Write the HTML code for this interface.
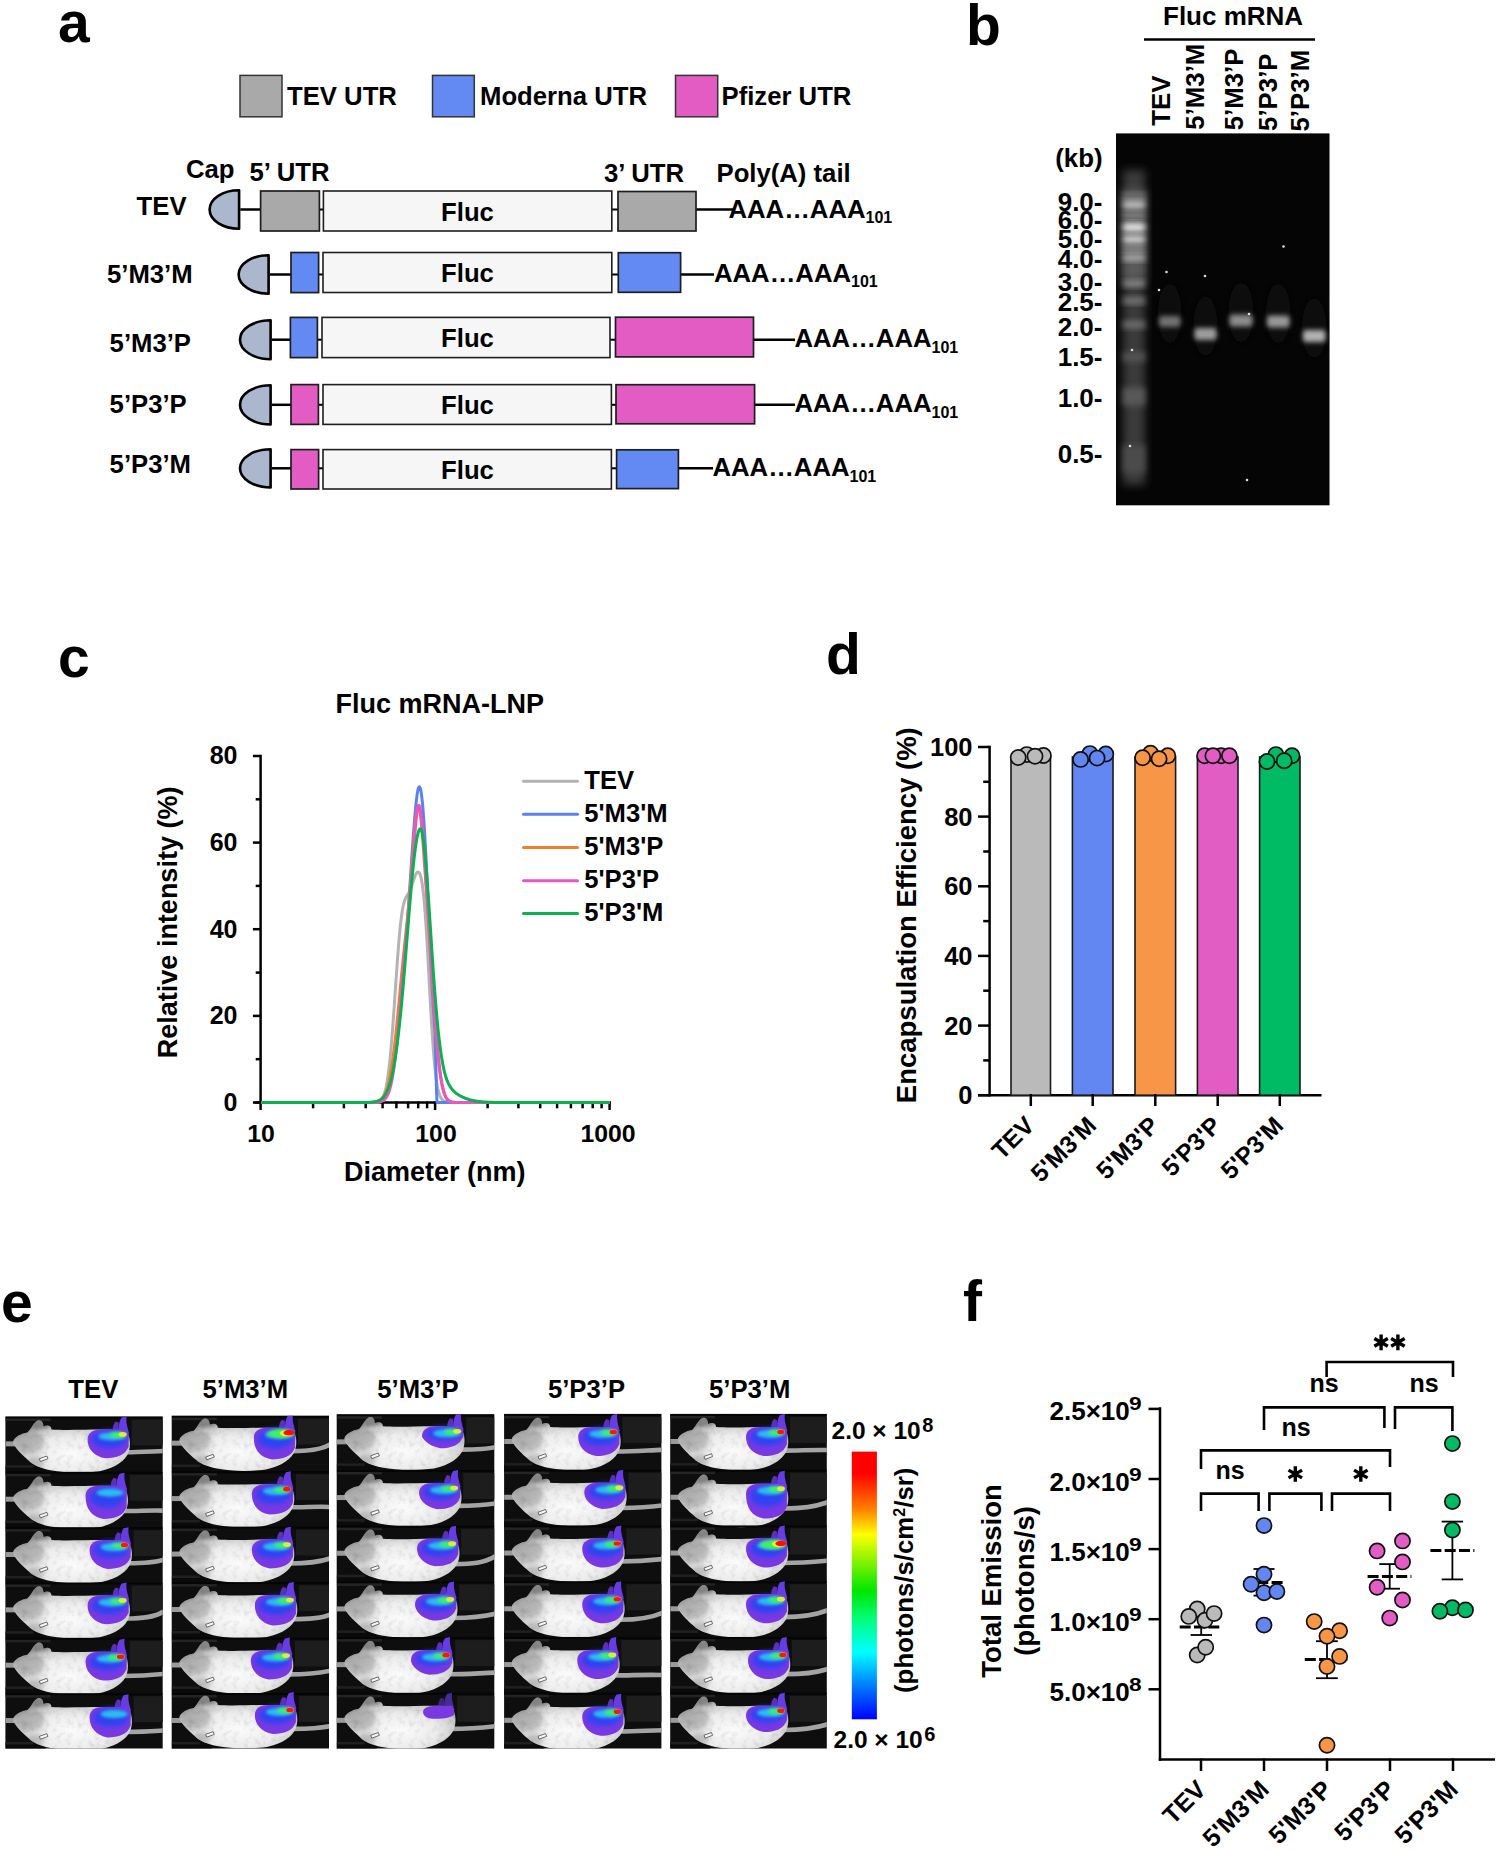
<!DOCTYPE html>
<html><head><meta charset="utf-8"><title>Figure</title>
<style>html,body{margin:0;padding:0;background:#fff;}svg{display:block;}</style></head>
<body>
<svg width="1500" height="1850" viewBox="0 0 1500 1850" font-family="Liberation Sans" font-weight="bold">
<rect width="1500" height="1850" fill="#fff"/>
<text x="58.0" y="42.0" font-size="57" fill="#000" >a</text>
<rect x="240.0" y="75.4" width="42.0" height="41.4" fill="#a9a9a9" stroke="#333" stroke-width="1.5" />
<text x="287.0" y="105.3" font-size="25.7" fill="#000" >TEV UTR</text>
<rect x="432.5" y="75.4" width="41.8" height="41.4" fill="#6389f2" stroke="#333" stroke-width="1.5" />
<text x="480.0" y="105.3" font-size="25.7" fill="#000" >Moderna UTR</text>
<rect x="675.5" y="75.4" width="42.2" height="41.4" fill="#e35cc4" stroke="#333" stroke-width="1.5" />
<text x="721.5" y="105.3" font-size="25.7" fill="#000" >Pfizer UTR</text>
<text x="186.0" y="177.5" font-size="25.7" fill="#000" >Cap</text>
<text x="249.5" y="180.5" font-size="25.7" fill="#000" >5’ UTR</text>
<text x="604.0" y="181.5" font-size="25.7" fill="#000" >3’ UTR</text>
<text x="716.5" y="181.5" font-size="25.7" fill="#000" >Poly(A) tail</text>
<text x="136.6" y="215.0" font-size="25.7" fill="#000" >TEV</text>
<line x1="240.3" y1="209.5" x2="260.6" y2="209.5" stroke="#000" stroke-width="2.5" />
<line x1="319.4" y1="209.5" x2="323.4" y2="209.5" stroke="#000" stroke-width="2" />
<line x1="611.8" y1="209.5" x2="618.0" y2="209.5" stroke="#000" stroke-width="2" />
<line x1="696.0" y1="209.5" x2="735.0" y2="209.5" stroke="#000" stroke-width="2.5" />
<path d="M239.1,190.2 A29.5,19.3 0 0 0 239.1,228.8 Z" fill="#aab7cc" stroke="#000" stroke-width="2.6" stroke-linejoin="round"/>
<rect x="260.6" y="191.0" width="58.8" height="40.0" fill="#a9a9a9" stroke="#1e1e1e" stroke-width="1.7" />
<rect x="323.4" y="191.0" width="288.4" height="40.0" fill="#f6f6f6" stroke="#1e1e1e" stroke-width="1.6" />
<text x="467.5" y="220.5" font-size="25.7" text-anchor="middle" fill="#000" >Fluc</text>
<rect x="618.0" y="191.5" width="78.0" height="39.5" fill="#a9a9a9" stroke="#1e1e1e" stroke-width="1.7" />
<text x="728.5" y="217.7" font-size="25.7" fill="#000" >AAA…AAA<tspan font-size="16" dy="5.5">101</tspan></text>
<text x="107.0" y="283.0" font-size="25.7" fill="#000" >5’M3’M</text>
<line x1="269.8" y1="274.5" x2="291.0" y2="274.5" stroke="#000" stroke-width="2.5" />
<line x1="318.6" y1="274.5" x2="323.0" y2="274.5" stroke="#000" stroke-width="2" />
<line x1="611.8" y1="274.5" x2="618.3" y2="274.5" stroke="#000" stroke-width="2" />
<line x1="680.6" y1="274.5" x2="714.0" y2="274.5" stroke="#000" stroke-width="2.5" />
<path d="M268.6,255.2 A30.0,19.3 0 0 0 268.6,293.8 Z" fill="#aab7cc" stroke="#000" stroke-width="2.6" stroke-linejoin="round"/>
<rect x="291.0" y="252.5" width="27.6" height="40.1" fill="#6389f2" stroke="#1e1e1e" stroke-width="1.7" />
<rect x="323.0" y="252.5" width="288.8" height="40.0" fill="#f6f6f6" stroke="#1e1e1e" stroke-width="1.6" />
<text x="467.5" y="282.0" font-size="25.7" text-anchor="middle" fill="#000" >Fluc</text>
<rect x="618.3" y="252.7" width="62.3" height="39.6" fill="#6389f2" stroke="#1e1e1e" stroke-width="1.7" />
<text x="714.0" y="281.8" font-size="25.7" fill="#000" >AAA…AAA<tspan font-size="16" dy="5.5">101</tspan></text>
<text x="109.6" y="351.6" font-size="25.7" fill="#000" >5’M3’P</text>
<line x1="271.8" y1="339.7" x2="290.4" y2="339.7" stroke="#000" stroke-width="2.5" />
<line x1="317.4" y1="339.7" x2="322.0" y2="339.7" stroke="#000" stroke-width="2" />
<line x1="610.0" y1="339.7" x2="615.5" y2="339.7" stroke="#000" stroke-width="2" />
<line x1="753.5" y1="339.7" x2="795.0" y2="339.7" stroke="#000" stroke-width="2.5" />
<path d="M270.6,320.2 A30.6,19.5 0 0 0 270.6,359.2 Z" fill="#aab7cc" stroke="#000" stroke-width="2.6" stroke-linejoin="round"/>
<rect x="290.4" y="317.4" width="27.0" height="40.2" fill="#6389f2" stroke="#1e1e1e" stroke-width="1.7" />
<rect x="322.0" y="317.4" width="288.0" height="40.2" fill="#f6f6f6" stroke="#1e1e1e" stroke-width="1.6" />
<text x="467.5" y="347.0" font-size="25.7" text-anchor="middle" fill="#000" >Fluc</text>
<rect x="615.5" y="317.2" width="138.0" height="39.7" fill="#e35cc4" stroke="#1e1e1e" stroke-width="1.7" />
<text x="794.5" y="347.0" font-size="25.7" fill="#000" >AAA…AAA<tspan font-size="16" dy="5.5">101</tspan></text>
<text x="109.6" y="412.6" font-size="25.7" fill="#000" >5’P3’P</text>
<line x1="271.8" y1="404.8" x2="291.0" y2="404.8" stroke="#000" stroke-width="2.5" />
<line x1="318.4" y1="404.8" x2="323.0" y2="404.8" stroke="#000" stroke-width="2" />
<line x1="611.4" y1="404.8" x2="616.0" y2="404.8" stroke="#000" stroke-width="2" />
<line x1="754.6" y1="404.8" x2="795.0" y2="404.8" stroke="#000" stroke-width="2.5" />
<path d="M270.6,385.2 A30.6,19.6 0 0 0 270.6,424.4 Z" fill="#aab7cc" stroke="#000" stroke-width="2.6" stroke-linejoin="round"/>
<rect x="291.0" y="384.6" width="27.4" height="39.8" fill="#e35cc4" stroke="#1e1e1e" stroke-width="1.7" />
<rect x="323.0" y="384.6" width="288.4" height="39.8" fill="#f6f6f6" stroke="#1e1e1e" stroke-width="1.6" />
<text x="467.5" y="414.0" font-size="25.7" text-anchor="middle" fill="#000" >Fluc</text>
<rect x="616.0" y="384.7" width="138.6" height="39.1" fill="#e35cc4" stroke="#1e1e1e" stroke-width="1.7" />
<text x="794.5" y="412.0" font-size="25.7" fill="#000" >AAA…AAA<tspan font-size="16" dy="5.5">101</tspan></text>
<text x="109.6" y="473.0" font-size="25.7" fill="#000" >5’P3’M</text>
<line x1="271.8" y1="468.3" x2="291.0" y2="468.3" stroke="#000" stroke-width="2.5" />
<line x1="318.6" y1="468.3" x2="323.0" y2="468.3" stroke="#000" stroke-width="2" />
<line x1="611.4" y1="468.3" x2="616.6" y2="468.3" stroke="#000" stroke-width="2" />
<line x1="678.4" y1="468.3" x2="713.0" y2="468.3" stroke="#000" stroke-width="2.5" />
<path d="M270.6,449.2 A30.6,19.1 0 0 0 270.6,487.4 Z" fill="#aab7cc" stroke="#000" stroke-width="2.6" stroke-linejoin="round"/>
<rect x="291.0" y="449.6" width="27.6" height="39.4" fill="#e35cc4" stroke="#1e1e1e" stroke-width="1.7" />
<rect x="323.0" y="449.6" width="288.4" height="39.4" fill="#f6f6f6" stroke="#1e1e1e" stroke-width="1.6" />
<text x="467.5" y="478.8" font-size="25.7" text-anchor="middle" fill="#000" >Fluc</text>
<rect x="616.6" y="449.8" width="61.8" height="38.8" fill="#6389f2" stroke="#1e1e1e" stroke-width="1.7" />
<text x="712.5" y="476.3" font-size="25.7" fill="#000" >AAA…AAA<tspan font-size="16" dy="5.5">101</tspan></text>
<text x="966.0" y="45.0" font-size="57" fill="#000" >b</text>
<text x="1163.0" y="24.5" font-size="26" fill="#000" >Fluc mRNA</text>
<line x1="1144.0" y1="39.5" x2="1315.0" y2="39.5" stroke="#000" stroke-width="2.5" />
<text x="0" y="0" font-size="25.8" transform="translate(1169.5,125.7) rotate(-90)" >TEV</text>
<text x="0" y="0" font-size="25.8" transform="translate(1204.2,129.7) rotate(-90)" >5’M3’M</text>
<text x="0" y="0" font-size="25.8" transform="translate(1243.2,130.3) rotate(-90)" >5’M3’P</text>
<text x="0" y="0" font-size="25.8" transform="translate(1277.4,130.9) rotate(-90)" >5’P3’P</text>
<text x="0" y="0" font-size="25.8" transform="translate(1308.6,131.5) rotate(-90)" >5’P3’M</text>
<text x="1102.5" y="167.0" font-size="25.8" text-anchor="end" fill="#000" >(kb)</text>
<text x="1102.5" y="211.3" font-size="26" text-anchor="end" fill="#000" >9.0-</text>
<text x="1102.5" y="228.8" font-size="26" text-anchor="end" fill="#000" >6.0-</text>
<text x="1102.5" y="248.0" font-size="26" text-anchor="end" fill="#000" >5.0-</text>
<text x="1102.5" y="267.5" font-size="26" text-anchor="end" fill="#000" >4.0-</text>
<text x="1102.5" y="291.3" font-size="26" text-anchor="end" fill="#000" >3.0-</text>
<text x="1102.5" y="310.8" font-size="26" text-anchor="end" fill="#000" >2.5-</text>
<text x="1102.5" y="335.6" font-size="26" text-anchor="end" fill="#000" >2.0-</text>
<text x="1102.5" y="365.9" font-size="26" text-anchor="end" fill="#000" >1.5-</text>
<text x="1102.5" y="407.0" font-size="26" text-anchor="end" fill="#000" >1.0-</text>
<text x="1102.5" y="463.2" font-size="26" text-anchor="end" fill="#000" >0.5-</text>
<rect x="1116" y="133.4" width="213.5" height="371.9" fill="#050505"/>
<defs><filter id="gb" x="-50%" y="-50%" width="200%" height="200%"><feGaussianBlur stdDeviation="2.4"/></filter><filter id="gb2" x="-50%" y="-50%" width="200%" height="200%"><feGaussianBlur stdDeviation="4"/></filter><filter id="gb3" x="-50%" y="-50%" width="200%" height="200%"><feGaussianBlur stdDeviation="3"/></filter><clipPath id="gelclip"><rect x="1116" y="133.4" width="213.5" height="371.9"/></clipPath></defs>
<g clip-path="url(#gelclip)">
<rect x="1123" y="170" width="22" height="315" fill="#3a3a3a" filter="url(#gb2)"/>
<rect x="1123" y="190" width="22" height="90" fill="#5a5a5a" filter="url(#gb2)"/>
<rect x="1123" y="193.0" width="22" height="6" fill="rgb(114,114,114)" filter="url(#gb3)"/>
<rect x="1123" y="201.1" width="22" height="7" fill="rgb(204,204,204)" filter="url(#gb3)"/>
<rect x="1123" y="212.5" width="22" height="5" fill="rgb(140,140,140)" filter="url(#gb3)"/>
<rect x="1123" y="223.3" width="22" height="8" fill="rgb(242,242,242)" filter="url(#gb3)"/>
<rect x="1123" y="235.7" width="22" height="7" fill="rgb(224,224,224)" filter="url(#gb3)"/>
<rect x="1123" y="246.5" width="22" height="5" fill="rgb(153,153,153)" filter="url(#gb3)"/>
<rect x="1123" y="254.6" width="22" height="6" fill="rgb(183,183,183)" filter="url(#gb3)"/>
<rect x="1123" y="280.5" width="22" height="6" fill="rgb(147,147,147)" filter="url(#gb3)"/>
<rect x="1123" y="297.8" width="22" height="6" fill="rgb(127,127,127)" filter="url(#gb3)"/>
<rect x="1123" y="321.1" width="22" height="7" fill="rgb(114,114,114)" filter="url(#gb3)"/>
<rect x="1123" y="352.3" width="22" height="9" fill="rgb(84,84,84)" filter="url(#gb3)"/>
<rect x="1123" y="387.5" width="22" height="18" fill="rgb(89,89,89)" filter="url(#gb3)"/>
<rect x="1123" y="445.0" width="22" height="28" fill="rgb(76,76,76)" filter="url(#gb3)"/>
<ellipse cx="1169.8" cy="313.5" rx="11.8" ry="30" fill="#0c0c0c" filter="url(#gb2)"/>
<rect x="1159" y="316.0" width="21.5" height="11" rx="3" fill="rgb(114,114,114)" filter="url(#gb)"/>
<ellipse cx="1205.5" cy="326.0" rx="12.0" ry="30" fill="#0c0c0c" filter="url(#gb2)"/>
<rect x="1194.5" y="328.0" width="22.0" height="12" rx="3" fill="rgb(158,158,158)" filter="url(#gb)"/>
<ellipse cx="1241.0" cy="312.5" rx="12.5" ry="30" fill="#0c0c0c" filter="url(#gb2)"/>
<rect x="1229.5" y="314.5" width="23.0" height="12" rx="3" fill="rgb(140,140,140)" filter="url(#gb)"/>
<ellipse cx="1278.2" cy="313.5" rx="12.2" ry="30" fill="#0c0c0c" filter="url(#gb2)"/>
<rect x="1267" y="315.5" width="22.5" height="12" rx="3" fill="rgb(153,153,153)" filter="url(#gb)"/>
<ellipse cx="1314.2" cy="328.0" rx="12.2" ry="30" fill="#0c0c0c" filter="url(#gb2)"/>
<rect x="1303" y="330.0" width="22.5" height="12" rx="3" fill="rgb(178,178,178)" filter="url(#gb)"/>
<circle cx="1159" cy="290" r="1.3" fill="#ddd"/>
<circle cx="1166.5" cy="272" r="1.3" fill="#ddd"/>
<circle cx="1205" cy="276" r="1.3" fill="#ddd"/>
<circle cx="1249" cy="314" r="1.3" fill="#ddd"/>
<circle cx="1283.5" cy="246.5" r="1.3" fill="#ddd"/>
<circle cx="1132" cy="350" r="1.3" fill="#ddd"/>
<circle cx="1130" cy="446" r="1.3" fill="#ddd"/>
<circle cx="1247" cy="480" r="1.3" fill="#ddd"/>
</g>
<text x="58.0" y="677.0" font-size="57" fill="#000" >c</text>
<text x="439.7" y="712.7" font-size="27" text-anchor="middle" fill="#000" >Fluc mRNA-LNP</text>
<line x1="260.6" y1="754.8" x2="260.6" y2="1103.7" stroke="#000" stroke-width="2.5" />
<line x1="254.5" y1="1102.5" x2="610.8" y2="1102.5" stroke="#000" stroke-width="2.5" />
<line x1="252.9" y1="1102.5" x2="260.6" y2="1102.5" stroke="#000" stroke-width="2.5" />
<text x="237.5" y="1110.7" font-size="25" text-anchor="end" fill="#000" >0</text>
<line x1="255.7" y1="1059.2" x2="260.6" y2="1059.2" stroke="#000" stroke-width="2.5" />
<line x1="252.9" y1="1015.9" x2="260.6" y2="1015.9" stroke="#000" stroke-width="2.5" />
<text x="237.5" y="1024.1" font-size="25" text-anchor="end" fill="#000" >20</text>
<line x1="255.7" y1="972.6" x2="260.6" y2="972.6" stroke="#000" stroke-width="2.5" />
<line x1="252.9" y1="929.2" x2="260.6" y2="929.2" stroke="#000" stroke-width="2.5" />
<text x="237.5" y="937.5" font-size="25" text-anchor="end" fill="#000" >40</text>
<line x1="255.7" y1="885.9" x2="260.6" y2="885.9" stroke="#000" stroke-width="2.5" />
<line x1="252.9" y1="842.6" x2="260.6" y2="842.6" stroke="#000" stroke-width="2.5" />
<text x="237.5" y="850.8" font-size="25" text-anchor="end" fill="#000" >60</text>
<line x1="255.7" y1="799.3" x2="260.6" y2="799.3" stroke="#000" stroke-width="2.5" />
<line x1="252.9" y1="756.0" x2="260.6" y2="756.0" stroke="#000" stroke-width="2.5" />
<text x="237.5" y="764.2" font-size="25" text-anchor="end" fill="#000" >80</text>
<line x1="260.6" y1="1101.5" x2="260.6" y2="1110.0" stroke="#000" stroke-width="2.5" />
<line x1="313.1" y1="1101.5" x2="313.1" y2="1108.3" stroke="#000" stroke-width="2.5" />
<line x1="343.9" y1="1101.5" x2="343.9" y2="1108.3" stroke="#000" stroke-width="2.5" />
<line x1="365.7" y1="1101.5" x2="365.7" y2="1108.3" stroke="#000" stroke-width="2.5" />
<line x1="382.6" y1="1101.5" x2="382.6" y2="1108.3" stroke="#000" stroke-width="2.5" />
<line x1="396.4" y1="1101.5" x2="396.4" y2="1108.3" stroke="#000" stroke-width="2.5" />
<line x1="408.1" y1="1101.5" x2="408.1" y2="1108.3" stroke="#000" stroke-width="2.5" />
<line x1="418.2" y1="1101.5" x2="418.2" y2="1108.3" stroke="#000" stroke-width="2.5" />
<line x1="427.1" y1="1101.5" x2="427.1" y2="1108.3" stroke="#000" stroke-width="2.5" />
<line x1="435.1" y1="1101.5" x2="435.1" y2="1110.0" stroke="#000" stroke-width="2.5" />
<line x1="487.6" y1="1101.5" x2="487.6" y2="1108.3" stroke="#000" stroke-width="2.5" />
<line x1="518.4" y1="1101.5" x2="518.4" y2="1108.3" stroke="#000" stroke-width="2.5" />
<line x1="540.2" y1="1101.5" x2="540.2" y2="1108.3" stroke="#000" stroke-width="2.5" />
<line x1="557.1" y1="1101.5" x2="557.1" y2="1108.3" stroke="#000" stroke-width="2.5" />
<line x1="570.9" y1="1101.5" x2="570.9" y2="1108.3" stroke="#000" stroke-width="2.5" />
<line x1="582.6" y1="1101.5" x2="582.6" y2="1108.3" stroke="#000" stroke-width="2.5" />
<line x1="592.7" y1="1101.5" x2="592.7" y2="1108.3" stroke="#000" stroke-width="2.5" />
<line x1="601.6" y1="1101.5" x2="601.6" y2="1108.3" stroke="#000" stroke-width="2.5" />
<line x1="609.6" y1="1101.5" x2="609.6" y2="1110.0" stroke="#000" stroke-width="2.5" />
<text x="261.0" y="1141.5" font-size="24.8" text-anchor="middle" fill="#000" >10</text>
<text x="436.0" y="1141.5" font-size="24.8" text-anchor="middle" fill="#000" >100</text>
<text x="608.0" y="1141.5" font-size="24.8" text-anchor="middle" fill="#000" >1000</text>
<text x="434.8" y="1180.8" font-size="27" text-anchor="middle" fill="#000" >Diameter (nm)</text>
<text x="0" y="0" font-size="27" text-anchor="middle" transform="translate(177.2,922.4) rotate(-90)" >Relative intensity (%)</text>
<polyline points="261.5,1102.5 262.0,1102.5 262.5,1102.5 263.0,1102.5 263.5,1102.5 264.0,1102.5 264.5,1102.5 265.0,1102.5 265.5,1102.5 266.0,1102.5 266.5,1102.5 267.0,1102.5 267.5,1102.5 268.0,1102.5 268.5,1102.5 269.0,1102.5 269.5,1102.5 270.0,1102.5 270.5,1102.5 271.0,1102.5 271.5,1102.5 272.0,1102.5 272.5,1102.5 273.0,1102.5 273.5,1102.5 274.0,1102.5 274.5,1102.5 275.0,1102.5 275.5,1102.5 276.0,1102.5 276.5,1102.5 277.0,1102.5 277.5,1102.5 278.0,1102.5 278.5,1102.5 279.0,1102.5 279.5,1102.5 280.0,1102.5 280.5,1102.5 281.0,1102.5 281.5,1102.5 282.0,1102.5 282.5,1102.5 283.0,1102.5 283.5,1102.5 284.0,1102.5 284.5,1102.5 285.0,1102.5 285.5,1102.5 286.0,1102.5 286.5,1102.5 287.0,1102.5 287.5,1102.5 288.0,1102.5 288.5,1102.5 289.0,1102.5 289.5,1102.5 290.0,1102.5 290.5,1102.5 291.0,1102.5 291.5,1102.5 292.0,1102.5 292.5,1102.5 293.0,1102.5 293.5,1102.5 294.0,1102.5 294.5,1102.5 295.0,1102.5 295.5,1102.5 296.0,1102.5 296.5,1102.5 297.0,1102.5 297.5,1102.5 298.0,1102.5 298.5,1102.5 299.0,1102.5 299.5,1102.5 300.0,1102.5 300.5,1102.5 301.0,1102.5 301.5,1102.5 302.0,1102.5 302.5,1102.5 303.0,1102.5 303.5,1102.5 304.0,1102.5 304.5,1102.5 305.0,1102.5 305.5,1102.5 306.0,1102.5 306.5,1102.5 307.0,1102.5 307.5,1102.5 308.0,1102.5 308.5,1102.5 309.0,1102.5 309.5,1102.5 310.0,1102.5 310.5,1102.5 311.0,1102.5 311.5,1102.5 312.0,1102.5 312.5,1102.5 313.0,1102.5 313.5,1102.5 314.0,1102.5 314.5,1102.5 315.0,1102.5 315.5,1102.5 316.0,1102.5 316.5,1102.5 317.0,1102.5 317.5,1102.5 318.0,1102.5 318.5,1102.5 319.0,1102.5 319.5,1102.5 320.0,1102.5 320.5,1102.5 321.0,1102.5 321.5,1102.5 322.0,1102.5 322.5,1102.5 323.0,1102.5 323.5,1102.5 324.0,1102.5 324.5,1102.5 325.0,1102.5 325.5,1102.5 326.0,1102.5 326.5,1102.5 327.0,1102.5 327.5,1102.5 328.0,1102.5 328.5,1102.5 329.0,1102.5 329.5,1102.5 330.0,1102.5 330.5,1102.5 331.0,1102.5 331.5,1102.5 332.0,1102.5 332.5,1102.5 333.0,1102.5 333.5,1102.5 334.0,1102.5 334.5,1102.5 335.0,1102.5 335.5,1102.5 336.0,1102.5 336.5,1102.5 337.0,1102.5 337.5,1102.5 338.0,1102.5 338.5,1102.5 339.0,1102.5 339.5,1102.5 340.0,1102.5 340.5,1102.5 341.0,1102.5 341.5,1102.5 342.0,1102.5 342.5,1102.5 343.0,1102.5 343.5,1102.5 344.0,1102.5 344.5,1102.5 345.0,1102.5 345.5,1102.5 346.0,1102.5 346.5,1102.5 347.0,1102.5 347.5,1102.5 348.0,1102.5 348.5,1102.5 349.0,1102.5 349.5,1102.5 350.0,1102.5 350.5,1102.5 351.0,1102.5 351.5,1102.5 352.0,1102.5 352.5,1102.5 353.0,1102.5 353.5,1102.5 354.0,1102.5 354.5,1102.5 355.0,1102.5 355.5,1102.5 356.0,1102.5 356.5,1102.5 357.0,1102.5 357.5,1102.5 358.0,1102.5 358.5,1102.5 359.0,1102.5 359.5,1102.5 360.0,1102.5 360.5,1102.5 361.0,1102.5 361.5,1102.5 362.0,1102.5 362.5,1102.5 363.0,1102.5 363.5,1102.5 364.0,1102.5 364.5,1102.5 365.0,1102.5 365.5,1102.5 366.0,1102.5 366.5,1102.5 367.0,1102.5 367.5,1102.5 368.0,1102.5 368.5,1102.5 369.0,1102.5 369.5,1102.5 370.0,1102.5 370.5,1102.5 371.0,1102.5 371.5,1102.5 372.0,1102.5 372.5,1102.5 373.0,1102.4 373.5,1102.4 374.0,1102.4 374.5,1102.4 375.0,1102.3 375.5,1102.3 376.0,1102.2 376.5,1102.1 377.0,1102.0 377.5,1101.9 378.0,1101.8 378.5,1101.6 379.0,1101.4 379.5,1101.1 380.0,1100.8 380.5,1100.4 381.0,1099.9 381.5,1099.3 382.0,1098.7 382.5,1097.9 383.0,1096.9 383.5,1095.9 384.0,1094.6 384.5,1093.2 385.0,1091.5 385.5,1089.6 386.0,1087.5 386.5,1085.0 387.0,1082.3 387.5,1079.3 388.0,1075.9 388.5,1072.3 389.0,1068.2 389.5,1063.8 390.0,1059.1 390.5,1054.0 391.0,1048.5 391.5,1042.7 392.0,1036.6 392.5,1030.2 393.0,1023.5 393.5,1016.6 394.0,1009.6 394.5,1002.4 395.0,995.1 395.5,987.7 396.0,980.4 396.5,973.2 397.0,966.1 397.5,959.2 398.0,952.6 398.5,946.2 399.0,940.2 399.5,934.6 400.0,929.3 400.5,924.5 401.0,920.1 401.5,916.2 402.0,912.7 402.5,909.6 403.0,907.0 403.5,904.7 404.0,902.7 404.5,901.1 405.0,899.7 405.5,898.5 406.0,897.5 406.5,896.6 407.0,895.7 407.5,894.9 408.0,894.1 408.5,893.2 409.0,892.2 409.5,891.2 410.0,890.1 410.5,888.9 411.0,887.6 411.5,886.2 412.0,884.8 412.5,883.3 413.0,881.8 413.5,880.3 414.0,878.9 414.5,877.5 415.0,876.2 415.5,875.0 416.0,874.0 416.5,873.2 417.0,872.5 417.5,872.1 418.0,872.0 418.5,872.1 419.0,872.5 419.5,873.2 420.0,874.3 420.5,875.8 421.0,877.7 421.5,880.0 422.0,882.8 422.5,886.1 423.0,890.0 423.5,894.4 424.0,899.4 424.5,905.0 425.0,911.2 425.5,918.0 426.0,925.3 426.5,933.1 427.0,941.3 427.5,950.0 428.0,958.9 428.5,968.0 429.0,977.3 429.5,986.6 430.0,995.8 430.5,1004.8 431.0,1013.6 431.5,1022.1 432.0,1030.2 432.5,1037.9 433.0,1045.1 433.5,1051.7 434.0,1057.9 434.5,1063.5 435.0,1068.5 435.5,1073.1 436.0,1077.2 436.5,1080.8 437.0,1083.9 437.5,1086.7 438.0,1089.1 438.5,1091.2 439.0,1093.0 439.5,1094.5 440.0,1095.8 440.5,1096.9 441.0,1097.8 441.5,1098.6 442.0,1099.3 442.5,1099.8 443.0,1100.3 443.5,1100.7 444.0,1101.0 444.5,1101.3 445.0,1101.5 445.5,1101.7 446.0,1101.8 446.5,1102.0 447.0,1102.1 447.5,1102.2 448.0,1102.2 448.5,1102.3 449.0,1102.3 449.5,1102.4 450.0,1102.4 450.5,1102.4 451.0,1102.4 451.5,1102.4 452.0,1102.5 452.5,1102.5 453.0,1102.5 453.5,1102.5 454.0,1102.5 454.5,1102.5 455.0,1102.5 455.5,1102.5 456.0,1102.5 456.5,1102.5 457.0,1102.5 457.5,1102.5 458.0,1102.5 458.5,1102.5 459.0,1102.5 459.5,1102.5 460.0,1102.5 460.5,1102.5 461.0,1102.5 461.5,1102.5 462.0,1102.5 462.5,1102.5 463.0,1102.5 463.5,1102.5 464.0,1102.5 464.5,1102.5 465.0,1102.5 465.5,1102.5 466.0,1102.5 466.5,1102.5 467.0,1102.5 467.5,1102.5 468.0,1102.5 468.5,1102.5 469.0,1102.5 469.5,1102.5 470.0,1102.5 470.5,1102.5 471.0,1102.5 471.5,1102.5 472.0,1102.5 472.5,1102.5 473.0,1102.5 473.5,1102.5 474.0,1102.5 474.5,1102.5 475.0,1102.5 475.5,1102.5 476.0,1102.5 476.5,1102.5 477.0,1102.5 477.5,1102.5 478.0,1102.5 478.5,1102.5 479.0,1102.5 479.5,1102.5 480.0,1102.5 480.5,1102.5 481.0,1102.5 481.5,1102.5 482.0,1102.5 482.5,1102.5 483.0,1102.5 483.5,1102.5 484.0,1102.5 484.5,1102.5 485.0,1102.5 485.5,1102.5 486.0,1102.5 486.5,1102.5 487.0,1102.5 487.5,1102.5 488.0,1102.5 488.5,1102.5 489.0,1102.5 489.5,1102.5 490.0,1102.5 490.5,1102.5 491.0,1102.5 491.5,1102.5 492.0,1102.5 492.5,1102.5 493.0,1102.5 493.5,1102.5 494.0,1102.5 494.5,1102.5 495.0,1102.5 495.5,1102.5 496.0,1102.5 496.5,1102.5 497.0,1102.5 497.5,1102.5 498.0,1102.5 498.5,1102.5 499.0,1102.5 499.5,1102.5 500.0,1102.5 500.5,1102.5 501.0,1102.5 501.5,1102.5 502.0,1102.5 502.5,1102.5 503.0,1102.5 503.5,1102.5 504.0,1102.5 504.5,1102.5 505.0,1102.5 505.5,1102.5 506.0,1102.5 506.5,1102.5 507.0,1102.5 507.5,1102.5 508.0,1102.5 508.5,1102.5 509.0,1102.5 509.5,1102.5 510.0,1102.5 510.5,1102.5 511.0,1102.5 511.5,1102.5 512.0,1102.5 512.5,1102.5 513.0,1102.5 513.5,1102.5 514.0,1102.5 514.5,1102.5 515.0,1102.5 515.5,1102.5 516.0,1102.5 516.5,1102.5 517.0,1102.5 517.5,1102.5 518.0,1102.5 518.5,1102.5 519.0,1102.5 519.5,1102.5 520.0,1102.5 520.5,1102.5 521.0,1102.5 521.5,1102.5 522.0,1102.5 522.5,1102.5 523.0,1102.5 523.5,1102.5 524.0,1102.5 524.5,1102.5 525.0,1102.5 525.5,1102.5 526.0,1102.5 526.5,1102.5 527.0,1102.5 527.5,1102.5 528.0,1102.5 528.5,1102.5 529.0,1102.5 529.5,1102.5 530.0,1102.5 530.5,1102.5 531.0,1102.5 531.5,1102.5 532.0,1102.5 532.5,1102.5 533.0,1102.5 533.5,1102.5 534.0,1102.5 534.5,1102.5 535.0,1102.5 535.5,1102.5 536.0,1102.5 536.5,1102.5 537.0,1102.5 537.5,1102.5 538.0,1102.5 538.5,1102.5 539.0,1102.5 539.5,1102.5 540.0,1102.5 540.5,1102.5 541.0,1102.5 541.5,1102.5 542.0,1102.5 542.5,1102.5 543.0,1102.5 543.5,1102.5 544.0,1102.5 544.5,1102.5 545.0,1102.5 545.5,1102.5 546.0,1102.5 546.5,1102.5 547.0,1102.5 547.5,1102.5 548.0,1102.5 548.5,1102.5 549.0,1102.5 549.5,1102.5 550.0,1102.5 550.5,1102.5 551.0,1102.5 551.5,1102.5 552.0,1102.5 552.5,1102.5 553.0,1102.5 553.5,1102.5 554.0,1102.5 554.5,1102.5 555.0,1102.5 555.5,1102.5 556.0,1102.5 556.5,1102.5 557.0,1102.5 557.5,1102.5 558.0,1102.5 558.5,1102.5 559.0,1102.5 559.5,1102.5 560.0,1102.5 560.5,1102.5 561.0,1102.5 561.5,1102.5 562.0,1102.5 562.5,1102.5 563.0,1102.5 563.5,1102.5 564.0,1102.5 564.5,1102.5 565.0,1102.5 565.5,1102.5 566.0,1102.5 566.5,1102.5 567.0,1102.5 567.5,1102.5 568.0,1102.5 568.5,1102.5 569.0,1102.5 569.5,1102.5 570.0,1102.5 570.5,1102.5 571.0,1102.5 571.5,1102.5 572.0,1102.5 572.5,1102.5 573.0,1102.5 573.5,1102.5 574.0,1102.5 574.5,1102.5 575.0,1102.5 575.5,1102.5 576.0,1102.5 576.5,1102.5 577.0,1102.5 577.5,1102.5 578.0,1102.5 578.5,1102.5 579.0,1102.5 579.5,1102.5 580.0,1102.5 580.5,1102.5 581.0,1102.5 581.5,1102.5 582.0,1102.5 582.5,1102.5 583.0,1102.5 583.5,1102.5 584.0,1102.5 584.5,1102.5 585.0,1102.5 585.5,1102.5 586.0,1102.5 586.5,1102.5 587.0,1102.5 587.5,1102.5 588.0,1102.5 588.5,1102.5 589.0,1102.5 589.5,1102.5 590.0,1102.5 590.5,1102.5 591.0,1102.5 591.5,1102.5 592.0,1102.5 592.5,1102.5 593.0,1102.5 593.5,1102.5 594.0,1102.5 594.5,1102.5 595.0,1102.5 595.5,1102.5 596.0,1102.5 596.5,1102.5 597.0,1102.5 597.5,1102.5 598.0,1102.5 598.5,1102.5 599.0,1102.5 599.5,1102.5 600.0,1102.5 600.5,1102.5 601.0,1102.5 601.5,1102.5 602.0,1102.5 602.5,1102.5 603.0,1102.5 603.5,1102.5 604.0,1102.5 604.5,1102.5 605.0,1102.5 605.5,1102.5 606.0,1102.5 606.5,1102.5 607.0,1102.5 607.5,1102.5 608.0,1102.5 608.5,1102.5 609.0,1102.5 609.5,1102.5" fill="none" stroke="#b3b3b3" stroke-width="3" stroke-linejoin="round"/>
<polyline points="261.5,1102.5 262.0,1102.5 262.5,1102.5 263.0,1102.5 263.5,1102.5 264.0,1102.5 264.5,1102.5 265.0,1102.5 265.5,1102.5 266.0,1102.5 266.5,1102.5 267.0,1102.5 267.5,1102.5 268.0,1102.5 268.5,1102.5 269.0,1102.5 269.5,1102.5 270.0,1102.5 270.5,1102.5 271.0,1102.5 271.5,1102.5 272.0,1102.5 272.5,1102.5 273.0,1102.5 273.5,1102.5 274.0,1102.5 274.5,1102.5 275.0,1102.5 275.5,1102.5 276.0,1102.5 276.5,1102.5 277.0,1102.5 277.5,1102.5 278.0,1102.5 278.5,1102.5 279.0,1102.5 279.5,1102.5 280.0,1102.5 280.5,1102.5 281.0,1102.5 281.5,1102.5 282.0,1102.5 282.5,1102.5 283.0,1102.5 283.5,1102.5 284.0,1102.5 284.5,1102.5 285.0,1102.5 285.5,1102.5 286.0,1102.5 286.5,1102.5 287.0,1102.5 287.5,1102.5 288.0,1102.5 288.5,1102.5 289.0,1102.5 289.5,1102.5 290.0,1102.5 290.5,1102.5 291.0,1102.5 291.5,1102.5 292.0,1102.5 292.5,1102.5 293.0,1102.5 293.5,1102.5 294.0,1102.5 294.5,1102.5 295.0,1102.5 295.5,1102.5 296.0,1102.5 296.5,1102.5 297.0,1102.5 297.5,1102.5 298.0,1102.5 298.5,1102.5 299.0,1102.5 299.5,1102.5 300.0,1102.5 300.5,1102.5 301.0,1102.5 301.5,1102.5 302.0,1102.5 302.5,1102.5 303.0,1102.5 303.5,1102.5 304.0,1102.5 304.5,1102.5 305.0,1102.5 305.5,1102.5 306.0,1102.5 306.5,1102.5 307.0,1102.5 307.5,1102.5 308.0,1102.5 308.5,1102.5 309.0,1102.5 309.5,1102.5 310.0,1102.5 310.5,1102.5 311.0,1102.5 311.5,1102.5 312.0,1102.5 312.5,1102.5 313.0,1102.5 313.5,1102.5 314.0,1102.5 314.5,1102.5 315.0,1102.5 315.5,1102.5 316.0,1102.5 316.5,1102.5 317.0,1102.5 317.5,1102.5 318.0,1102.5 318.5,1102.5 319.0,1102.5 319.5,1102.5 320.0,1102.5 320.5,1102.5 321.0,1102.5 321.5,1102.5 322.0,1102.5 322.5,1102.5 323.0,1102.5 323.5,1102.5 324.0,1102.5 324.5,1102.5 325.0,1102.5 325.5,1102.5 326.0,1102.5 326.5,1102.5 327.0,1102.5 327.5,1102.5 328.0,1102.5 328.5,1102.5 329.0,1102.5 329.5,1102.5 330.0,1102.5 330.5,1102.5 331.0,1102.5 331.5,1102.5 332.0,1102.5 332.5,1102.5 333.0,1102.5 333.5,1102.5 334.0,1102.5 334.5,1102.5 335.0,1102.5 335.5,1102.5 336.0,1102.5 336.5,1102.5 337.0,1102.5 337.5,1102.5 338.0,1102.5 338.5,1102.5 339.0,1102.5 339.5,1102.5 340.0,1102.5 340.5,1102.5 341.0,1102.5 341.5,1102.5 342.0,1102.5 342.5,1102.5 343.0,1102.5 343.5,1102.5 344.0,1102.5 344.5,1102.5 345.0,1102.5 345.5,1102.5 346.0,1102.5 346.5,1102.5 347.0,1102.5 347.5,1102.5 348.0,1102.5 348.5,1102.5 349.0,1102.5 349.5,1102.5 350.0,1102.5 350.5,1102.5 351.0,1102.5 351.5,1102.5 352.0,1102.5 352.5,1102.5 353.0,1102.5 353.5,1102.5 354.0,1102.5 354.5,1102.5 355.0,1102.5 355.5,1102.5 356.0,1102.5 356.5,1102.5 357.0,1102.5 357.5,1102.5 358.0,1102.5 358.5,1102.5 359.0,1102.5 359.5,1102.5 360.0,1102.5 360.5,1102.5 361.0,1102.5 361.5,1102.5 362.0,1102.5 362.5,1102.5 363.0,1102.5 363.5,1102.5 364.0,1102.5 364.5,1102.5 365.0,1102.5 365.5,1102.5 366.0,1102.5 366.5,1102.5 367.0,1102.5 367.5,1102.5 368.0,1102.5 368.5,1102.5 369.0,1102.5 369.5,1102.5 370.0,1102.5 370.5,1102.5 371.0,1102.5 371.5,1102.4 372.0,1102.4 372.5,1102.4 373.0,1102.4 373.5,1102.4 374.0,1102.3 374.5,1102.3 375.0,1102.3 375.5,1102.2 376.0,1102.2 376.5,1102.1 377.0,1102.0 377.5,1101.9 378.0,1101.8 378.5,1101.7 379.0,1101.5 379.5,1101.4 380.0,1101.2 380.5,1100.9 381.0,1100.7 381.5,1100.4 382.0,1100.0 382.5,1099.6 383.0,1099.2 383.5,1098.7 384.0,1098.1 384.5,1097.5 385.0,1096.7 385.5,1095.9 386.0,1095.0 386.5,1094.0 387.0,1092.9 387.5,1091.7 388.0,1090.4 388.5,1089.0 389.0,1087.4 389.5,1085.6 390.0,1083.8 390.5,1081.8 391.0,1079.6 391.5,1077.3 392.0,1074.8 392.5,1072.1 393.0,1069.3 393.5,1066.3 394.0,1063.1 394.5,1059.8 395.0,1056.3 395.5,1052.6 396.0,1048.8 396.5,1044.8 397.0,1040.6 397.5,1036.3 398.0,1031.8 398.5,1027.2 399.0,1022.4 399.5,1017.6 400.0,1012.5 400.5,1007.3 401.0,1002.0 401.5,996.6 402.0,991.0 402.5,985.4 403.0,979.5 403.5,973.6 404.0,967.5 404.5,961.3 405.0,954.9 405.5,948.5 406.0,941.8 406.5,935.1 407.0,928.2 407.5,921.2 408.0,914.1 408.5,906.8 409.0,899.5 409.5,892.1 410.0,884.6 410.5,877.1 411.0,869.6 411.5,862.1 412.0,854.7 412.5,847.4 413.0,840.3 413.5,833.4 414.0,826.7 414.5,820.4 415.0,814.4 415.5,808.9 416.0,803.8 416.5,799.3 417.0,795.4 417.5,792.2 418.0,789.7 418.5,787.9 419.0,787.0 419.5,786.8 420.0,787.5 420.5,789.0 421.0,791.4 421.5,794.7 422.0,798.8 422.5,803.8 423.0,809.5 423.5,816.1 424.0,823.3 424.5,831.2 425.0,839.8 425.5,848.8 426.0,858.4 426.5,868.3 427.0,878.6 427.5,889.2 428.0,899.9 428.5,910.7 429.0,921.6 429.5,932.4 430.0,943.1 430.5,953.7 431.0,964.0 431.5,974.0 432.0,983.8 432.5,993.2 433.0,1002.1 433.5,1010.7 434.0,1018.8 434.5,1026.5 435.0,1033.7 435.5,1048.2 436.0,1071.1 436.5,1090.0 437.0,1102.5 437.5,1102.5 438.0,1102.5 438.5,1102.5 439.0,1102.5 439.5,1102.5 440.0,1102.5 440.5,1102.5 441.0,1102.5 441.5,1102.5 442.0,1102.5 442.5,1102.5 443.0,1102.5 443.5,1102.5 444.0,1102.5 444.5,1102.5 445.0,1102.5 445.5,1102.5 446.0,1102.5 446.5,1102.5 447.0,1102.5 447.5,1102.5 448.0,1102.5 448.5,1102.5 449.0,1102.5 449.5,1102.5 450.0,1102.5 450.5,1102.5 451.0,1102.5 451.5,1102.5 452.0,1102.5 452.5,1102.5 453.0,1102.5 453.5,1102.5 454.0,1102.5 454.5,1102.5 455.0,1102.5 455.5,1102.5 456.0,1102.5 456.5,1102.5 457.0,1102.5 457.5,1102.5 458.0,1102.5 458.5,1102.5 459.0,1102.5 459.5,1102.5 460.0,1102.5 460.5,1102.5 461.0,1102.5 461.5,1102.5 462.0,1102.5 462.5,1102.5 463.0,1102.5 463.5,1102.5 464.0,1102.5 464.5,1102.5 465.0,1102.5 465.5,1102.5 466.0,1102.5 466.5,1102.5 467.0,1102.5 467.5,1102.5 468.0,1102.5 468.5,1102.5 469.0,1102.5 469.5,1102.5 470.0,1102.5 470.5,1102.5 471.0,1102.5 471.5,1102.5 472.0,1102.5 472.5,1102.5 473.0,1102.5 473.5,1102.5 474.0,1102.5 474.5,1102.5 475.0,1102.5 475.5,1102.5 476.0,1102.5 476.5,1102.5 477.0,1102.5 477.5,1102.5 478.0,1102.5 478.5,1102.5 479.0,1102.5 479.5,1102.5 480.0,1102.5 480.5,1102.5 481.0,1102.5 481.5,1102.5 482.0,1102.5 482.5,1102.5 483.0,1102.5 483.5,1102.5 484.0,1102.5 484.5,1102.5 485.0,1102.5 485.5,1102.5 486.0,1102.5 486.5,1102.5 487.0,1102.5 487.5,1102.5 488.0,1102.5 488.5,1102.5 489.0,1102.5 489.5,1102.5 490.0,1102.5 490.5,1102.5 491.0,1102.5 491.5,1102.5 492.0,1102.5 492.5,1102.5 493.0,1102.5 493.5,1102.5 494.0,1102.5 494.5,1102.5 495.0,1102.5 495.5,1102.5 496.0,1102.5 496.5,1102.5 497.0,1102.5 497.5,1102.5 498.0,1102.5 498.5,1102.5 499.0,1102.5 499.5,1102.5 500.0,1102.5 500.5,1102.5 501.0,1102.5 501.5,1102.5 502.0,1102.5 502.5,1102.5 503.0,1102.5 503.5,1102.5 504.0,1102.5 504.5,1102.5 505.0,1102.5 505.5,1102.5 506.0,1102.5 506.5,1102.5 507.0,1102.5 507.5,1102.5 508.0,1102.5 508.5,1102.5 509.0,1102.5 509.5,1102.5 510.0,1102.5 510.5,1102.5 511.0,1102.5 511.5,1102.5 512.0,1102.5 512.5,1102.5 513.0,1102.5 513.5,1102.5 514.0,1102.5 514.5,1102.5 515.0,1102.5 515.5,1102.5 516.0,1102.5 516.5,1102.5 517.0,1102.5 517.5,1102.5 518.0,1102.5 518.5,1102.5 519.0,1102.5 519.5,1102.5 520.0,1102.5 520.5,1102.5 521.0,1102.5 521.5,1102.5 522.0,1102.5 522.5,1102.5 523.0,1102.5 523.5,1102.5 524.0,1102.5 524.5,1102.5 525.0,1102.5 525.5,1102.5 526.0,1102.5 526.5,1102.5 527.0,1102.5 527.5,1102.5 528.0,1102.5 528.5,1102.5 529.0,1102.5 529.5,1102.5 530.0,1102.5 530.5,1102.5 531.0,1102.5 531.5,1102.5 532.0,1102.5 532.5,1102.5 533.0,1102.5 533.5,1102.5 534.0,1102.5 534.5,1102.5 535.0,1102.5 535.5,1102.5 536.0,1102.5 536.5,1102.5 537.0,1102.5 537.5,1102.5 538.0,1102.5 538.5,1102.5 539.0,1102.5 539.5,1102.5 540.0,1102.5 540.5,1102.5 541.0,1102.5 541.5,1102.5 542.0,1102.5 542.5,1102.5 543.0,1102.5 543.5,1102.5 544.0,1102.5 544.5,1102.5 545.0,1102.5 545.5,1102.5 546.0,1102.5 546.5,1102.5 547.0,1102.5 547.5,1102.5 548.0,1102.5 548.5,1102.5 549.0,1102.5 549.5,1102.5 550.0,1102.5 550.5,1102.5 551.0,1102.5 551.5,1102.5 552.0,1102.5 552.5,1102.5 553.0,1102.5 553.5,1102.5 554.0,1102.5 554.5,1102.5 555.0,1102.5 555.5,1102.5 556.0,1102.5 556.5,1102.5 557.0,1102.5 557.5,1102.5 558.0,1102.5 558.5,1102.5 559.0,1102.5 559.5,1102.5 560.0,1102.5 560.5,1102.5 561.0,1102.5 561.5,1102.5 562.0,1102.5 562.5,1102.5 563.0,1102.5 563.5,1102.5 564.0,1102.5 564.5,1102.5 565.0,1102.5 565.5,1102.5 566.0,1102.5 566.5,1102.5 567.0,1102.5 567.5,1102.5 568.0,1102.5 568.5,1102.5 569.0,1102.5 569.5,1102.5 570.0,1102.5 570.5,1102.5 571.0,1102.5 571.5,1102.5 572.0,1102.5 572.5,1102.5 573.0,1102.5 573.5,1102.5 574.0,1102.5 574.5,1102.5 575.0,1102.5 575.5,1102.5 576.0,1102.5 576.5,1102.5 577.0,1102.5 577.5,1102.5 578.0,1102.5 578.5,1102.5 579.0,1102.5 579.5,1102.5 580.0,1102.5 580.5,1102.5 581.0,1102.5 581.5,1102.5 582.0,1102.5 582.5,1102.5 583.0,1102.5 583.5,1102.5 584.0,1102.5 584.5,1102.5 585.0,1102.5 585.5,1102.5 586.0,1102.5 586.5,1102.5 587.0,1102.5 587.5,1102.5 588.0,1102.5 588.5,1102.5 589.0,1102.5 589.5,1102.5 590.0,1102.5 590.5,1102.5 591.0,1102.5 591.5,1102.5 592.0,1102.5 592.5,1102.5 593.0,1102.5 593.5,1102.5 594.0,1102.5 594.5,1102.5 595.0,1102.5 595.5,1102.5 596.0,1102.5 596.5,1102.5 597.0,1102.5 597.5,1102.5 598.0,1102.5 598.5,1102.5 599.0,1102.5 599.5,1102.5 600.0,1102.5 600.5,1102.5 601.0,1102.5 601.5,1102.5 602.0,1102.5 602.5,1102.5 603.0,1102.5 603.5,1102.5 604.0,1102.5 604.5,1102.5 605.0,1102.5 605.5,1102.5 606.0,1102.5 606.5,1102.5 607.0,1102.5 607.5,1102.5 608.0,1102.5 608.5,1102.5 609.0,1102.5 609.5,1102.5" fill="none" stroke="#5b80ef" stroke-width="3" stroke-linejoin="round"/>
<polyline points="261.5,1102.5 262.0,1102.5 262.5,1102.5 263.0,1102.5 263.5,1102.5 264.0,1102.5 264.5,1102.5 265.0,1102.5 265.5,1102.5 266.0,1102.5 266.5,1102.5 267.0,1102.5 267.5,1102.5 268.0,1102.5 268.5,1102.5 269.0,1102.5 269.5,1102.5 270.0,1102.5 270.5,1102.5 271.0,1102.5 271.5,1102.5 272.0,1102.5 272.5,1102.5 273.0,1102.5 273.5,1102.5 274.0,1102.5 274.5,1102.5 275.0,1102.5 275.5,1102.5 276.0,1102.5 276.5,1102.5 277.0,1102.5 277.5,1102.5 278.0,1102.5 278.5,1102.5 279.0,1102.5 279.5,1102.5 280.0,1102.5 280.5,1102.5 281.0,1102.5 281.5,1102.5 282.0,1102.5 282.5,1102.5 283.0,1102.5 283.5,1102.5 284.0,1102.5 284.5,1102.5 285.0,1102.5 285.5,1102.5 286.0,1102.5 286.5,1102.5 287.0,1102.5 287.5,1102.5 288.0,1102.5 288.5,1102.5 289.0,1102.5 289.5,1102.5 290.0,1102.5 290.5,1102.5 291.0,1102.5 291.5,1102.5 292.0,1102.5 292.5,1102.5 293.0,1102.5 293.5,1102.5 294.0,1102.5 294.5,1102.5 295.0,1102.5 295.5,1102.5 296.0,1102.5 296.5,1102.5 297.0,1102.5 297.5,1102.5 298.0,1102.5 298.5,1102.5 299.0,1102.5 299.5,1102.5 300.0,1102.5 300.5,1102.5 301.0,1102.5 301.5,1102.5 302.0,1102.5 302.5,1102.5 303.0,1102.5 303.5,1102.5 304.0,1102.5 304.5,1102.5 305.0,1102.5 305.5,1102.5 306.0,1102.5 306.5,1102.5 307.0,1102.5 307.5,1102.5 308.0,1102.5 308.5,1102.5 309.0,1102.5 309.5,1102.5 310.0,1102.5 310.5,1102.5 311.0,1102.5 311.5,1102.5 312.0,1102.5 312.5,1102.5 313.0,1102.5 313.5,1102.5 314.0,1102.5 314.5,1102.5 315.0,1102.5 315.5,1102.5 316.0,1102.5 316.5,1102.5 317.0,1102.5 317.5,1102.5 318.0,1102.5 318.5,1102.5 319.0,1102.5 319.5,1102.5 320.0,1102.5 320.5,1102.5 321.0,1102.5 321.5,1102.5 322.0,1102.5 322.5,1102.5 323.0,1102.5 323.5,1102.5 324.0,1102.5 324.5,1102.5 325.0,1102.5 325.5,1102.5 326.0,1102.5 326.5,1102.5 327.0,1102.5 327.5,1102.5 328.0,1102.5 328.5,1102.5 329.0,1102.5 329.5,1102.5 330.0,1102.5 330.5,1102.5 331.0,1102.5 331.5,1102.5 332.0,1102.5 332.5,1102.5 333.0,1102.5 333.5,1102.5 334.0,1102.5 334.5,1102.5 335.0,1102.5 335.5,1102.5 336.0,1102.5 336.5,1102.5 337.0,1102.5 337.5,1102.5 338.0,1102.5 338.5,1102.5 339.0,1102.5 339.5,1102.5 340.0,1102.5 340.5,1102.5 341.0,1102.5 341.5,1102.5 342.0,1102.5 342.5,1102.5 343.0,1102.5 343.5,1102.5 344.0,1102.5 344.5,1102.5 345.0,1102.5 345.5,1102.5 346.0,1102.5 346.5,1102.5 347.0,1102.5 347.5,1102.5 348.0,1102.5 348.5,1102.5 349.0,1102.5 349.5,1102.5 350.0,1102.5 350.5,1102.5 351.0,1102.5 351.5,1102.5 352.0,1102.5 352.5,1102.5 353.0,1102.5 353.5,1102.5 354.0,1102.5 354.5,1102.5 355.0,1102.5 355.5,1102.5 356.0,1102.5 356.5,1102.5 357.0,1102.5 357.5,1102.5 358.0,1102.5 358.5,1102.5 359.0,1102.5 359.5,1102.5 360.0,1102.5 360.5,1102.5 361.0,1102.5 361.5,1102.5 362.0,1102.5 362.5,1102.5 363.0,1102.5 363.5,1102.5 364.0,1102.5 364.5,1102.5 365.0,1102.5 365.5,1102.5 366.0,1102.5 366.5,1102.5 367.0,1102.5 367.5,1102.5 368.0,1102.5 368.5,1102.5 369.0,1102.5 369.5,1102.4 370.0,1102.4 370.5,1102.4 371.0,1102.4 371.5,1102.4 372.0,1102.4 372.5,1102.3 373.0,1102.3 373.5,1102.2 374.0,1102.2 374.5,1102.1 375.0,1102.1 375.5,1102.0 376.0,1101.9 376.5,1101.8 377.0,1101.7 377.5,1101.5 378.0,1101.3 378.5,1101.1 379.0,1100.9 379.5,1100.6 380.0,1100.3 380.5,1100.0 381.0,1099.6 381.5,1099.1 382.0,1098.6 382.5,1098.0 383.0,1097.4 383.5,1096.7 384.0,1095.8 384.5,1094.9 385.0,1093.9 385.5,1092.8 386.0,1091.6 386.5,1090.2 387.0,1088.7 387.5,1087.1 388.0,1085.3 388.5,1083.3 389.0,1081.2 389.5,1078.9 390.0,1076.5 390.5,1073.8 391.0,1071.0 391.5,1068.0 392.0,1064.8 392.5,1061.4 393.0,1057.8 393.5,1054.0 394.0,1050.0 394.5,1045.9 395.0,1041.6 395.5,1037.1 396.0,1032.5 396.5,1027.7 397.0,1022.8 397.5,1017.8 398.0,1012.7 398.5,1007.6 399.0,1002.3 399.5,997.1 400.0,991.8 400.5,986.6 401.0,981.4 401.5,976.2 402.0,971.0 402.5,966.0 403.0,961.0 403.5,956.0 404.0,951.2 404.5,946.4 405.0,941.6 405.5,936.9 406.0,932.2 406.5,927.4 407.0,922.6 407.5,917.6 408.0,912.5 408.5,907.3 409.0,901.9 409.5,896.2 410.0,890.3 410.5,884.2 411.0,877.8 411.5,871.3 412.0,864.6 412.5,857.9 413.0,851.1 413.5,844.5 414.0,838.0 414.5,831.9 415.0,826.2 415.5,821.1 416.0,816.6 416.5,812.8 417.0,810.0 417.5,808.0 418.0,806.9 418.5,806.8 419.0,807.7 419.5,809.6 420.0,812.3 420.5,815.8 421.0,820.1 421.5,825.0 422.0,830.5 422.5,836.5 423.0,842.9 423.5,849.6 424.0,856.5 424.5,863.6 425.0,870.9 425.5,878.2 426.0,885.6 426.5,893.1 427.0,900.6 427.5,908.2 428.0,915.8 428.5,923.4 429.0,931.1 429.5,938.8 430.0,946.5 430.5,954.2 431.0,962.0 431.5,969.7 432.0,977.4 432.5,985.0 433.0,992.5 433.5,999.9 434.0,1007.1 434.5,1014.2 435.0,1021.0 435.5,1027.6 436.0,1033.9 436.5,1039.9 437.0,1045.6 437.5,1051.1 438.0,1056.1 438.5,1060.9 439.0,1065.3 439.5,1069.4 440.0,1073.1 440.5,1076.6 441.0,1079.7 441.5,1082.5 442.0,1085.1 442.5,1087.4 443.0,1089.4 443.5,1091.2 444.0,1092.8 444.5,1094.2 445.0,1095.5 445.5,1096.6 446.0,1097.5 446.5,1098.3 447.0,1099.0 447.5,1099.6 448.0,1100.1 448.5,1100.5 449.0,1100.8 449.5,1101.1 450.0,1101.4 450.5,1101.6 451.0,1101.8 451.5,1101.9 452.0,1102.0 452.5,1102.1 453.0,1102.2 453.5,1102.3 454.0,1102.3 454.5,1102.4 455.0,1102.4 455.5,1102.4 456.0,1102.4 456.5,1102.4 457.0,1102.5 457.5,1102.5 458.0,1102.5 458.5,1102.5 459.0,1102.5 459.5,1102.5 460.0,1102.5 460.5,1102.5 461.0,1102.5 461.5,1102.5 462.0,1102.5 462.5,1102.5 463.0,1102.5 463.5,1102.5 464.0,1102.5 464.5,1102.5 465.0,1102.5 465.5,1102.5 466.0,1102.5 466.5,1102.5 467.0,1102.5 467.5,1102.5 468.0,1102.5 468.5,1102.5 469.0,1102.5 469.5,1102.5 470.0,1102.5 470.5,1102.5 471.0,1102.5 471.5,1102.5 472.0,1102.5 472.5,1102.5 473.0,1102.5 473.5,1102.5 474.0,1102.5 474.5,1102.5 475.0,1102.5 475.5,1102.5 476.0,1102.5 476.5,1102.5 477.0,1102.5 477.5,1102.5 478.0,1102.5 478.5,1102.5 479.0,1102.5 479.5,1102.5 480.0,1102.5 480.5,1102.5 481.0,1102.5 481.5,1102.5 482.0,1102.5 482.5,1102.5 483.0,1102.5 483.5,1102.5 484.0,1102.5 484.5,1102.5 485.0,1102.5 485.5,1102.5 486.0,1102.5 486.5,1102.5 487.0,1102.5 487.5,1102.5 488.0,1102.5 488.5,1102.5 489.0,1102.5 489.5,1102.5 490.0,1102.5 490.5,1102.5 491.0,1102.5 491.5,1102.5 492.0,1102.5 492.5,1102.5 493.0,1102.5 493.5,1102.5 494.0,1102.5 494.5,1102.5 495.0,1102.5 495.5,1102.5 496.0,1102.5 496.5,1102.5 497.0,1102.5 497.5,1102.5 498.0,1102.5 498.5,1102.5 499.0,1102.5 499.5,1102.5 500.0,1102.5 500.5,1102.5 501.0,1102.5 501.5,1102.5 502.0,1102.5 502.5,1102.5 503.0,1102.5 503.5,1102.5 504.0,1102.5 504.5,1102.5 505.0,1102.5 505.5,1102.5 506.0,1102.5 506.5,1102.5 507.0,1102.5 507.5,1102.5 508.0,1102.5 508.5,1102.5 509.0,1102.5 509.5,1102.5 510.0,1102.5 510.5,1102.5 511.0,1102.5 511.5,1102.5 512.0,1102.5 512.5,1102.5 513.0,1102.5 513.5,1102.5 514.0,1102.5 514.5,1102.5 515.0,1102.5 515.5,1102.5 516.0,1102.5 516.5,1102.5 517.0,1102.5 517.5,1102.5 518.0,1102.5 518.5,1102.5 519.0,1102.5 519.5,1102.5 520.0,1102.5 520.5,1102.5 521.0,1102.5 521.5,1102.5 522.0,1102.5 522.5,1102.5 523.0,1102.5 523.5,1102.5 524.0,1102.5 524.5,1102.5 525.0,1102.5 525.5,1102.5 526.0,1102.5 526.5,1102.5 527.0,1102.5 527.5,1102.5 528.0,1102.5 528.5,1102.5 529.0,1102.5 529.5,1102.5 530.0,1102.5 530.5,1102.5 531.0,1102.5 531.5,1102.5 532.0,1102.5 532.5,1102.5 533.0,1102.5 533.5,1102.5 534.0,1102.5 534.5,1102.5 535.0,1102.5 535.5,1102.5 536.0,1102.5 536.5,1102.5 537.0,1102.5 537.5,1102.5 538.0,1102.5 538.5,1102.5 539.0,1102.5 539.5,1102.5 540.0,1102.5 540.5,1102.5 541.0,1102.5 541.5,1102.5 542.0,1102.5 542.5,1102.5 543.0,1102.5 543.5,1102.5 544.0,1102.5 544.5,1102.5 545.0,1102.5 545.5,1102.5 546.0,1102.5 546.5,1102.5 547.0,1102.5 547.5,1102.5 548.0,1102.5 548.5,1102.5 549.0,1102.5 549.5,1102.5 550.0,1102.5 550.5,1102.5 551.0,1102.5 551.5,1102.5 552.0,1102.5 552.5,1102.5 553.0,1102.5 553.5,1102.5 554.0,1102.5 554.5,1102.5 555.0,1102.5 555.5,1102.5 556.0,1102.5 556.5,1102.5 557.0,1102.5 557.5,1102.5 558.0,1102.5 558.5,1102.5 559.0,1102.5 559.5,1102.5 560.0,1102.5 560.5,1102.5 561.0,1102.5 561.5,1102.5 562.0,1102.5 562.5,1102.5 563.0,1102.5 563.5,1102.5 564.0,1102.5 564.5,1102.5 565.0,1102.5 565.5,1102.5 566.0,1102.5 566.5,1102.5 567.0,1102.5 567.5,1102.5 568.0,1102.5 568.5,1102.5 569.0,1102.5 569.5,1102.5 570.0,1102.5 570.5,1102.5 571.0,1102.5 571.5,1102.5 572.0,1102.5 572.5,1102.5 573.0,1102.5 573.5,1102.5 574.0,1102.5 574.5,1102.5 575.0,1102.5 575.5,1102.5 576.0,1102.5 576.5,1102.5 577.0,1102.5 577.5,1102.5 578.0,1102.5 578.5,1102.5 579.0,1102.5 579.5,1102.5 580.0,1102.5 580.5,1102.5 581.0,1102.5 581.5,1102.5 582.0,1102.5 582.5,1102.5 583.0,1102.5 583.5,1102.5 584.0,1102.5 584.5,1102.5 585.0,1102.5 585.5,1102.5 586.0,1102.5 586.5,1102.5 587.0,1102.5 587.5,1102.5 588.0,1102.5 588.5,1102.5 589.0,1102.5 589.5,1102.5 590.0,1102.5 590.5,1102.5 591.0,1102.5 591.5,1102.5 592.0,1102.5 592.5,1102.5 593.0,1102.5 593.5,1102.5 594.0,1102.5 594.5,1102.5 595.0,1102.5 595.5,1102.5 596.0,1102.5 596.5,1102.5 597.0,1102.5 597.5,1102.5 598.0,1102.5 598.5,1102.5 599.0,1102.5 599.5,1102.5 600.0,1102.5 600.5,1102.5 601.0,1102.5 601.5,1102.5 602.0,1102.5 602.5,1102.5 603.0,1102.5 603.5,1102.5 604.0,1102.5 604.5,1102.5 605.0,1102.5 605.5,1102.5 606.0,1102.5 606.5,1102.5 607.0,1102.5 607.5,1102.5 608.0,1102.5 608.5,1102.5 609.0,1102.5 609.5,1102.5" fill="none" stroke="#f27d2f" stroke-width="3" stroke-linejoin="round"/>
<polyline points="261.5,1102.5 262.0,1102.5 262.5,1102.5 263.0,1102.5 263.5,1102.5 264.0,1102.5 264.5,1102.5 265.0,1102.5 265.5,1102.5 266.0,1102.5 266.5,1102.5 267.0,1102.5 267.5,1102.5 268.0,1102.5 268.5,1102.5 269.0,1102.5 269.5,1102.5 270.0,1102.5 270.5,1102.5 271.0,1102.5 271.5,1102.5 272.0,1102.5 272.5,1102.5 273.0,1102.5 273.5,1102.5 274.0,1102.5 274.5,1102.5 275.0,1102.5 275.5,1102.5 276.0,1102.5 276.5,1102.5 277.0,1102.5 277.5,1102.5 278.0,1102.5 278.5,1102.5 279.0,1102.5 279.5,1102.5 280.0,1102.5 280.5,1102.5 281.0,1102.5 281.5,1102.5 282.0,1102.5 282.5,1102.5 283.0,1102.5 283.5,1102.5 284.0,1102.5 284.5,1102.5 285.0,1102.5 285.5,1102.5 286.0,1102.5 286.5,1102.5 287.0,1102.5 287.5,1102.5 288.0,1102.5 288.5,1102.5 289.0,1102.5 289.5,1102.5 290.0,1102.5 290.5,1102.5 291.0,1102.5 291.5,1102.5 292.0,1102.5 292.5,1102.5 293.0,1102.5 293.5,1102.5 294.0,1102.5 294.5,1102.5 295.0,1102.5 295.5,1102.5 296.0,1102.5 296.5,1102.5 297.0,1102.5 297.5,1102.5 298.0,1102.5 298.5,1102.5 299.0,1102.5 299.5,1102.5 300.0,1102.5 300.5,1102.5 301.0,1102.5 301.5,1102.5 302.0,1102.5 302.5,1102.5 303.0,1102.5 303.5,1102.5 304.0,1102.5 304.5,1102.5 305.0,1102.5 305.5,1102.5 306.0,1102.5 306.5,1102.5 307.0,1102.5 307.5,1102.5 308.0,1102.5 308.5,1102.5 309.0,1102.5 309.5,1102.5 310.0,1102.5 310.5,1102.5 311.0,1102.5 311.5,1102.5 312.0,1102.5 312.5,1102.5 313.0,1102.5 313.5,1102.5 314.0,1102.5 314.5,1102.5 315.0,1102.5 315.5,1102.5 316.0,1102.5 316.5,1102.5 317.0,1102.5 317.5,1102.5 318.0,1102.5 318.5,1102.5 319.0,1102.5 319.5,1102.5 320.0,1102.5 320.5,1102.5 321.0,1102.5 321.5,1102.5 322.0,1102.5 322.5,1102.5 323.0,1102.5 323.5,1102.5 324.0,1102.5 324.5,1102.5 325.0,1102.5 325.5,1102.5 326.0,1102.5 326.5,1102.5 327.0,1102.5 327.5,1102.5 328.0,1102.5 328.5,1102.5 329.0,1102.5 329.5,1102.5 330.0,1102.5 330.5,1102.5 331.0,1102.5 331.5,1102.5 332.0,1102.5 332.5,1102.5 333.0,1102.5 333.5,1102.5 334.0,1102.5 334.5,1102.5 335.0,1102.5 335.5,1102.5 336.0,1102.5 336.5,1102.5 337.0,1102.5 337.5,1102.5 338.0,1102.5 338.5,1102.5 339.0,1102.5 339.5,1102.5 340.0,1102.5 340.5,1102.5 341.0,1102.5 341.5,1102.5 342.0,1102.5 342.5,1102.5 343.0,1102.5 343.5,1102.5 344.0,1102.5 344.5,1102.5 345.0,1102.5 345.5,1102.5 346.0,1102.5 346.5,1102.5 347.0,1102.5 347.5,1102.5 348.0,1102.5 348.5,1102.5 349.0,1102.5 349.5,1102.5 350.0,1102.5 350.5,1102.5 351.0,1102.5 351.5,1102.5 352.0,1102.5 352.5,1102.5 353.0,1102.5 353.5,1102.5 354.0,1102.5 354.5,1102.5 355.0,1102.5 355.5,1102.5 356.0,1102.5 356.5,1102.5 357.0,1102.5 357.5,1102.5 358.0,1102.5 358.5,1102.5 359.0,1102.5 359.5,1102.5 360.0,1102.5 360.5,1102.5 361.0,1102.5 361.5,1102.5 362.0,1102.5 362.5,1102.5 363.0,1102.5 363.5,1102.5 364.0,1102.5 364.5,1102.5 365.0,1102.5 365.5,1102.5 366.0,1102.5 366.5,1102.5 367.0,1102.5 367.5,1102.5 368.0,1102.5 368.5,1102.5 369.0,1102.5 369.5,1102.5 370.0,1102.5 370.5,1102.5 371.0,1102.5 371.5,1102.5 372.0,1102.5 372.5,1102.5 373.0,1102.5 373.5,1102.5 374.0,1102.4 374.5,1102.4 375.0,1102.4 375.5,1102.4 376.0,1102.4 376.5,1102.3 377.0,1102.3 377.5,1102.3 378.0,1102.2 378.5,1102.2 379.0,1102.1 379.5,1102.0 380.0,1101.9 380.5,1101.8 381.0,1101.6 381.5,1101.4 382.0,1101.2 382.5,1101.0 383.0,1100.7 383.5,1100.4 384.0,1100.0 384.5,1099.5 385.0,1099.0 385.5,1098.5 386.0,1097.8 386.5,1097.0 387.0,1096.2 387.5,1095.2 388.0,1094.1 388.5,1092.9 389.0,1091.5 389.5,1090.0 390.0,1088.3 390.5,1086.5 391.0,1084.4 391.5,1082.1 392.0,1079.7 392.5,1077.0 393.0,1074.1 393.5,1070.9 394.0,1067.5 394.5,1063.9 395.0,1060.1 395.5,1055.9 396.0,1051.6 396.5,1047.0 397.0,1042.2 397.5,1037.2 398.0,1032.0 398.5,1026.5 399.0,1021.0 399.5,1015.3 400.0,1009.4 400.5,1003.5 401.0,997.5 401.5,991.4 402.0,985.4 402.5,979.3 403.0,973.3 403.5,967.3 404.0,961.4 404.5,955.6 405.0,949.9 405.5,944.2 406.0,938.7 406.5,933.2 407.0,927.8 407.5,922.4 408.0,917.0 408.5,911.6 409.0,906.1 409.5,900.5 410.0,894.8 410.5,889.0 411.0,883.0 411.5,876.8 412.0,870.4 412.5,864.0 413.0,857.4 413.5,850.8 414.0,844.3 414.5,837.9 415.0,831.8 415.5,826.0 416.0,820.8 416.5,816.1 417.0,812.2 417.5,809.1 418.0,806.8 418.5,805.6 419.0,805.3 419.5,806.1 420.0,807.8 420.5,810.5 421.0,814.1 421.5,818.6 422.0,823.8 422.5,829.6 423.0,836.0 423.5,842.8 424.0,850.0 424.5,857.4 425.0,865.0 425.5,872.7 426.0,880.5 426.5,888.3 427.0,896.1 427.5,903.9 428.0,911.6 428.5,919.4 429.0,927.1 429.5,934.8 430.0,942.4 430.5,950.1 431.0,957.8 431.5,965.4 432.0,973.0 432.5,980.5 433.0,988.0 433.5,995.4 434.0,1002.6 434.5,1009.7 435.0,1016.6 435.5,1023.4 436.0,1029.8 436.5,1036.1 437.0,1042.0 437.5,1047.6 438.0,1053.0 438.5,1057.9 439.0,1062.6 439.5,1066.9 440.0,1070.9 440.5,1074.6 441.0,1078.0 441.5,1081.0 442.0,1083.8 442.5,1086.2 443.0,1088.5 443.5,1090.4 444.0,1092.1 444.5,1093.7 445.0,1095.0 445.5,1096.2 446.0,1097.2 446.5,1098.0 447.0,1098.8 447.5,1099.4 448.0,1100.0 448.5,1100.4 449.0,1100.8 449.5,1101.1 450.0,1101.4 450.5,1101.6 451.0,1101.8 451.5,1101.9 452.0,1102.0 452.5,1102.1 453.0,1102.2 453.5,1102.3 454.0,1102.3 454.5,1102.4 455.0,1102.4 455.5,1102.4 456.0,1102.4 456.5,1102.5 457.0,1102.5 457.5,1102.5 458.0,1102.5 458.5,1102.5 459.0,1102.5 459.5,1102.5 460.0,1102.5 460.5,1102.5 461.0,1102.5 461.5,1102.5 462.0,1102.5 462.5,1102.5 463.0,1102.5 463.5,1102.5 464.0,1102.5 464.5,1102.5 465.0,1102.5 465.5,1102.5 466.0,1102.5 466.5,1102.5 467.0,1102.5 467.5,1102.5 468.0,1102.5 468.5,1102.5 469.0,1102.5 469.5,1102.5 470.0,1102.5 470.5,1102.5 471.0,1102.5 471.5,1102.5 472.0,1102.5 472.5,1102.5 473.0,1102.5 473.5,1102.5 474.0,1102.5 474.5,1102.5 475.0,1102.5 475.5,1102.5 476.0,1102.5 476.5,1102.5 477.0,1102.5 477.5,1102.5 478.0,1102.5 478.5,1102.5 479.0,1102.5 479.5,1102.5 480.0,1102.5 480.5,1102.5 481.0,1102.5 481.5,1102.5 482.0,1102.5 482.5,1102.5 483.0,1102.5 483.5,1102.5 484.0,1102.5 484.5,1102.5 485.0,1102.5 485.5,1102.5 486.0,1102.5 486.5,1102.5 487.0,1102.5 487.5,1102.5 488.0,1102.5 488.5,1102.5 489.0,1102.5 489.5,1102.5 490.0,1102.5 490.5,1102.5 491.0,1102.5 491.5,1102.5 492.0,1102.5 492.5,1102.5 493.0,1102.5 493.5,1102.5 494.0,1102.5 494.5,1102.5 495.0,1102.5 495.5,1102.5 496.0,1102.5 496.5,1102.5 497.0,1102.5 497.5,1102.5 498.0,1102.5 498.5,1102.5 499.0,1102.5 499.5,1102.5 500.0,1102.5 500.5,1102.5 501.0,1102.5 501.5,1102.5 502.0,1102.5 502.5,1102.5 503.0,1102.5 503.5,1102.5 504.0,1102.5 504.5,1102.5 505.0,1102.5 505.5,1102.5 506.0,1102.5 506.5,1102.5 507.0,1102.5 507.5,1102.5 508.0,1102.5 508.5,1102.5 509.0,1102.5 509.5,1102.5 510.0,1102.5 510.5,1102.5 511.0,1102.5 511.5,1102.5 512.0,1102.5 512.5,1102.5 513.0,1102.5 513.5,1102.5 514.0,1102.5 514.5,1102.5 515.0,1102.5 515.5,1102.5 516.0,1102.5 516.5,1102.5 517.0,1102.5 517.5,1102.5 518.0,1102.5 518.5,1102.5 519.0,1102.5 519.5,1102.5 520.0,1102.5 520.5,1102.5 521.0,1102.5 521.5,1102.5 522.0,1102.5 522.5,1102.5 523.0,1102.5 523.5,1102.5 524.0,1102.5 524.5,1102.5 525.0,1102.5 525.5,1102.5 526.0,1102.5 526.5,1102.5 527.0,1102.5 527.5,1102.5 528.0,1102.5 528.5,1102.5 529.0,1102.5 529.5,1102.5 530.0,1102.5 530.5,1102.5 531.0,1102.5 531.5,1102.5 532.0,1102.5 532.5,1102.5 533.0,1102.5 533.5,1102.5 534.0,1102.5 534.5,1102.5 535.0,1102.5 535.5,1102.5 536.0,1102.5 536.5,1102.5 537.0,1102.5 537.5,1102.5 538.0,1102.5 538.5,1102.5 539.0,1102.5 539.5,1102.5 540.0,1102.5 540.5,1102.5 541.0,1102.5 541.5,1102.5 542.0,1102.5 542.5,1102.5 543.0,1102.5 543.5,1102.5 544.0,1102.5 544.5,1102.5 545.0,1102.5 545.5,1102.5 546.0,1102.5 546.5,1102.5 547.0,1102.5 547.5,1102.5 548.0,1102.5 548.5,1102.5 549.0,1102.5 549.5,1102.5 550.0,1102.5 550.5,1102.5 551.0,1102.5 551.5,1102.5 552.0,1102.5 552.5,1102.5 553.0,1102.5 553.5,1102.5 554.0,1102.5 554.5,1102.5 555.0,1102.5 555.5,1102.5 556.0,1102.5 556.5,1102.5 557.0,1102.5 557.5,1102.5 558.0,1102.5 558.5,1102.5 559.0,1102.5 559.5,1102.5 560.0,1102.5 560.5,1102.5 561.0,1102.5 561.5,1102.5 562.0,1102.5 562.5,1102.5 563.0,1102.5 563.5,1102.5 564.0,1102.5 564.5,1102.5 565.0,1102.5 565.5,1102.5 566.0,1102.5 566.5,1102.5 567.0,1102.5 567.5,1102.5 568.0,1102.5 568.5,1102.5 569.0,1102.5 569.5,1102.5 570.0,1102.5 570.5,1102.5 571.0,1102.5 571.5,1102.5 572.0,1102.5 572.5,1102.5 573.0,1102.5 573.5,1102.5 574.0,1102.5 574.5,1102.5 575.0,1102.5 575.5,1102.5 576.0,1102.5 576.5,1102.5 577.0,1102.5 577.5,1102.5 578.0,1102.5 578.5,1102.5 579.0,1102.5 579.5,1102.5 580.0,1102.5 580.5,1102.5 581.0,1102.5 581.5,1102.5 582.0,1102.5 582.5,1102.5 583.0,1102.5 583.5,1102.5 584.0,1102.5 584.5,1102.5 585.0,1102.5 585.5,1102.5 586.0,1102.5 586.5,1102.5 587.0,1102.5 587.5,1102.5 588.0,1102.5 588.5,1102.5 589.0,1102.5 589.5,1102.5 590.0,1102.5 590.5,1102.5 591.0,1102.5 591.5,1102.5 592.0,1102.5 592.5,1102.5 593.0,1102.5 593.5,1102.5 594.0,1102.5 594.5,1102.5 595.0,1102.5 595.5,1102.5 596.0,1102.5 596.5,1102.5 597.0,1102.5 597.5,1102.5 598.0,1102.5 598.5,1102.5 599.0,1102.5 599.5,1102.5 600.0,1102.5 600.5,1102.5 601.0,1102.5 601.5,1102.5 602.0,1102.5 602.5,1102.5 603.0,1102.5 603.5,1102.5 604.0,1102.5 604.5,1102.5 605.0,1102.5 605.5,1102.5 606.0,1102.5 606.5,1102.5 607.0,1102.5 607.5,1102.5 608.0,1102.5 608.5,1102.5 609.0,1102.5 609.5,1102.5" fill="none" stroke="#e656c6" stroke-width="3" stroke-linejoin="round"/>
<polyline points="261.5,1102.5 262.0,1102.5 262.5,1102.5 263.0,1102.5 263.5,1102.5 264.0,1102.5 264.5,1102.5 265.0,1102.5 265.5,1102.5 266.0,1102.5 266.5,1102.5 267.0,1102.5 267.5,1102.5 268.0,1102.5 268.5,1102.5 269.0,1102.5 269.5,1102.5 270.0,1102.5 270.5,1102.5 271.0,1102.5 271.5,1102.5 272.0,1102.5 272.5,1102.5 273.0,1102.5 273.5,1102.5 274.0,1102.5 274.5,1102.5 275.0,1102.5 275.5,1102.5 276.0,1102.5 276.5,1102.5 277.0,1102.5 277.5,1102.5 278.0,1102.5 278.5,1102.5 279.0,1102.5 279.5,1102.5 280.0,1102.5 280.5,1102.5 281.0,1102.5 281.5,1102.5 282.0,1102.5 282.5,1102.5 283.0,1102.5 283.5,1102.5 284.0,1102.5 284.5,1102.5 285.0,1102.5 285.5,1102.5 286.0,1102.5 286.5,1102.5 287.0,1102.5 287.5,1102.5 288.0,1102.5 288.5,1102.5 289.0,1102.5 289.5,1102.5 290.0,1102.5 290.5,1102.5 291.0,1102.5 291.5,1102.5 292.0,1102.5 292.5,1102.5 293.0,1102.5 293.5,1102.5 294.0,1102.5 294.5,1102.5 295.0,1102.5 295.5,1102.5 296.0,1102.5 296.5,1102.5 297.0,1102.5 297.5,1102.5 298.0,1102.5 298.5,1102.5 299.0,1102.5 299.5,1102.5 300.0,1102.5 300.5,1102.5 301.0,1102.5 301.5,1102.5 302.0,1102.5 302.5,1102.5 303.0,1102.5 303.5,1102.5 304.0,1102.5 304.5,1102.5 305.0,1102.5 305.5,1102.5 306.0,1102.5 306.5,1102.5 307.0,1102.5 307.5,1102.5 308.0,1102.5 308.5,1102.5 309.0,1102.5 309.5,1102.5 310.0,1102.5 310.5,1102.5 311.0,1102.5 311.5,1102.5 312.0,1102.5 312.5,1102.5 313.0,1102.5 313.5,1102.5 314.0,1102.5 314.5,1102.5 315.0,1102.5 315.5,1102.5 316.0,1102.5 316.5,1102.5 317.0,1102.5 317.5,1102.5 318.0,1102.5 318.5,1102.5 319.0,1102.5 319.5,1102.5 320.0,1102.5 320.5,1102.5 321.0,1102.5 321.5,1102.5 322.0,1102.5 322.5,1102.5 323.0,1102.5 323.5,1102.5 324.0,1102.5 324.5,1102.5 325.0,1102.5 325.5,1102.5 326.0,1102.5 326.5,1102.5 327.0,1102.5 327.5,1102.5 328.0,1102.5 328.5,1102.5 329.0,1102.5 329.5,1102.5 330.0,1102.5 330.5,1102.5 331.0,1102.5 331.5,1102.5 332.0,1102.5 332.5,1102.5 333.0,1102.5 333.5,1102.5 334.0,1102.5 334.5,1102.5 335.0,1102.5 335.5,1102.5 336.0,1102.5 336.5,1102.5 337.0,1102.5 337.5,1102.5 338.0,1102.5 338.5,1102.5 339.0,1102.5 339.5,1102.5 340.0,1102.5 340.5,1102.5 341.0,1102.5 341.5,1102.5 342.0,1102.5 342.5,1102.5 343.0,1102.5 343.5,1102.5 344.0,1102.5 344.5,1102.5 345.0,1102.5 345.5,1102.5 346.0,1102.5 346.5,1102.5 347.0,1102.5 347.5,1102.5 348.0,1102.5 348.5,1102.5 349.0,1102.5 349.5,1102.5 350.0,1102.5 350.5,1102.5 351.0,1102.5 351.5,1102.5 352.0,1102.5 352.5,1102.5 353.0,1102.5 353.5,1102.5 354.0,1102.5 354.5,1102.5 355.0,1102.5 355.5,1102.5 356.0,1102.5 356.5,1102.5 357.0,1102.5 357.5,1102.5 358.0,1102.5 358.5,1102.5 359.0,1102.5 359.5,1102.5 360.0,1102.5 360.5,1102.5 361.0,1102.5 361.5,1102.5 362.0,1102.5 362.5,1102.5 363.0,1102.5 363.5,1102.5 364.0,1102.5 364.5,1102.5 365.0,1102.5 365.5,1102.5 366.0,1102.4 366.5,1102.4 367.0,1102.4 367.5,1102.4 368.0,1102.4 368.5,1102.4 369.0,1102.4 369.5,1102.3 370.0,1102.3 370.5,1102.3 371.0,1102.3 371.5,1102.2 372.0,1102.2 372.5,1102.1 373.0,1102.1 373.5,1102.0 374.0,1101.9 374.5,1101.9 375.0,1101.8 375.5,1101.7 376.0,1101.5 376.5,1101.4 377.0,1101.3 377.5,1101.1 378.0,1100.9 378.5,1100.7 379.0,1100.5 379.5,1100.2 380.0,1100.0 380.5,1099.7 381.0,1099.3 381.5,1098.9 382.0,1098.5 382.5,1098.1 383.0,1097.6 383.5,1097.0 384.0,1096.4 384.5,1095.7 385.0,1095.0 385.5,1094.2 386.0,1093.3 386.5,1092.4 387.0,1091.4 387.5,1090.2 388.0,1089.0 388.5,1087.7 389.0,1086.3 389.5,1084.8 390.0,1083.2 390.5,1081.5 391.0,1079.6 391.5,1077.6 392.0,1075.5 392.5,1073.2 393.0,1070.8 393.5,1068.2 394.0,1065.5 394.5,1062.6 395.0,1059.5 395.5,1056.3 396.0,1052.9 396.5,1049.4 397.0,1045.6 397.5,1041.7 398.0,1037.6 398.5,1033.4 399.0,1028.9 399.5,1024.3 400.0,1019.6 400.5,1014.6 401.0,1009.5 401.5,1004.3 402.0,998.9 402.5,993.4 403.0,987.7 403.5,981.9 404.0,976.0 404.5,970.0 405.0,963.9 405.5,957.7 406.0,951.5 406.5,945.3 407.0,939.0 407.5,932.7 408.0,926.4 408.5,920.2 409.0,914.0 409.5,907.8 410.0,901.8 410.5,895.9 411.0,890.1 411.5,884.4 412.0,878.9 412.5,873.6 413.0,868.6 413.5,863.7 414.0,859.1 414.5,854.8 415.0,850.7 415.5,847.0 416.0,843.6 416.5,840.5 417.0,837.7 417.5,835.3 418.0,833.3 418.5,831.6 419.0,830.3 419.5,829.4 420.0,828.9 420.5,828.8 421.0,829.2 421.5,830.3 422.0,832.0 422.5,834.3 423.0,837.1 423.5,840.6 424.0,844.6 424.5,849.1 425.0,854.1 425.5,859.5 426.0,865.3 426.5,871.5 427.0,878.1 427.5,884.9 428.0,892.0 428.5,899.3 429.0,906.7 429.5,914.3 430.0,921.9 430.5,929.6 431.0,937.2 431.5,944.9 432.0,952.4 432.5,959.9 433.0,967.2 433.5,974.4 434.0,981.4 434.5,988.1 435.0,994.7 435.5,1001.0 436.0,1007.1 436.5,1012.9 437.0,1018.5 437.5,1023.8 438.0,1028.8 438.5,1033.6 439.0,1038.1 439.5,1042.3 440.0,1046.3 440.5,1050.0 441.0,1053.5 441.5,1056.8 442.0,1059.8 442.5,1062.6 443.0,1065.2 443.5,1067.6 444.0,1069.8 444.5,1071.9 445.0,1073.8 445.5,1075.6 446.0,1077.2 446.5,1078.7 447.0,1080.1 447.5,1081.3 448.0,1082.5 448.5,1083.6 449.0,1084.6 449.5,1085.5 450.0,1086.3 450.5,1087.1 451.0,1087.9 451.5,1088.5 452.0,1089.2 452.5,1089.8 453.0,1090.3 453.5,1090.9 454.0,1091.4 454.5,1091.8 455.0,1092.3 455.5,1092.7 456.0,1093.1 456.5,1093.5 457.0,1093.8 457.5,1094.2 458.0,1094.5 458.5,1094.8 459.0,1095.2 459.5,1095.5 460.0,1095.7 460.5,1096.0 461.0,1096.3 461.5,1096.5 462.0,1096.8 462.5,1097.0 463.0,1097.3 463.5,1097.5 464.0,1097.7 464.5,1097.9 465.0,1098.1 465.5,1098.3 466.0,1098.5 466.5,1098.7 467.0,1098.8 467.5,1099.0 468.0,1099.2 468.5,1099.3 469.0,1099.5 469.5,1099.6 470.0,1099.8 470.5,1099.9 471.0,1100.0 471.5,1100.1 472.0,1100.3 472.5,1100.4 473.0,1100.5 473.5,1100.6 474.0,1100.7 474.5,1100.8 475.0,1100.9 475.5,1101.0 476.0,1101.0 476.5,1101.1 477.0,1101.2 477.5,1101.3 478.0,1101.3 478.5,1101.4 479.0,1101.5 479.5,1101.5 480.0,1101.6 480.5,1101.6 481.0,1101.7 481.5,1101.7 482.0,1101.8 482.5,1101.8 483.0,1101.9 483.5,1101.9 484.0,1101.9 484.5,1102.0 485.0,1102.0 485.5,1102.0 486.0,1102.1 486.5,1102.1 487.0,1102.1 487.5,1102.1 488.0,1102.2 488.5,1102.2 489.0,1102.2 489.5,1102.2 490.0,1102.2 490.5,1102.3 491.0,1102.3 491.5,1102.3 492.0,1102.3 492.5,1102.3 493.0,1102.3 493.5,1102.3 494.0,1102.4 494.5,1102.4 495.0,1102.4 495.5,1102.4 496.0,1102.4 496.5,1102.4 497.0,1102.4 497.5,1102.4 498.0,1102.4 498.5,1102.4 499.0,1102.4 499.5,1102.4 500.0,1102.4 500.5,1102.4 501.0,1102.5 501.5,1102.5 502.0,1102.5 502.5,1102.5 503.0,1102.5 503.5,1102.5 504.0,1102.5 504.5,1102.5 505.0,1102.5 505.5,1102.5 506.0,1102.5 506.5,1102.5 507.0,1102.5 507.5,1102.5 508.0,1102.5 508.5,1102.5 509.0,1102.5 509.5,1102.5 510.0,1102.5 510.5,1102.5 511.0,1102.5 511.5,1102.5 512.0,1102.5 512.5,1102.5 513.0,1102.5 513.5,1102.5 514.0,1102.5 514.5,1102.5 515.0,1102.5 515.5,1102.5 516.0,1102.5 516.5,1102.5 517.0,1102.5 517.5,1102.5 518.0,1102.5 518.5,1102.5 519.0,1102.5 519.5,1102.5 520.0,1102.5 520.5,1102.5 521.0,1102.5 521.5,1102.5 522.0,1102.5 522.5,1102.5 523.0,1102.5 523.5,1102.5 524.0,1102.5 524.5,1102.5 525.0,1102.5 525.5,1102.5 526.0,1102.5 526.5,1102.5 527.0,1102.5 527.5,1102.5 528.0,1102.5 528.5,1102.5 529.0,1102.5 529.5,1102.5 530.0,1102.5 530.5,1102.5 531.0,1102.5 531.5,1102.5 532.0,1102.5 532.5,1102.5 533.0,1102.5 533.5,1102.5 534.0,1102.5 534.5,1102.5 535.0,1102.5 535.5,1102.5 536.0,1102.5 536.5,1102.5 537.0,1102.5 537.5,1102.5 538.0,1102.5 538.5,1102.5 539.0,1102.5 539.5,1102.5 540.0,1102.5 540.5,1102.5 541.0,1102.5 541.5,1102.5 542.0,1102.5 542.5,1102.5 543.0,1102.5 543.5,1102.5 544.0,1102.5 544.5,1102.5 545.0,1102.5 545.5,1102.5 546.0,1102.5 546.5,1102.5 547.0,1102.5 547.5,1102.5 548.0,1102.5 548.5,1102.5 549.0,1102.5 549.5,1102.5 550.0,1102.5 550.5,1102.5 551.0,1102.5 551.5,1102.5 552.0,1102.5 552.5,1102.5 553.0,1102.5 553.5,1102.5 554.0,1102.5 554.5,1102.5 555.0,1102.5 555.5,1102.5 556.0,1102.5 556.5,1102.5 557.0,1102.5 557.5,1102.5 558.0,1102.5 558.5,1102.5 559.0,1102.5 559.5,1102.5 560.0,1102.5 560.5,1102.5 561.0,1102.5 561.5,1102.5 562.0,1102.5 562.5,1102.5 563.0,1102.5 563.5,1102.5 564.0,1102.5 564.5,1102.5 565.0,1102.5 565.5,1102.5 566.0,1102.5 566.5,1102.5 567.0,1102.5 567.5,1102.5 568.0,1102.5 568.5,1102.5 569.0,1102.5 569.5,1102.5 570.0,1102.5 570.5,1102.5 571.0,1102.5 571.5,1102.5 572.0,1102.5 572.5,1102.5 573.0,1102.5 573.5,1102.5 574.0,1102.5 574.5,1102.5 575.0,1102.5 575.5,1102.5 576.0,1102.5 576.5,1102.5 577.0,1102.5 577.5,1102.5 578.0,1102.5 578.5,1102.5 579.0,1102.5 579.5,1102.5 580.0,1102.5 580.5,1102.5 581.0,1102.5 581.5,1102.5 582.0,1102.5 582.5,1102.5 583.0,1102.5 583.5,1102.5 584.0,1102.5 584.5,1102.5 585.0,1102.5 585.5,1102.5 586.0,1102.5 586.5,1102.5 587.0,1102.5 587.5,1102.5 588.0,1102.5 588.5,1102.5 589.0,1102.5 589.5,1102.5 590.0,1102.5 590.5,1102.5 591.0,1102.5 591.5,1102.5 592.0,1102.5 592.5,1102.5 593.0,1102.5 593.5,1102.5 594.0,1102.5 594.5,1102.5 595.0,1102.5 595.5,1102.5 596.0,1102.5 596.5,1102.5 597.0,1102.5 597.5,1102.5 598.0,1102.5 598.5,1102.5 599.0,1102.5 599.5,1102.5 600.0,1102.5 600.5,1102.5 601.0,1102.5 601.5,1102.5 602.0,1102.5 602.5,1102.5 603.0,1102.5 603.5,1102.5 604.0,1102.5 604.5,1102.5 605.0,1102.5 605.5,1102.5 606.0,1102.5 606.5,1102.5 607.0,1102.5 607.5,1102.5 608.0,1102.5 608.5,1102.5 609.0,1102.5 609.5,1102.5" fill="none" stroke="#0bb04f" stroke-width="3" stroke-linejoin="round"/>
<line x1="523.5" y1="781.3" x2="577.5" y2="781.3" stroke="#b3b3b3" stroke-width="3" stroke-linecap="round"/>
<text x="584.3" y="788.9" font-size="25.6" fill="#000" >TEV</text>
<line x1="523.5" y1="814.2" x2="577.5" y2="814.2" stroke="#5b80ef" stroke-width="3" stroke-linecap="round"/>
<text x="584.3" y="821.8" font-size="25.6" fill="#000" >5'M3'M</text>
<line x1="523.5" y1="847.5" x2="577.5" y2="847.5" stroke="#f27d2f" stroke-width="3" stroke-linecap="round"/>
<text x="584.3" y="855.1" font-size="25.6" fill="#000" >5'M3'P</text>
<line x1="523.5" y1="880.7" x2="577.5" y2="880.7" stroke="#e656c6" stroke-width="3" stroke-linecap="round"/>
<text x="584.3" y="888.3" font-size="25.6" fill="#000" >5'P3'P</text>
<line x1="523.5" y1="913.6" x2="577.5" y2="913.6" stroke="#0bb04f" stroke-width="3" stroke-linecap="round"/>
<text x="584.3" y="921.2" font-size="25.6" fill="#000" >5'P3'M</text>
<text x="826.0" y="673.7" font-size="57" fill="#000" >d</text>
<line x1="989.6" y1="745.8" x2="989.6" y2="1096.4" stroke="#000" stroke-width="2.5" />
<line x1="978.0" y1="1095.2" x2="1321.5" y2="1095.2" stroke="#000" stroke-width="2.5" />
<line x1="978.0" y1="1095.2" x2="989.6" y2="1095.2" stroke="#000" stroke-width="2.5" />
<text x="972.5" y="1104.2" font-size="25.5" text-anchor="end" fill="#000" >0</text>
<line x1="983.2" y1="1060.4" x2="989.6" y2="1060.4" stroke="#000" stroke-width="2.5" />
<line x1="978.0" y1="1025.6" x2="989.6" y2="1025.6" stroke="#000" stroke-width="2.5" />
<text x="972.5" y="1034.6" font-size="25.5" text-anchor="end" fill="#000" >20</text>
<line x1="983.2" y1="990.7" x2="989.6" y2="990.7" stroke="#000" stroke-width="2.5" />
<line x1="978.0" y1="955.9" x2="989.6" y2="955.9" stroke="#000" stroke-width="2.5" />
<text x="972.5" y="964.9" font-size="25.5" text-anchor="end" fill="#000" >40</text>
<line x1="983.2" y1="921.1" x2="989.6" y2="921.1" stroke="#000" stroke-width="2.5" />
<line x1="978.0" y1="886.3" x2="989.6" y2="886.3" stroke="#000" stroke-width="2.5" />
<text x="972.5" y="895.3" font-size="25.5" text-anchor="end" fill="#000" >60</text>
<line x1="983.2" y1="851.5" x2="989.6" y2="851.5" stroke="#000" stroke-width="2.5" />
<line x1="978.0" y1="816.6" x2="989.6" y2="816.6" stroke="#000" stroke-width="2.5" />
<text x="972.5" y="825.6" font-size="25.5" text-anchor="end" fill="#000" >80</text>
<line x1="983.2" y1="781.8" x2="989.6" y2="781.8" stroke="#000" stroke-width="2.5" />
<line x1="978.0" y1="747.0" x2="989.6" y2="747.0" stroke="#000" stroke-width="2.5" />
<text x="972.5" y="756.0" font-size="25.5" text-anchor="end" fill="#000" >100</text>
<text x="0" y="0" font-size="27.5" text-anchor="middle" transform="translate(916.4,915.2) rotate(-90)" >Encapsulation Efficiency (%)</text>
<rect x="1011.0" y="757.0" width="39.5" height="338.2" fill="#bababa" stroke="#1a1a1a" stroke-width="1.6" />
<circle cx="1026.8" cy="754.6" r="7.6" fill="#bababa" stroke="#111" stroke-width="1.7"/>
<circle cx="1043.4" cy="755.5" r="7.6" fill="#bababa" stroke="#111" stroke-width="1.7"/>
<circle cx="1018.2" cy="757.5" r="7.6" fill="#bababa" stroke="#111" stroke-width="1.7"/>
<circle cx="1035.0" cy="756.3" r="7.6" fill="#bababa" stroke="#111" stroke-width="1.7"/>
<line x1="1030.8" y1="1094.0" x2="1030.8" y2="1106.0" stroke="#000" stroke-width="2.5" />
<text x="0" y="0" font-size="24.6" text-anchor="end" transform="translate(1035.8,1127.0) rotate(-45)" >TEV</text>
<rect x="1072.4" y="757.0" width="40.6" height="338.2" fill="#6287f2" stroke="#1a1a1a" stroke-width="1.6" />
<circle cx="1089.9" cy="753.6" r="7.6" fill="#6287f2" stroke="#111" stroke-width="1.7"/>
<circle cx="1105.8" cy="754.0" r="7.6" fill="#6287f2" stroke="#111" stroke-width="1.7"/>
<circle cx="1097.1" cy="758.1" r="7.6" fill="#6287f2" stroke="#111" stroke-width="1.7"/>
<circle cx="1080.6" cy="759.4" r="7.6" fill="#6287f2" stroke="#111" stroke-width="1.7"/>
<line x1="1092.7" y1="1094.0" x2="1092.7" y2="1106.0" stroke="#000" stroke-width="2.5" />
<text x="0" y="0" font-size="24.6" text-anchor="end" transform="translate(1097.7,1127.0) rotate(-45)" >5'M3'M</text>
<rect x="1135.0" y="757.0" width="40.6" height="338.2" fill="#f79646" stroke="#1a1a1a" stroke-width="1.6" />
<circle cx="1150.5" cy="753.2" r="7.6" fill="#f79646" stroke="#111" stroke-width="1.7"/>
<circle cx="1167.8" cy="755.7" r="7.6" fill="#f79646" stroke="#111" stroke-width="1.7"/>
<circle cx="1142.6" cy="757.7" r="7.6" fill="#f79646" stroke="#111" stroke-width="1.7"/>
<circle cx="1159.1" cy="758.8" r="7.6" fill="#f79646" stroke="#111" stroke-width="1.7"/>
<line x1="1155.3" y1="1094.0" x2="1155.3" y2="1106.0" stroke="#000" stroke-width="2.5" />
<text x="0" y="0" font-size="24.6" text-anchor="end" transform="translate(1160.3,1127.0) rotate(-45)" >5'M3'P</text>
<rect x="1197.4" y="757.0" width="40.6" height="338.2" fill="#e15cc3" stroke="#1a1a1a" stroke-width="1.6" />
<circle cx="1221.1" cy="755.7" r="7.6" fill="#e15cc3" stroke="#111" stroke-width="1.7"/>
<circle cx="1204.6" cy="755.7" r="7.6" fill="#e15cc3" stroke="#111" stroke-width="1.7"/>
<circle cx="1212.9" cy="755.7" r="7.6" fill="#e15cc3" stroke="#111" stroke-width="1.7"/>
<circle cx="1229.4" cy="755.7" r="7.6" fill="#e15cc3" stroke="#111" stroke-width="1.7"/>
<line x1="1217.7" y1="1094.0" x2="1217.7" y2="1106.0" stroke="#000" stroke-width="2.5" />
<text x="0" y="0" font-size="24.6" text-anchor="end" transform="translate(1222.7,1127.0) rotate(-45)" >5'P3'P</text>
<rect x="1259.6" y="757.0" width="40.4" height="338.2" fill="#00bb64" stroke="#1a1a1a" stroke-width="1.6" />
<circle cx="1275.9" cy="754.6" r="7.6" fill="#00bb64" stroke="#111" stroke-width="1.7"/>
<circle cx="1292.0" cy="755.7" r="7.6" fill="#00bb64" stroke="#111" stroke-width="1.7"/>
<circle cx="1267.0" cy="761.5" r="7.6" fill="#00bb64" stroke="#111" stroke-width="1.7"/>
<circle cx="1284.2" cy="760.8" r="7.6" fill="#00bb64" stroke="#111" stroke-width="1.7"/>
<line x1="1279.8" y1="1094.0" x2="1279.8" y2="1106.0" stroke="#000" stroke-width="2.5" />
<text x="0" y="0" font-size="24.6" text-anchor="end" transform="translate(1284.8,1127.0) rotate(-45)" >5'P3'M</text>
<defs>
<linearGradient id="cbar" x1="0" y1="0" x2="0" y2="1">
<stop offset="0" stop-color="#ff0000"/><stop offset="0.08" stop-color="#ff0000"/><stop offset="0.21" stop-color="#ff7a00"/>
<stop offset="0.31" stop-color="#ffff00"/><stop offset="0.52" stop-color="#00e600"/><stop offset="0.63" stop-color="#00ff80"/><stop offset="0.75" stop-color="#00ffff"/>
<stop offset="0.87" stop-color="#0080ff"/><stop offset="1" stop-color="#0000ff"/></linearGradient>
<radialGradient id="body" cx="0.5" cy="0.65" r="0.6">
<stop offset="0" stop-color="#fbfbfb"/><stop offset="0.55" stop-color="#ececec"/><stop offset="0.88" stop-color="#c8c8c8"/><stop offset="1" stop-color="#909090"/></radialGradient>
<filter id="soft" x="-10%" y="-10%" width="120%" height="120%"><feGaussianBlur stdDeviation="0.7"/></filter>
<filter id="b15" x="-30%" y="-30%" width="160%" height="160%"><feGaussianBlur stdDeviation="1.5"/></filter>
<filter id="b25" x="-30%" y="-30%" width="160%" height="160%"><feGaussianBlur stdDeviation="2.5"/></filter>
<filter id="fur" x="0" y="0" width="100%" height="100%">
<feTurbulence type="fractalNoise" baseFrequency="0.18" numOctaves="2" seed="3" result="n"/>
<feColorMatrix in="n" type="matrix" values="0 0 0 0 0  0 0 0 0 0  0 0 0 0 0  0 0 0 -1.4 0.75" result="a"/>
<feComposite in="a" in2="SourceGraphic" operator="in"/></filter>
</defs>
<text x="1.0" y="1321.7" font-size="57" fill="#000" >e</text>
<text x="93.3" y="1397.8" font-size="25.7" text-anchor="middle" fill="#000" >TEV</text>
<text x="245.3" y="1397.8" font-size="25.7" text-anchor="middle" fill="#000" >5’M3’M</text>
<text x="418.0" y="1397.8" font-size="25.7" text-anchor="middle" fill="#000" >5’M3’P</text>
<text x="586.5" y="1397.8" font-size="25.7" text-anchor="middle" fill="#000" >5’P3’P</text>
<text x="749.7" y="1397.8" font-size="25.7" text-anchor="middle" fill="#000" >5’P3’M</text>
<rect x="5.4" y="1416.5" width="157.3" height="332.0" fill="#0e0e0e"/>
<svg x="5.4" y="1416.5" width="157.3" height="332.0" viewBox="0 0 157.3 332.0" overflow="hidden">
<g transform="translate(0,0.00) scale(1.0019,0.9952)">
<rect x="0" y="0" width="157" height="2" fill="#050505"/><rect x="0" y="50" width="40" height="6" fill="#0a0a0a"/>
<rect x="0" y="2" width="45" height="2.5" fill="#242424"/>
<rect x="0" y="49" width="28" height="2.5" fill="#202020"/>
<rect x="126" y="3" width="33" height="26" fill="#1d1d1d"/>
<rect x="0" y="25" width="13" height="5" fill="#9a9a9a" filter="url(#soft)"/>
<path d="M120,35.9 C136,35.9 149,34.9 158,34.7" fill="none" stroke="#a4a4a4" stroke-width="4.6"/>
<g transform="translate(0,0.0)">
<path d="M8,24 C10,20 16,17 22,16 C26,12 28,6 32,4 C36,3 38,6 38,10 C42,8 46,9 46,13 C60,14 80,13 95,13 C108,13 118,13 122,17 C125,22 125,30 123,36 C120,44 110,52 94,55 C80,57 60,57 45,54 C35,52 28,49 24,45 C18,40 12,34 9,29 C7.5,27 7.5,25.5 8,24 Z" fill="url(#body)" filter="url(#soft)"/>
<clipPath id="mc1"><path d="M8,24 C10,20 16,17 22,16 C26,12 28,6 32,4 C36,3 38,6 38,10 C42,8 46,9 46,13 C60,14 80,13 95,13 C108,13 118,13 122,17 C125,22 125,30 123,36 C120,44 110,52 94,55 C80,57 60,57 45,54 C35,52 28,49 24,45 C18,40 12,34 9,29 C7.5,27 7.5,25.5 8,24 Z"/></clipPath><g clip-path="url(#mc1)">
<ellipse cx="24" cy="26" rx="15" ry="12" fill="#8a8a8a" opacity="0.5" filter="url(#b25)"/>
<ellipse cx="36" cy="9" rx="8" ry="5" fill="#777" opacity="0.45" filter="url(#b15)"/>
<ellipse cx="30" cy="46" rx="9" ry="6" fill="#808080" opacity="0.45" filter="url(#b25)"/>
<path d="M8,24 C10,20 16,17 22,16 C26,12 28,6 32,4 C36,3 38,6 38,10 C42,8 46,9 46,13 C60,14 80,13 95,13 C108,13 118,13 122,17 C125,22 125,30 123,36 C120,44 110,52 94,55 C80,57 60,57 45,54 C35,52 28,49 24,45 C18,40 12,34 9,29 C7.5,27 7.5,25.5 8,24 Z" fill="#000" filter="url(#fur)" opacity="0.14"/>
</g>
<rect x="34" y="41" width="8" height="3" fill="#f8f8f8" stroke="#444" stroke-width="0.7" transform="rotate(-20 38 42)"/>
<path d="M113.0,16.0 C113.0,8.0 114.0,4.0 116.0,1.0 L121.0,0.0 C120.0,6.0 122.0,11.0 123.5,17.0 Z" fill="#6a40ee" opacity="0.95"/>
<path d="M107.0,15.0 C107.0,10.0 108.0,7.0 110.0,5.0 L113.0,6.0 L113.0,15.0 Z" fill="#7038e6" opacity="0.81"/>
<path d="M82.0,23.0 C82.0,16.0 88.0,13.0 96.0,13.0 L121.0,13.0 L123.0,17.0 L123.0,30.0 C120.0,39.0 111.0,42.0 100.0,42.0 C88.0,40.0 82.0,32.0 82.0,23.0 Z" fill="#7a38e2"/>
<ellipse cx="103.5" cy="23.0" rx="17.5" ry="9.0" fill="#2e42f2" filter="url(#b25)"/>
<ellipse cx="106.5" cy="20.0" rx="13.5" ry="4" fill="#2cbcef" filter="url(#b15)"/>
<ellipse cx="112.0" cy="18.5" rx="8" ry="3.2" fill="#3cec74" filter="url(#b15)"/>
<ellipse cx="117.0" cy="18.0" rx="4" ry="2.4" fill="#d8f030" filter="url(#soft)"/>
</g>
</g>
<g transform="translate(0,55.33) scale(1.0019,0.9952)">
<rect x="0" y="0" width="157" height="2" fill="#050505"/><rect x="0" y="50" width="40" height="6" fill="#0a0a0a"/>
<rect x="0" y="2" width="45" height="2.5" fill="#242424"/>
<rect x="0" y="49" width="28" height="2.5" fill="#202020"/>
<rect x="124" y="3" width="35" height="26" fill="#1d1d1d"/>
<rect x="0" y="25" width="13" height="5" fill="#9a9a9a" filter="url(#soft)"/>
<path d="M118,39.4 C134,39.4 147,38.4 158,39.0" fill="none" stroke="#a4a4a4" stroke-width="4.6"/>
<g transform="translate(0,1.0)">
<path d="M8,24 C10,20 16,17 22,16 C26,12 28,6 32,4 C36,3 38,6 38,10 C42,8 46,9 46,13 C60,14 80,13 95,13 C108,13 116,13 120,17 C123,22 123,30 121,36 C118,44 108,52 92,55 C80,57 60,57 45,54 C35,52 28,49 24,45 C18,40 12,34 9,29 C7.5,27 7.5,25.5 8,24 Z" fill="url(#body)" filter="url(#soft)"/>
<clipPath id="mc2"><path d="M8,24 C10,20 16,17 22,16 C26,12 28,6 32,4 C36,3 38,6 38,10 C42,8 46,9 46,13 C60,14 80,13 95,13 C108,13 116,13 120,17 C123,22 123,30 121,36 C118,44 108,52 92,55 C80,57 60,57 45,54 C35,52 28,49 24,45 C18,40 12,34 9,29 C7.5,27 7.5,25.5 8,24 Z"/></clipPath><g clip-path="url(#mc2)">
<ellipse cx="24" cy="26" rx="15" ry="12" fill="#8a8a8a" opacity="0.5" filter="url(#b25)"/>
<ellipse cx="36" cy="9" rx="8" ry="5" fill="#777" opacity="0.45" filter="url(#b15)"/>
<ellipse cx="30" cy="46" rx="9" ry="6" fill="#808080" opacity="0.45" filter="url(#b25)"/>
<path d="M8,24 C10,20 16,17 22,16 C26,12 28,6 32,4 C36,3 38,6 38,10 C42,8 46,9 46,13 C60,14 80,13 95,13 C108,13 116,13 120,17 C123,22 123,30 121,36 C118,44 108,52 92,55 C80,57 60,57 45,54 C35,52 28,49 24,45 C18,40 12,34 9,29 C7.5,27 7.5,25.5 8,24 Z" fill="#000" filter="url(#fur)" opacity="0.14"/>
</g>
<rect x="34" y="41" width="8" height="3" fill="#f8f8f8" stroke="#444" stroke-width="0.7" transform="rotate(-20 38 42)"/>
<path d="M111.0,16.0 C111.0,8.0 112.0,4.0 114.0,1.0 L119.0,0.0 C118.0,6.0 120.0,11.0 121.5,17.0 Z" fill="#6a40ee" opacity="0.95"/>
<path d="M105.0,15.0 C105.0,10.0 106.0,7.0 108.0,5.0 L111.0,6.0 L111.0,15.0 Z" fill="#7038e6" opacity="0.81"/>
<path d="M80.0,23.0 C80.0,16.0 86.0,13.0 94.0,13.0 L119.0,13.0 L121.0,17.0 L121.0,34.3 C118.0,43.3 109.0,46.3 98.0,46.3 C86.0,44.3 80.0,36.3 80.0,23.0 Z" fill="#7a38e2"/>
<ellipse cx="101.5" cy="24.5" rx="17.5" ry="10.3" fill="#2e42f2" filter="url(#b25)"/>
<ellipse cx="104.5" cy="20.0" rx="13.5" ry="4" fill="#2cbcef" filter="url(#b15)"/>
</g>
</g>
<g transform="translate(0,110.67) scale(1.0019,0.9952)">
<rect x="0" y="0" width="157" height="2" fill="#050505"/><rect x="0" y="50" width="40" height="6" fill="#0a0a0a"/>
<rect x="0" y="2" width="45" height="2.5" fill="#242424"/>
<rect x="0" y="49" width="28" height="2.5" fill="#202020"/>
<rect x="128" y="3" width="31" height="26" fill="#1d1d1d"/>
<rect x="0" y="25" width="13" height="5" fill="#9a9a9a" filter="url(#soft)"/>
<path d="M122,36.2 C138,36.2 151,35.2 158,32.6" fill="none" stroke="#a4a4a4" stroke-width="4.6"/>
<g transform="translate(0,0.0)">
<path d="M8,24 C10,20 16,17 22,16 C26,12 28,6 32,4 C36,3 38,6 38,10 C42,8 46,9 46,13 C60,14 80,13 95,13 C108,13 120,13 124,17 C127,22 127,30 125,36 C122,44 112,52 96,55 C80,57 60,57 45,54 C35,52 28,49 24,45 C18,40 12,34 9,29 C7.5,27 7.5,25.5 8,24 Z" fill="url(#body)" filter="url(#soft)"/>
<clipPath id="mc3"><path d="M8,24 C10,20 16,17 22,16 C26,12 28,6 32,4 C36,3 38,6 38,10 C42,8 46,9 46,13 C60,14 80,13 95,13 C108,13 120,13 124,17 C127,22 127,30 125,36 C122,44 112,52 96,55 C80,57 60,57 45,54 C35,52 28,49 24,45 C18,40 12,34 9,29 C7.5,27 7.5,25.5 8,24 Z"/></clipPath><g clip-path="url(#mc3)">
<ellipse cx="24" cy="26" rx="15" ry="12" fill="#8a8a8a" opacity="0.5" filter="url(#b25)"/>
<ellipse cx="36" cy="9" rx="8" ry="5" fill="#777" opacity="0.45" filter="url(#b15)"/>
<ellipse cx="30" cy="46" rx="9" ry="6" fill="#808080" opacity="0.45" filter="url(#b25)"/>
<path d="M8,24 C10,20 16,17 22,16 C26,12 28,6 32,4 C36,3 38,6 38,10 C42,8 46,9 46,13 C60,14 80,13 95,13 C108,13 120,13 124,17 C127,22 127,30 125,36 C122,44 112,52 96,55 C80,57 60,57 45,54 C35,52 28,49 24,45 C18,40 12,34 9,29 C7.5,27 7.5,25.5 8,24 Z" fill="#000" filter="url(#fur)" opacity="0.14"/>
</g>
<rect x="34" y="41" width="8" height="3" fill="#f8f8f8" stroke="#444" stroke-width="0.7" transform="rotate(-20 38 42)"/>
<path d="M115.0,16.0 C115.0,8.0 116.0,4.0 118.0,1.0 L123.0,0.0 C122.0,6.0 124.0,11.0 125.5,17.0 Z" fill="#6a40ee" opacity="0.95"/>
<path d="M109.0,15.0 C109.0,10.0 110.0,7.0 112.0,5.0 L115.0,6.0 L115.0,15.0 Z" fill="#7038e6" opacity="0.81"/>
<path d="M84.0,23.0 C84.0,16.0 90.0,13.0 98.0,13.0 L123.0,13.0 L125.0,17.0 L125.0,30.0 C122.0,39.0 113.0,42.0 102.0,42.0 C90.0,40.0 84.0,32.0 84.0,23.0 Z" fill="#7a38e2"/>
<ellipse cx="105.5" cy="23.0" rx="17.5" ry="9.0" fill="#2e42f2" filter="url(#b25)"/>
<ellipse cx="108.5" cy="20.0" rx="13.5" ry="4" fill="#2cbcef" filter="url(#b15)"/>
<ellipse cx="114.0" cy="18.5" rx="8" ry="3.2" fill="#3cec74" filter="url(#b15)"/>
<ellipse cx="119.0" cy="18.0" rx="4" ry="2.4" fill="#d8f030" filter="url(#soft)"/>
<ellipse cx="119.0" cy="18.0" rx="3.8" ry="2.3" fill="#ff1800" filter="url(#soft)"/>
</g>
</g>
<g transform="translate(0,166.00) scale(1.0019,0.9952)">
<rect x="0" y="0" width="157" height="2" fill="#050505"/><rect x="0" y="50" width="40" height="6" fill="#0a0a0a"/>
<rect x="0" y="2" width="45" height="2.5" fill="#242424"/>
<rect x="0" y="49" width="28" height="2.5" fill="#202020"/>
<rect x="126" y="3" width="33" height="26" fill="#1d1d1d"/>
<rect x="0" y="25" width="13" height="5" fill="#9a9a9a" filter="url(#soft)"/>
<path d="M120,36.2 C136,36.2 149,35.2 158,29.0" fill="none" stroke="#a4a4a4" stroke-width="4.6"/>
<g transform="translate(0,0.0)">
<path d="M8,24 C10,20 16,17 22,16 C26,12 28,6 32,4 C36,3 38,6 38,10 C42,8 46,9 46,13 C60,14 80,13 95,13 C108,13 118,13 122,17 C125,22 125,30 123,36 C120,44 110,52 94,55 C80,57 60,57 45,54 C35,52 28,49 24,45 C18,40 12,34 9,29 C7.5,27 7.5,25.5 8,24 Z" fill="url(#body)" filter="url(#soft)"/>
<clipPath id="mc4"><path d="M8,24 C10,20 16,17 22,16 C26,12 28,6 32,4 C36,3 38,6 38,10 C42,8 46,9 46,13 C60,14 80,13 95,13 C108,13 118,13 122,17 C125,22 125,30 123,36 C120,44 110,52 94,55 C80,57 60,57 45,54 C35,52 28,49 24,45 C18,40 12,34 9,29 C7.5,27 7.5,25.5 8,24 Z"/></clipPath><g clip-path="url(#mc4)">
<ellipse cx="24" cy="26" rx="15" ry="12" fill="#8a8a8a" opacity="0.5" filter="url(#b25)"/>
<ellipse cx="36" cy="9" rx="8" ry="5" fill="#777" opacity="0.45" filter="url(#b15)"/>
<ellipse cx="30" cy="46" rx="9" ry="6" fill="#808080" opacity="0.45" filter="url(#b25)"/>
<path d="M8,24 C10,20 16,17 22,16 C26,12 28,6 32,4 C36,3 38,6 38,10 C42,8 46,9 46,13 C60,14 80,13 95,13 C108,13 118,13 122,17 C125,22 125,30 123,36 C120,44 110,52 94,55 C80,57 60,57 45,54 C35,52 28,49 24,45 C18,40 12,34 9,29 C7.5,27 7.5,25.5 8,24 Z" fill="#000" filter="url(#fur)" opacity="0.14"/>
</g>
<rect x="34" y="41" width="8" height="3" fill="#f8f8f8" stroke="#444" stroke-width="0.7" transform="rotate(-20 38 42)"/>
<path d="M113.0,16.0 C113.0,8.0 114.0,4.0 116.0,1.0 L121.0,0.0 C120.0,6.0 122.0,11.0 123.5,17.0 Z" fill="#6a40ee" opacity="0.95"/>
<path d="M107.0,15.0 C107.0,10.0 108.0,7.0 110.0,5.0 L113.0,6.0 L113.0,15.0 Z" fill="#7038e6" opacity="0.81"/>
<path d="M82.0,23.0 C82.0,16.0 88.0,13.0 96.0,13.0 L121.0,13.0 L123.0,17.0 L123.0,30.0 C120.0,39.0 111.0,42.0 100.0,42.0 C88.0,40.0 82.0,32.0 82.0,23.0 Z" fill="#7a38e2"/>
<ellipse cx="103.5" cy="23.0" rx="17.5" ry="9.0" fill="#2e42f2" filter="url(#b25)"/>
<ellipse cx="106.5" cy="20.0" rx="13.5" ry="4" fill="#2cbcef" filter="url(#b15)"/>
<ellipse cx="112.0" cy="18.5" rx="8" ry="3.2" fill="#3cec74" filter="url(#b15)"/>
<ellipse cx="117.0" cy="18.0" rx="4" ry="2.4" fill="#d8f030" filter="url(#soft)"/>
</g>
</g>
<g transform="translate(0,221.33) scale(1.0019,0.9952)">
<rect x="0" y="0" width="157" height="2" fill="#050505"/><rect x="0" y="50" width="40" height="6" fill="#0a0a0a"/>
<rect x="0" y="2" width="45" height="2.5" fill="#242424"/>
<rect x="0" y="49" width="28" height="2.5" fill="#202020"/>
<rect x="124" y="3" width="35" height="26" fill="#1d1d1d"/>
<rect x="0" y="25" width="13" height="5" fill="#9a9a9a" filter="url(#soft)"/>
<path d="M118,38.4 C134,38.4 147,37.4 158,36.3" fill="none" stroke="#a4a4a4" stroke-width="4.6"/>
<g transform="translate(0,1.0)">
<path d="M8,24 C10,20 16,17 22,16 C26,12 28,6 32,4 C36,3 38,6 38,10 C42,8 46,9 46,13 C60,14 80,13 95,13 C108,13 116,13 120,17 C123,22 123,30 121,36 C118,44 108,52 92,55 C80,57 60,57 45,54 C35,52 28,49 24,45 C18,40 12,34 9,29 C7.5,27 7.5,25.5 8,24 Z" fill="url(#body)" filter="url(#soft)"/>
<clipPath id="mc5"><path d="M8,24 C10,20 16,17 22,16 C26,12 28,6 32,4 C36,3 38,6 38,10 C42,8 46,9 46,13 C60,14 80,13 95,13 C108,13 116,13 120,17 C123,22 123,30 121,36 C118,44 108,52 92,55 C80,57 60,57 45,54 C35,52 28,49 24,45 C18,40 12,34 9,29 C7.5,27 7.5,25.5 8,24 Z"/></clipPath><g clip-path="url(#mc5)">
<ellipse cx="24" cy="26" rx="15" ry="12" fill="#8a8a8a" opacity="0.5" filter="url(#b25)"/>
<ellipse cx="36" cy="9" rx="8" ry="5" fill="#777" opacity="0.45" filter="url(#b15)"/>
<ellipse cx="30" cy="46" rx="9" ry="6" fill="#808080" opacity="0.45" filter="url(#b25)"/>
<path d="M8,24 C10,20 16,17 22,16 C26,12 28,6 32,4 C36,3 38,6 38,10 C42,8 46,9 46,13 C60,14 80,13 95,13 C108,13 116,13 120,17 C123,22 123,30 121,36 C118,44 108,52 92,55 C80,57 60,57 45,54 C35,52 28,49 24,45 C18,40 12,34 9,29 C7.5,27 7.5,25.5 8,24 Z" fill="#000" filter="url(#fur)" opacity="0.14"/>
</g>
<rect x="34" y="41" width="8" height="3" fill="#f8f8f8" stroke="#444" stroke-width="0.7" transform="rotate(-20 38 42)"/>
<path d="M111.0,16.0 C111.0,8.0 112.0,4.0 114.0,1.0 L119.0,0.0 C118.0,6.0 120.0,11.0 121.5,17.0 Z" fill="#6a40ee" opacity="0.95"/>
<path d="M105.0,15.0 C105.0,10.0 106.0,7.0 108.0,5.0 L111.0,6.0 L111.0,15.0 Z" fill="#7038e6" opacity="0.81"/>
<path d="M80.0,23.0 C80.0,16.0 86.0,13.0 94.0,13.0 L119.0,13.0 L121.0,17.0 L121.0,30.0 C118.0,39.0 109.0,42.0 98.0,42.0 C86.0,40.0 80.0,32.0 80.0,23.0 Z" fill="#7a38e2"/>
<ellipse cx="101.5" cy="23.0" rx="17.5" ry="9.0" fill="#2e42f2" filter="url(#b25)"/>
<ellipse cx="104.5" cy="20.0" rx="13.5" ry="4" fill="#2cbcef" filter="url(#b15)"/>
<ellipse cx="110.0" cy="18.5" rx="8" ry="3.2" fill="#3cec74" filter="url(#b15)"/>
<ellipse cx="115.0" cy="18.0" rx="4" ry="2.4" fill="#d8f030" filter="url(#soft)"/>
<ellipse cx="115.0" cy="18.0" rx="3.8" ry="2.3" fill="#ff1800" filter="url(#soft)"/>
</g>
</g>
<g transform="translate(0,276.67) scale(1.0019,0.9952)">
<rect x="0" y="0" width="157" height="2" fill="#050505"/><rect x="0" y="50" width="40" height="6" fill="#0a0a0a"/>
<rect x="0" y="2" width="45" height="2.5" fill="#242424"/>
<rect x="0" y="49" width="28" height="2.5" fill="#202020"/>
<rect x="128" y="3" width="31" height="26" fill="#1d1d1d"/>
<rect x="0" y="25" width="13" height="5" fill="#9a9a9a" filter="url(#soft)"/>
<path d="M122,38.9 C138,38.9 151,37.9 158,37.5" fill="none" stroke="#a4a4a4" stroke-width="4.6"/>
<g transform="translate(0,1.0)">
<path d="M8,24 C10,20 16,17 22,16 C26,12 28,6 32,4 C36,3 38,6 38,10 C42,8 46,9 46,13 C60,14 80,13 95,13 C108,13 120,13 124,17 C127,22 127,30 125,36 C122,44 112,52 96,55 C80,57 60,57 45,54 C35,52 28,49 24,45 C18,40 12,34 9,29 C7.5,27 7.5,25.5 8,24 Z" fill="url(#body)" filter="url(#soft)"/>
<clipPath id="mc6"><path d="M8,24 C10,20 16,17 22,16 C26,12 28,6 32,4 C36,3 38,6 38,10 C42,8 46,9 46,13 C60,14 80,13 95,13 C108,13 120,13 124,17 C127,22 127,30 125,36 C122,44 112,52 96,55 C80,57 60,57 45,54 C35,52 28,49 24,45 C18,40 12,34 9,29 C7.5,27 7.5,25.5 8,24 Z"/></clipPath><g clip-path="url(#mc6)">
<ellipse cx="24" cy="26" rx="15" ry="12" fill="#8a8a8a" opacity="0.5" filter="url(#b25)"/>
<ellipse cx="36" cy="9" rx="8" ry="5" fill="#777" opacity="0.45" filter="url(#b15)"/>
<ellipse cx="30" cy="46" rx="9" ry="6" fill="#808080" opacity="0.45" filter="url(#b25)"/>
<path d="M8,24 C10,20 16,17 22,16 C26,12 28,6 32,4 C36,3 38,6 38,10 C42,8 46,9 46,13 C60,14 80,13 95,13 C108,13 120,13 124,17 C127,22 127,30 125,36 C122,44 112,52 96,55 C80,57 60,57 45,54 C35,52 28,49 24,45 C18,40 12,34 9,29 C7.5,27 7.5,25.5 8,24 Z" fill="#000" filter="url(#fur)" opacity="0.14"/>
</g>
<rect x="34" y="41" width="8" height="3" fill="#f8f8f8" stroke="#444" stroke-width="0.7" transform="rotate(-20 38 42)"/>
<path d="M115.0,16.0 C115.0,8.0 116.0,4.0 118.0,1.0 L123.0,0.0 C122.0,6.0 124.0,11.0 125.5,17.0 Z" fill="#6a40ee" opacity="0.95"/>
<path d="M109.0,15.0 C109.0,10.0 110.0,7.0 112.0,5.0 L115.0,6.0 L115.0,15.0 Z" fill="#7038e6" opacity="0.81"/>
<path d="M84.0,23.0 C84.0,16.0 90.0,13.0 98.0,13.0 L123.0,13.0 L125.0,17.0 L125.0,31.5 C122.0,40.5 113.0,43.5 102.0,43.5 C90.0,41.5 84.0,33.5 84.0,23.0 Z" fill="#7a38e2"/>
<ellipse cx="105.5" cy="23.5" rx="17.5" ry="9.5" fill="#2e42f2" filter="url(#b25)"/>
<ellipse cx="108.5" cy="20.0" rx="13.5" ry="4" fill="#2cbcef" filter="url(#b15)"/>
</g>
</g>
</svg>
<rect x="171.7" y="1415.7" width="157.3" height="332.8" fill="#0e0e0e"/>
<svg x="171.7" y="1415.7" width="157.3" height="332.8" viewBox="0 0 157.3 332.8" overflow="hidden">
<g transform="translate(0,0.00) scale(1.0019,0.9976)">
<rect x="0" y="0" width="157" height="2" fill="#050505"/><rect x="0" y="50" width="40" height="6" fill="#0a0a0a"/>
<rect x="0" y="2" width="45" height="2.5" fill="#242424"/>
<rect x="0" y="49" width="28" height="2.5" fill="#202020"/>
<rect x="126" y="3" width="33" height="26" fill="#1d1d1d"/>
<rect x="0" y="25" width="13" height="5" fill="#9a9a9a" filter="url(#soft)"/>
<path d="M120,35.5 C136,35.5 149,34.5 158,28.7" fill="none" stroke="#a4a4a4" stroke-width="4.6"/>
<g transform="translate(0,-1.0)">
<path d="M8,24 C10,20 16,17 22,16 C26,12 28,6 32,4 C36,3 38,6 38,10 C42,8 46,9 46,13 C60,14 80,13 95,13 C108,13 118,13 122,17 C125,22 125,30 123,36 C120,44 110,52 94,55 C80,57 60,57 45,54 C35,52 28,49 24,45 C18,40 12,34 9,29 C7.5,27 7.5,25.5 8,24 Z" fill="url(#body)" filter="url(#soft)"/>
<clipPath id="mc7"><path d="M8,24 C10,20 16,17 22,16 C26,12 28,6 32,4 C36,3 38,6 38,10 C42,8 46,9 46,13 C60,14 80,13 95,13 C108,13 118,13 122,17 C125,22 125,30 123,36 C120,44 110,52 94,55 C80,57 60,57 45,54 C35,52 28,49 24,45 C18,40 12,34 9,29 C7.5,27 7.5,25.5 8,24 Z"/></clipPath><g clip-path="url(#mc7)">
<ellipse cx="24" cy="26" rx="15" ry="12" fill="#8a8a8a" opacity="0.5" filter="url(#b25)"/>
<ellipse cx="36" cy="9" rx="8" ry="5" fill="#777" opacity="0.45" filter="url(#b15)"/>
<ellipse cx="30" cy="46" rx="9" ry="6" fill="#808080" opacity="0.45" filter="url(#b25)"/>
<path d="M8,24 C10,20 16,17 22,16 C26,12 28,6 32,4 C36,3 38,6 38,10 C42,8 46,9 46,13 C60,14 80,13 95,13 C108,13 118,13 122,17 C125,22 125,30 123,36 C120,44 110,52 94,55 C80,57 60,57 45,54 C35,52 28,49 24,45 C18,40 12,34 9,29 C7.5,27 7.5,25.5 8,24 Z" fill="#000" filter="url(#fur)" opacity="0.14"/>
</g>
<rect x="34" y="41" width="8" height="3" fill="#f8f8f8" stroke="#444" stroke-width="0.7" transform="rotate(-20 38 42)"/>
<path d="M113.0,16.0 C113.0,8.0 114.0,4.0 116.0,1.0 L121.0,0.0 C120.0,6.0 122.0,11.0 123.5,17.0 Z" fill="#6a40ee" opacity="0.95"/>
<path d="M107.0,15.0 C107.0,10.0 108.0,7.0 110.0,5.0 L113.0,6.0 L113.0,15.0 Z" fill="#7038e6" opacity="0.81"/>
<path d="M82.0,23.0 C82.0,16.0 88.0,13.0 96.0,13.0 L121.0,13.0 L123.0,17.0 L123.0,32.9 C120.0,41.9 111.0,44.9 100.0,44.9 C88.0,42.9 82.0,34.9 82.0,23.0 Z" fill="#7a38e2"/>
<ellipse cx="103.5" cy="24.0" rx="17.5" ry="9.9" fill="#2e42f2" filter="url(#b25)"/>
<ellipse cx="106.5" cy="20.0" rx="13.5" ry="4" fill="#2cbcef" filter="url(#b15)"/>
<ellipse cx="112.0" cy="18.5" rx="8" ry="3.2" fill="#3cec74" filter="url(#b15)"/>
<ellipse cx="117.0" cy="18.0" rx="4" ry="2.4" fill="#d8f030" filter="url(#soft)"/>
<ellipse cx="109.0" cy="19.0" rx="13" ry="4.5" fill="#40f060" filter="url(#b15)"/>
<ellipse cx="115.0" cy="18.5" rx="7" ry="3.2" fill="#f0f020" filter="url(#soft)"/>
<ellipse cx="117.0" cy="18.0" rx="5.5" ry="2.8" fill="#ff1000" filter="url(#soft)"/>
</g>
</g>
<g transform="translate(0,55.47) scale(1.0019,0.9976)">
<rect x="0" y="0" width="157" height="2" fill="#050505"/><rect x="0" y="50" width="40" height="6" fill="#0a0a0a"/>
<rect x="0" y="2" width="45" height="2.5" fill="#242424"/>
<rect x="0" y="49" width="28" height="2.5" fill="#202020"/>
<rect x="124" y="3" width="35" height="26" fill="#1d1d1d"/>
<rect x="0" y="25" width="13" height="5" fill="#9a9a9a" filter="url(#soft)"/>
<path d="M118,36.2 C134,36.2 147,35.2 158,35.9" fill="none" stroke="#a4a4a4" stroke-width="4.6"/>
<g transform="translate(0,0.0)">
<path d="M8,24 C10,20 16,17 22,16 C26,12 28,6 32,4 C36,3 38,6 38,10 C42,8 46,9 46,13 C60,14 80,13 95,13 C108,13 116,13 120,17 C123,22 123,30 121,36 C118,44 108,52 92,55 C80,57 60,57 45,54 C35,52 28,49 24,45 C18,40 12,34 9,29 C7.5,27 7.5,25.5 8,24 Z" fill="url(#body)" filter="url(#soft)"/>
<clipPath id="mc8"><path d="M8,24 C10,20 16,17 22,16 C26,12 28,6 32,4 C36,3 38,6 38,10 C42,8 46,9 46,13 C60,14 80,13 95,13 C108,13 116,13 120,17 C123,22 123,30 121,36 C118,44 108,52 92,55 C80,57 60,57 45,54 C35,52 28,49 24,45 C18,40 12,34 9,29 C7.5,27 7.5,25.5 8,24 Z"/></clipPath><g clip-path="url(#mc8)">
<ellipse cx="24" cy="26" rx="15" ry="12" fill="#8a8a8a" opacity="0.5" filter="url(#b25)"/>
<ellipse cx="36" cy="9" rx="8" ry="5" fill="#777" opacity="0.45" filter="url(#b15)"/>
<ellipse cx="30" cy="46" rx="9" ry="6" fill="#808080" opacity="0.45" filter="url(#b25)"/>
<path d="M8,24 C10,20 16,17 22,16 C26,12 28,6 32,4 C36,3 38,6 38,10 C42,8 46,9 46,13 C60,14 80,13 95,13 C108,13 116,13 120,17 C123,22 123,30 121,36 C118,44 108,52 92,55 C80,57 60,57 45,54 C35,52 28,49 24,45 C18,40 12,34 9,29 C7.5,27 7.5,25.5 8,24 Z" fill="#000" filter="url(#fur)" opacity="0.14"/>
</g>
<rect x="34" y="41" width="8" height="3" fill="#f8f8f8" stroke="#444" stroke-width="0.7" transform="rotate(-20 38 42)"/>
<path d="M111.0,16.0 C111.0,8.0 112.0,4.0 114.0,1.0 L119.0,0.0 C118.0,6.0 120.0,11.0 121.5,17.0 Z" fill="#6a40ee" opacity="0.95"/>
<path d="M105.0,15.0 C105.0,10.0 106.0,7.0 108.0,5.0 L111.0,6.0 L111.0,15.0 Z" fill="#7038e6" opacity="0.81"/>
<path d="M80.0,23.0 C80.0,16.0 86.0,13.0 94.0,13.0 L119.0,13.0 L121.0,17.0 L121.0,31.5 C118.0,40.5 109.0,43.5 98.0,43.5 C86.0,41.5 80.0,33.5 80.0,23.0 Z" fill="#7a38e2"/>
<ellipse cx="101.5" cy="23.5" rx="17.5" ry="9.5" fill="#2e42f2" filter="url(#b25)"/>
<ellipse cx="104.5" cy="20.0" rx="13.5" ry="4" fill="#2cbcef" filter="url(#b15)"/>
<ellipse cx="110.0" cy="18.5" rx="8" ry="3.2" fill="#3cec74" filter="url(#b15)"/>
<ellipse cx="115.0" cy="18.0" rx="4" ry="2.4" fill="#d8f030" filter="url(#soft)"/>
<ellipse cx="115.0" cy="18.0" rx="3.8" ry="2.3" fill="#ff1800" filter="url(#soft)"/>
</g>
</g>
<g transform="translate(0,110.93) scale(1.0019,0.9976)">
<rect x="0" y="0" width="157" height="2" fill="#050505"/><rect x="0" y="50" width="40" height="6" fill="#0a0a0a"/>
<rect x="0" y="2" width="45" height="2.5" fill="#242424"/>
<rect x="0" y="49" width="28" height="2.5" fill="#202020"/>
<rect x="124" y="3" width="35" height="26" fill="#1d1d1d"/>
<rect x="0" y="25" width="13" height="5" fill="#9a9a9a" filter="url(#soft)"/>
<path d="M118,36.9 C134,36.9 147,35.9 158,31.9" fill="none" stroke="#a4a4a4" stroke-width="4.6"/>
<g transform="translate(0,0.0)">
<path d="M8,24 C10,20 16,17 22,16 C26,12 28,6 32,4 C36,3 38,6 38,10 C42,8 46,9 46,13 C60,14 80,13 95,13 C108,13 116,13 120,17 C123,22 123,30 121,36 C118,44 108,52 92,55 C80,57 60,57 45,54 C35,52 28,49 24,45 C18,40 12,34 9,29 C7.5,27 7.5,25.5 8,24 Z" fill="url(#body)" filter="url(#soft)"/>
<clipPath id="mc9"><path d="M8,24 C10,20 16,17 22,16 C26,12 28,6 32,4 C36,3 38,6 38,10 C42,8 46,9 46,13 C60,14 80,13 95,13 C108,13 116,13 120,17 C123,22 123,30 121,36 C118,44 108,52 92,55 C80,57 60,57 45,54 C35,52 28,49 24,45 C18,40 12,34 9,29 C7.5,27 7.5,25.5 8,24 Z"/></clipPath><g clip-path="url(#mc9)">
<ellipse cx="24" cy="26" rx="15" ry="12" fill="#8a8a8a" opacity="0.5" filter="url(#b25)"/>
<ellipse cx="36" cy="9" rx="8" ry="5" fill="#777" opacity="0.45" filter="url(#b15)"/>
<ellipse cx="30" cy="46" rx="9" ry="6" fill="#808080" opacity="0.45" filter="url(#b25)"/>
<path d="M8,24 C10,20 16,17 22,16 C26,12 28,6 32,4 C36,3 38,6 38,10 C42,8 46,9 46,13 C60,14 80,13 95,13 C108,13 116,13 120,17 C123,22 123,30 121,36 C118,44 108,52 92,55 C80,57 60,57 45,54 C35,52 28,49 24,45 C18,40 12,34 9,29 C7.5,27 7.5,25.5 8,24 Z" fill="#000" filter="url(#fur)" opacity="0.14"/>
</g>
<rect x="34" y="41" width="8" height="3" fill="#f8f8f8" stroke="#444" stroke-width="0.7" transform="rotate(-20 38 42)"/>
<path d="M111.0,16.0 C111.0,8.0 112.0,4.0 114.0,1.0 L119.0,0.0 C118.0,6.0 120.0,11.0 121.5,17.0 Z" fill="#6a40ee" opacity="0.95"/>
<path d="M105.0,15.0 C105.0,10.0 106.0,7.0 108.0,5.0 L111.0,6.0 L111.0,15.0 Z" fill="#7038e6" opacity="0.81"/>
<path d="M80.0,23.0 C80.0,16.0 86.0,13.0 94.0,13.0 L119.0,13.0 L121.0,17.0 L121.0,30.0 C118.0,39.0 109.0,42.0 98.0,42.0 C86.0,40.0 80.0,32.0 80.0,23.0 Z" fill="#7a38e2"/>
<ellipse cx="101.5" cy="23.0" rx="17.5" ry="9.0" fill="#2e42f2" filter="url(#b25)"/>
<ellipse cx="104.5" cy="20.0" rx="13.5" ry="4" fill="#2cbcef" filter="url(#b15)"/>
<ellipse cx="110.0" cy="18.5" rx="8" ry="3.2" fill="#3cec74" filter="url(#b15)"/>
<ellipse cx="115.0" cy="18.0" rx="4" ry="2.4" fill="#d8f030" filter="url(#soft)"/>
</g>
</g>
<g transform="translate(0,166.40) scale(1.0019,0.9976)">
<rect x="0" y="0" width="157" height="2" fill="#050505"/><rect x="0" y="50" width="40" height="6" fill="#0a0a0a"/>
<rect x="0" y="2" width="45" height="2.5" fill="#242424"/>
<rect x="0" y="49" width="28" height="2.5" fill="#202020"/>
<rect x="127" y="3" width="32" height="26" fill="#1d1d1d"/>
<rect x="0" y="25" width="13" height="5" fill="#9a9a9a" filter="url(#soft)"/>
<path d="M121,37.2 C137,37.2 150,36.2 158,32.6" fill="none" stroke="#a4a4a4" stroke-width="4.6"/>
<g transform="translate(0,0.0)">
<path d="M8,24 C10,20 16,17 22,16 C26,12 28,6 32,4 C36,3 38,6 38,10 C42,8 46,9 46,13 C60,14 80,13 95,13 C108,13 119,13 123,17 C126,22 126,30 124,36 C121,44 111,52 95,55 C80,57 60,57 45,54 C35,52 28,49 24,45 C18,40 12,34 9,29 C7.5,27 7.5,25.5 8,24 Z" fill="url(#body)" filter="url(#soft)"/>
<clipPath id="mc10"><path d="M8,24 C10,20 16,17 22,16 C26,12 28,6 32,4 C36,3 38,6 38,10 C42,8 46,9 46,13 C60,14 80,13 95,13 C108,13 119,13 123,17 C126,22 126,30 124,36 C121,44 111,52 95,55 C80,57 60,57 45,54 C35,52 28,49 24,45 C18,40 12,34 9,29 C7.5,27 7.5,25.5 8,24 Z"/></clipPath><g clip-path="url(#mc10)">
<ellipse cx="24" cy="26" rx="15" ry="12" fill="#8a8a8a" opacity="0.5" filter="url(#b25)"/>
<ellipse cx="36" cy="9" rx="8" ry="5" fill="#777" opacity="0.45" filter="url(#b15)"/>
<ellipse cx="30" cy="46" rx="9" ry="6" fill="#808080" opacity="0.45" filter="url(#b25)"/>
<path d="M8,24 C10,20 16,17 22,16 C26,12 28,6 32,4 C36,3 38,6 38,10 C42,8 46,9 46,13 C60,14 80,13 95,13 C108,13 119,13 123,17 C126,22 126,30 124,36 C121,44 111,52 95,55 C80,57 60,57 45,54 C35,52 28,49 24,45 C18,40 12,34 9,29 C7.5,27 7.5,25.5 8,24 Z" fill="#000" filter="url(#fur)" opacity="0.14"/>
</g>
<rect x="34" y="41" width="8" height="3" fill="#f8f8f8" stroke="#444" stroke-width="0.7" transform="rotate(-20 38 42)"/>
<path d="M114.0,16.0 C114.0,8.0 115.0,4.0 117.0,1.0 L122.0,0.0 C121.0,6.0 123.0,11.0 124.5,17.0 Z" fill="#6a40ee" opacity="0.95"/>
<path d="M108.0,15.0 C108.0,10.0 109.0,7.0 111.0,5.0 L114.0,6.0 L114.0,15.0 Z" fill="#7038e6" opacity="0.81"/>
<path d="M83.0,23.0 C83.0,16.0 89.0,13.0 97.0,13.0 L122.0,13.0 L124.0,17.0 L124.0,31.5 C121.0,40.5 112.0,43.5 101.0,43.5 C89.0,41.5 83.0,33.5 83.0,23.0 Z" fill="#7a38e2"/>
<ellipse cx="104.5" cy="23.5" rx="17.5" ry="9.5" fill="#2e42f2" filter="url(#b25)"/>
<ellipse cx="107.5" cy="20.0" rx="13.5" ry="4" fill="#2cbcef" filter="url(#b15)"/>
<ellipse cx="113.0" cy="18.5" rx="8" ry="3.2" fill="#3cec74" filter="url(#b15)"/>
<ellipse cx="118.0" cy="18.0" rx="4" ry="2.4" fill="#d8f030" filter="url(#soft)"/>
</g>
</g>
<g transform="translate(0,221.87) scale(1.0019,0.9976)">
<rect x="0" y="0" width="157" height="2" fill="#050505"/><rect x="0" y="50" width="40" height="6" fill="#0a0a0a"/>
<rect x="0" y="2" width="45" height="2.5" fill="#242424"/>
<rect x="0" y="49" width="28" height="2.5" fill="#202020"/>
<rect x="123" y="3" width="36" height="26" fill="#1d1d1d"/>
<rect x="0" y="25" width="13" height="5" fill="#9a9a9a" filter="url(#soft)"/>
<path d="M117,36.9 C133,36.9 146,35.9 158,33.3" fill="none" stroke="#a4a4a4" stroke-width="4.6"/>
<g transform="translate(0,0.0)">
<path d="M8,24 C10,20 16,17 22,16 C26,12 28,6 32,4 C36,3 38,6 38,10 C42,8 46,9 46,13 C60,14 80,13 95,13 C108,13 115,13 119,17 C122,22 122,30 120,36 C117,44 107,52 91,55 C80,57 60,57 45,54 C35,52 28,49 24,45 C18,40 12,34 9,29 C7.5,27 7.5,25.5 8,24 Z" fill="url(#body)" filter="url(#soft)"/>
<clipPath id="mc11"><path d="M8,24 C10,20 16,17 22,16 C26,12 28,6 32,4 C36,3 38,6 38,10 C42,8 46,9 46,13 C60,14 80,13 95,13 C108,13 115,13 119,17 C122,22 122,30 120,36 C117,44 107,52 91,55 C80,57 60,57 45,54 C35,52 28,49 24,45 C18,40 12,34 9,29 C7.5,27 7.5,25.5 8,24 Z"/></clipPath><g clip-path="url(#mc11)">
<ellipse cx="24" cy="26" rx="15" ry="12" fill="#8a8a8a" opacity="0.5" filter="url(#b25)"/>
<ellipse cx="36" cy="9" rx="8" ry="5" fill="#777" opacity="0.45" filter="url(#b15)"/>
<ellipse cx="30" cy="46" rx="9" ry="6" fill="#808080" opacity="0.45" filter="url(#b25)"/>
<path d="M8,24 C10,20 16,17 22,16 C26,12 28,6 32,4 C36,3 38,6 38,10 C42,8 46,9 46,13 C60,14 80,13 95,13 C108,13 115,13 119,17 C122,22 122,30 120,36 C117,44 107,52 91,55 C80,57 60,57 45,54 C35,52 28,49 24,45 C18,40 12,34 9,29 C7.5,27 7.5,25.5 8,24 Z" fill="#000" filter="url(#fur)" opacity="0.14"/>
</g>
<rect x="34" y="41" width="8" height="3" fill="#f8f8f8" stroke="#444" stroke-width="0.7" transform="rotate(-20 38 42)"/>
<path d="M110.0,16.0 C110.0,8.0 111.0,4.0 113.0,1.0 L118.0,0.0 C117.0,6.0 119.0,11.0 120.5,17.0 Z" fill="#6a40ee" opacity="0.95"/>
<path d="M104.0,15.0 C104.0,10.0 105.0,7.0 107.0,5.0 L110.0,6.0 L110.0,15.0 Z" fill="#7038e6" opacity="0.81"/>
<path d="M79.0,23.0 C79.0,16.0 85.0,13.0 93.0,13.0 L118.0,13.0 L120.0,17.0 L120.0,30.0 C117.0,39.0 108.0,42.0 97.0,42.0 C85.0,40.0 79.0,32.0 79.0,23.0 Z" fill="#7a38e2"/>
<ellipse cx="100.5" cy="23.0" rx="17.5" ry="9.0" fill="#2e42f2" filter="url(#b25)"/>
<ellipse cx="103.5" cy="20.0" rx="13.5" ry="4" fill="#2cbcef" filter="url(#b15)"/>
<ellipse cx="109.0" cy="18.5" rx="8" ry="3.2" fill="#3cec74" filter="url(#b15)"/>
<ellipse cx="114.0" cy="18.0" rx="4" ry="2.4" fill="#d8f030" filter="url(#soft)"/>
</g>
</g>
<g transform="translate(0,277.33) scale(1.0019,0.9976)">
<rect x="0" y="0" width="157" height="2" fill="#050505"/><rect x="0" y="50" width="40" height="6" fill="#0a0a0a"/>
<rect x="0" y="2" width="45" height="2.5" fill="#242424"/>
<rect x="0" y="49" width="28" height="2.5" fill="#202020"/>
<rect x="127" y="3" width="32" height="26" fill="#1d1d1d"/>
<rect x="0" y="25" width="13" height="5" fill="#9a9a9a" filter="url(#soft)"/>
<path d="M121,35.9 C137,35.9 150,34.9 158,33.2" fill="none" stroke="#a4a4a4" stroke-width="4.6"/>
<g transform="translate(0,-1.0)">
<path d="M8,24 C10,20 16,17 22,16 C26,12 28,6 32,4 C36,3 38,6 38,10 C42,8 46,9 46,13 C60,14 80,13 95,13 C108,13 119,13 123,17 C126,22 126,30 124,36 C121,44 111,52 95,55 C80,57 60,57 45,54 C35,52 28,49 24,45 C18,40 12,34 9,29 C7.5,27 7.5,25.5 8,24 Z" fill="url(#body)" filter="url(#soft)"/>
<clipPath id="mc12"><path d="M8,24 C10,20 16,17 22,16 C26,12 28,6 32,4 C36,3 38,6 38,10 C42,8 46,9 46,13 C60,14 80,13 95,13 C108,13 119,13 123,17 C126,22 126,30 124,36 C121,44 111,52 95,55 C80,57 60,57 45,54 C35,52 28,49 24,45 C18,40 12,34 9,29 C7.5,27 7.5,25.5 8,24 Z"/></clipPath><g clip-path="url(#mc12)">
<ellipse cx="24" cy="26" rx="15" ry="12" fill="#8a8a8a" opacity="0.5" filter="url(#b25)"/>
<ellipse cx="36" cy="9" rx="8" ry="5" fill="#777" opacity="0.45" filter="url(#b15)"/>
<ellipse cx="30" cy="46" rx="9" ry="6" fill="#808080" opacity="0.45" filter="url(#b25)"/>
<path d="M8,24 C10,20 16,17 22,16 C26,12 28,6 32,4 C36,3 38,6 38,10 C42,8 46,9 46,13 C60,14 80,13 95,13 C108,13 119,13 123,17 C126,22 126,30 124,36 C121,44 111,52 95,55 C80,57 60,57 45,54 C35,52 28,49 24,45 C18,40 12,34 9,29 C7.5,27 7.5,25.5 8,24 Z" fill="#000" filter="url(#fur)" opacity="0.14"/>
</g>
<rect x="34" y="41" width="8" height="3" fill="#f8f8f8" stroke="#444" stroke-width="0.7" transform="rotate(-20 38 42)"/>
<path d="M114.0,16.0 C114.0,8.0 115.0,4.0 117.0,1.0 L122.0,0.0 C121.0,6.0 123.0,11.0 124.5,17.0 Z" fill="#6a40ee" opacity="0.95"/>
<path d="M108.0,15.0 C108.0,10.0 109.0,7.0 111.0,5.0 L114.0,6.0 L114.0,15.0 Z" fill="#7038e6" opacity="0.81"/>
<path d="M83.0,23.0 C83.0,16.0 89.0,13.0 97.0,13.0 L122.0,13.0 L124.0,17.0 L124.0,30.0 C121.0,39.0 112.0,42.0 101.0,42.0 C89.0,40.0 83.0,32.0 83.0,23.0 Z" fill="#7a38e2"/>
<ellipse cx="104.5" cy="23.0" rx="17.5" ry="9.0" fill="#2e42f2" filter="url(#b25)"/>
<ellipse cx="107.5" cy="20.0" rx="13.5" ry="4" fill="#2cbcef" filter="url(#b15)"/>
<ellipse cx="113.0" cy="18.5" rx="8" ry="3.2" fill="#3cec74" filter="url(#b15)"/>
<ellipse cx="118.0" cy="18.0" rx="4" ry="2.4" fill="#d8f030" filter="url(#soft)"/>
<ellipse cx="118.0" cy="18.0" rx="3.8" ry="2.3" fill="#ff1800" filter="url(#soft)"/>
</g>
</g>
</svg>
<rect x="336.7" y="1414.3" width="157.6" height="334.2" fill="#0e0e0e"/>
<svg x="336.7" y="1414.3" width="157.6" height="334.2" viewBox="0 0 157.6 334.2" overflow="hidden">
<g transform="translate(0,0.00) scale(1.0038,1.0018)">
<rect x="0" y="0" width="157" height="2" fill="#050505"/><rect x="0" y="50" width="40" height="6" fill="#0a0a0a"/>
<rect x="0" y="2" width="45" height="2.5" fill="#242424"/>
<rect x="0" y="49" width="28" height="2.5" fill="#202020"/>
<rect x="129" y="3" width="30" height="26" fill="#1d1d1d"/>
<rect x="0" y="25" width="13" height="5" fill="#9a9a9a" filter="url(#soft)"/>
<path d="M123,35.3 C139,35.3 152,34.3 158,32.8" fill="none" stroke="#a4a4a4" stroke-width="4.6"/>
<g transform="translate(0,-1.0)">
<path d="M8,24 C10,20 16,17 22,16 C26,12 28,6 32,4 C36,3 38,6 38,10 C42,8 46,9 46,13 C60,14 80,13 95,13 C108,13 121,13 125,17 C128,22 128,30 126,36 C123,44 113,52 97,55 C80,57 60,57 45,54 C35,52 28,49 24,45 C18,40 12,34 9,29 C7.5,27 7.5,25.5 8,24 Z" fill="url(#body)" filter="url(#soft)"/>
<clipPath id="mc13"><path d="M8,24 C10,20 16,17 22,16 C26,12 28,6 32,4 C36,3 38,6 38,10 C42,8 46,9 46,13 C60,14 80,13 95,13 C108,13 121,13 125,17 C128,22 128,30 126,36 C123,44 113,52 97,55 C80,57 60,57 45,54 C35,52 28,49 24,45 C18,40 12,34 9,29 C7.5,27 7.5,25.5 8,24 Z"/></clipPath><g clip-path="url(#mc13)">
<ellipse cx="24" cy="26" rx="15" ry="12" fill="#8a8a8a" opacity="0.5" filter="url(#b25)"/>
<ellipse cx="36" cy="9" rx="8" ry="5" fill="#777" opacity="0.45" filter="url(#b15)"/>
<ellipse cx="30" cy="46" rx="9" ry="6" fill="#808080" opacity="0.45" filter="url(#b25)"/>
<path d="M8,24 C10,20 16,17 22,16 C26,12 28,6 32,4 C36,3 38,6 38,10 C42,8 46,9 46,13 C60,14 80,13 95,13 C108,13 121,13 125,17 C128,22 128,30 126,36 C123,44 113,52 97,55 C80,57 60,57 45,54 C35,52 28,49 24,45 C18,40 12,34 9,29 C7.5,27 7.5,25.5 8,24 Z" fill="#000" filter="url(#fur)" opacity="0.14"/>
</g>
<rect x="34" y="41" width="8" height="3" fill="#f8f8f8" stroke="#444" stroke-width="0.7" transform="rotate(-20 38 42)"/>
<path d="M116.0,16.0 C116.0,8.0 117.0,4.0 119.0,1.0 L124.0,0.0 C123.0,6.0 125.0,11.0 126.5,17.0 Z" fill="#6a40ee" opacity="0.95"/>
<path d="M110.0,15.0 C110.0,10.0 111.0,7.0 113.0,5.0 L116.0,6.0 L116.0,15.0 Z" fill="#7038e6" opacity="0.81"/>
<path d="M85.0,23.0 C85.0,16.0 91.0,13.0 99.0,13.0 L124.0,13.0 L126.0,17.0 L126.0,22.8 C123.0,31.8 114.0,34.8 103.0,34.8 C91.0,32.8 85.0,24.8 85.0,23.0 Z" fill="#7a38e2"/>
<ellipse cx="106.5" cy="20.5" rx="17.5" ry="6.8" fill="#2e42f2" filter="url(#b25)"/>
<ellipse cx="109.5" cy="20.0" rx="13.5" ry="4" fill="#2cbcef" filter="url(#b15)"/>
<ellipse cx="115.0" cy="18.5" rx="8" ry="3.2" fill="#3cec74" filter="url(#b15)"/>
<ellipse cx="120.0" cy="18.0" rx="4" ry="2.4" fill="#d8f030" filter="url(#soft)"/>
</g>
</g>
<g transform="translate(0,55.70) scale(1.0038,1.0018)">
<rect x="0" y="0" width="157" height="2" fill="#050505"/><rect x="0" y="50" width="40" height="6" fill="#0a0a0a"/>
<rect x="0" y="2" width="45" height="2.5" fill="#242424"/>
<rect x="0" y="49" width="28" height="2.5" fill="#202020"/>
<rect x="126" y="3" width="33" height="26" fill="#1d1d1d"/>
<rect x="0" y="25" width="13" height="5" fill="#9a9a9a" filter="url(#soft)"/>
<path d="M120,35.8 C136,35.8 149,34.8 158,33.4" fill="none" stroke="#a4a4a4" stroke-width="4.6"/>
<g transform="translate(0,0.0)">
<path d="M8,24 C10,20 16,17 22,16 C26,12 28,6 32,4 C36,3 38,6 38,10 C42,8 46,9 46,13 C60,14 80,13 95,13 C108,13 118,13 122,17 C125,22 125,30 123,36 C120,44 110,52 94,55 C80,57 60,57 45,54 C35,52 28,49 24,45 C18,40 12,34 9,29 C7.5,27 7.5,25.5 8,24 Z" fill="url(#body)" filter="url(#soft)"/>
<clipPath id="mc14"><path d="M8,24 C10,20 16,17 22,16 C26,12 28,6 32,4 C36,3 38,6 38,10 C42,8 46,9 46,13 C60,14 80,13 95,13 C108,13 118,13 122,17 C125,22 125,30 123,36 C120,44 110,52 94,55 C80,57 60,57 45,54 C35,52 28,49 24,45 C18,40 12,34 9,29 C7.5,27 7.5,25.5 8,24 Z"/></clipPath><g clip-path="url(#mc14)">
<ellipse cx="24" cy="26" rx="15" ry="12" fill="#8a8a8a" opacity="0.5" filter="url(#b25)"/>
<ellipse cx="36" cy="9" rx="8" ry="5" fill="#777" opacity="0.45" filter="url(#b15)"/>
<ellipse cx="30" cy="46" rx="9" ry="6" fill="#808080" opacity="0.45" filter="url(#b25)"/>
<path d="M8,24 C10,20 16,17 22,16 C26,12 28,6 32,4 C36,3 38,6 38,10 C42,8 46,9 46,13 C60,14 80,13 95,13 C108,13 118,13 122,17 C125,22 125,30 123,36 C120,44 110,52 94,55 C80,57 60,57 45,54 C35,52 28,49 24,45 C18,40 12,34 9,29 C7.5,27 7.5,25.5 8,24 Z" fill="#000" filter="url(#fur)" opacity="0.14"/>
</g>
<rect x="34" y="41" width="8" height="3" fill="#f8f8f8" stroke="#444" stroke-width="0.7" transform="rotate(-20 38 42)"/>
<path d="M113.0,16.0 C113.0,8.0 114.0,4.0 116.0,1.0 L121.0,0.0 C120.0,6.0 122.0,11.0 123.5,17.0 Z" fill="#6a40ee" opacity="0.95"/>
<path d="M107.0,15.0 C107.0,10.0 108.0,7.0 110.0,5.0 L113.0,6.0 L113.0,15.0 Z" fill="#7038e6" opacity="0.81"/>
<path d="M82.0,23.0 C82.0,16.0 88.0,13.0 96.0,13.0 L121.0,13.0 L123.0,17.0 L123.0,27.1 C120.0,36.1 111.0,39.1 100.0,39.1 C88.0,37.1 82.0,29.1 82.0,23.0 Z" fill="#7a38e2"/>
<ellipse cx="103.5" cy="22.0" rx="17.5" ry="8.1" fill="#2e42f2" filter="url(#b25)"/>
<ellipse cx="106.5" cy="20.0" rx="13.5" ry="4" fill="#2cbcef" filter="url(#b15)"/>
<ellipse cx="112.0" cy="18.5" rx="8" ry="3.2" fill="#3cec74" filter="url(#b15)"/>
<ellipse cx="117.0" cy="18.0" rx="4" ry="2.4" fill="#d8f030" filter="url(#soft)"/>
</g>
</g>
<g transform="translate(0,111.40) scale(1.0038,1.0018)">
<rect x="0" y="0" width="157" height="2" fill="#050505"/><rect x="0" y="50" width="40" height="6" fill="#0a0a0a"/>
<rect x="0" y="2" width="45" height="2.5" fill="#242424"/>
<rect x="0" y="49" width="28" height="2.5" fill="#202020"/>
<rect x="124" y="3" width="35" height="26" fill="#1d1d1d"/>
<rect x="0" y="25" width="13" height="5" fill="#9a9a9a" filter="url(#soft)"/>
<path d="M118,38.4 C134,38.4 147,37.4 158,30.5" fill="none" stroke="#a4a4a4" stroke-width="4.6"/>
<g transform="translate(0,0.0)">
<path d="M8,24 C10,20 16,17 22,16 C26,12 28,6 32,4 C36,3 38,6 38,10 C42,8 46,9 46,13 C60,14 80,13 95,13 C108,13 116,13 120,17 C123,22 123,30 121,36 C118,44 108,52 92,55 C80,57 60,57 45,54 C35,52 28,49 24,45 C18,40 12,34 9,29 C7.5,27 7.5,25.5 8,24 Z" fill="url(#body)" filter="url(#soft)"/>
<clipPath id="mc15"><path d="M8,24 C10,20 16,17 22,16 C26,12 28,6 32,4 C36,3 38,6 38,10 C42,8 46,9 46,13 C60,14 80,13 95,13 C108,13 116,13 120,17 C123,22 123,30 121,36 C118,44 108,52 92,55 C80,57 60,57 45,54 C35,52 28,49 24,45 C18,40 12,34 9,29 C7.5,27 7.5,25.5 8,24 Z"/></clipPath><g clip-path="url(#mc15)">
<ellipse cx="24" cy="26" rx="15" ry="12" fill="#8a8a8a" opacity="0.5" filter="url(#b25)"/>
<ellipse cx="36" cy="9" rx="8" ry="5" fill="#777" opacity="0.45" filter="url(#b15)"/>
<ellipse cx="30" cy="46" rx="9" ry="6" fill="#808080" opacity="0.45" filter="url(#b25)"/>
<path d="M8,24 C10,20 16,17 22,16 C26,12 28,6 32,4 C36,3 38,6 38,10 C42,8 46,9 46,13 C60,14 80,13 95,13 C108,13 116,13 120,17 C123,22 123,30 121,36 C118,44 108,52 92,55 C80,57 60,57 45,54 C35,52 28,49 24,45 C18,40 12,34 9,29 C7.5,27 7.5,25.5 8,24 Z" fill="#000" filter="url(#fur)" opacity="0.14"/>
</g>
<rect x="34" y="41" width="8" height="3" fill="#f8f8f8" stroke="#444" stroke-width="0.7" transform="rotate(-20 38 42)"/>
<path d="M111.0,16.0 C111.0,8.0 112.0,4.0 114.0,1.0 L119.0,0.0 C118.0,6.0 120.0,11.0 121.5,17.0 Z" fill="#6a40ee" opacity="0.95"/>
<path d="M105.0,15.0 C105.0,10.0 106.0,7.0 108.0,5.0 L111.0,6.0 L111.0,15.0 Z" fill="#7038e6" opacity="0.81"/>
<path d="M80.0,23.0 C80.0,16.0 86.0,13.0 94.0,13.0 L119.0,13.0 L121.0,17.0 L121.0,28.5 C118.0,37.5 109.0,40.5 98.0,40.5 C86.0,38.5 80.0,30.5 80.0,23.0 Z" fill="#7a38e2"/>
<ellipse cx="101.5" cy="22.5" rx="17.5" ry="8.5" fill="#2e42f2" filter="url(#b25)"/>
<ellipse cx="104.5" cy="20.0" rx="13.5" ry="4" fill="#2cbcef" filter="url(#b15)"/>
<ellipse cx="110.0" cy="18.5" rx="8" ry="3.2" fill="#3cec74" filter="url(#b15)"/>
<ellipse cx="115.0" cy="18.0" rx="4" ry="2.4" fill="#d8f030" filter="url(#soft)"/>
</g>
</g>
<g transform="translate(0,167.10) scale(1.0038,1.0018)">
<rect x="0" y="0" width="157" height="2" fill="#050505"/><rect x="0" y="50" width="40" height="6" fill="#0a0a0a"/>
<rect x="0" y="2" width="45" height="2.5" fill="#242424"/>
<rect x="0" y="49" width="28" height="2.5" fill="#202020"/>
<rect x="122" y="3" width="37" height="26" fill="#1d1d1d"/>
<rect x="0" y="25" width="13" height="5" fill="#9a9a9a" filter="url(#soft)"/>
<path d="M116,36.6 C132,36.6 145,35.6 158,32.4" fill="none" stroke="#a4a4a4" stroke-width="4.6"/>
<g transform="translate(0,0.0)">
<path d="M8,24 C10,20 16,17 22,16 C26,12 28,6 32,4 C36,3 38,6 38,10 C42,8 46,9 46,13 C60,14 80,13 95,13 C108,13 114,13 118,17 C121,22 121,30 119,36 C116,44 106,52 90,55 C80,57 60,57 45,54 C35,52 28,49 24,45 C18,40 12,34 9,29 C7.5,27 7.5,25.5 8,24 Z" fill="url(#body)" filter="url(#soft)"/>
<clipPath id="mc16"><path d="M8,24 C10,20 16,17 22,16 C26,12 28,6 32,4 C36,3 38,6 38,10 C42,8 46,9 46,13 C60,14 80,13 95,13 C108,13 114,13 118,17 C121,22 121,30 119,36 C116,44 106,52 90,55 C80,57 60,57 45,54 C35,52 28,49 24,45 C18,40 12,34 9,29 C7.5,27 7.5,25.5 8,24 Z"/></clipPath><g clip-path="url(#mc16)">
<ellipse cx="24" cy="26" rx="15" ry="12" fill="#8a8a8a" opacity="0.5" filter="url(#b25)"/>
<ellipse cx="36" cy="9" rx="8" ry="5" fill="#777" opacity="0.45" filter="url(#b15)"/>
<ellipse cx="30" cy="46" rx="9" ry="6" fill="#808080" opacity="0.45" filter="url(#b25)"/>
<path d="M8,24 C10,20 16,17 22,16 C26,12 28,6 32,4 C36,3 38,6 38,10 C42,8 46,9 46,13 C60,14 80,13 95,13 C108,13 114,13 118,17 C121,22 121,30 119,36 C116,44 106,52 90,55 C80,57 60,57 45,54 C35,52 28,49 24,45 C18,40 12,34 9,29 C7.5,27 7.5,25.5 8,24 Z" fill="#000" filter="url(#fur)" opacity="0.14"/>
</g>
<rect x="34" y="41" width="8" height="3" fill="#f8f8f8" stroke="#444" stroke-width="0.7" transform="rotate(-20 38 42)"/>
<path d="M109.0,16.0 C109.0,8.0 110.0,4.0 112.0,1.0 L117.0,0.0 C116.0,6.0 118.0,11.0 119.5,17.0 Z" fill="#6a40ee" opacity="0.95"/>
<path d="M103.0,15.0 C103.0,10.0 104.0,7.0 106.0,5.0 L109.0,6.0 L109.0,15.0 Z" fill="#7038e6" opacity="0.81"/>
<path d="M78.0,23.0 C78.0,16.0 84.0,13.0 92.0,13.0 L117.0,13.0 L119.0,17.0 L119.0,27.1 C116.0,36.1 107.0,39.1 96.0,39.1 C84.0,37.1 78.0,29.1 78.0,23.0 Z" fill="#7a38e2"/>
<ellipse cx="99.5" cy="22.0" rx="17.5" ry="8.1" fill="#2e42f2" filter="url(#b25)"/>
<ellipse cx="102.5" cy="20.0" rx="13.5" ry="4" fill="#2cbcef" filter="url(#b15)"/>
<ellipse cx="108.0" cy="18.5" rx="8" ry="3.2" fill="#3cec74" filter="url(#b15)"/>
<ellipse cx="113.0" cy="18.0" rx="4" ry="2.4" fill="#d8f030" filter="url(#soft)"/>
</g>
</g>
<g transform="translate(0,222.80) scale(1.0038,1.0018)">
<rect x="0" y="0" width="157" height="2" fill="#050505"/><rect x="0" y="50" width="40" height="6" fill="#0a0a0a"/>
<rect x="0" y="2" width="45" height="2.5" fill="#242424"/>
<rect x="0" y="49" width="28" height="2.5" fill="#202020"/>
<rect x="118" y="3" width="41" height="26" fill="#1d1d1d"/>
<rect x="0" y="25" width="13" height="5" fill="#9a9a9a" filter="url(#soft)"/>
<path d="M112,37.1 C128,37.1 141,36.1 158,35.5" fill="none" stroke="#a4a4a4" stroke-width="4.6"/>
<g transform="translate(0,0.0)">
<path d="M8,24 C10,20 16,17 22,16 C26,12 28,6 32,4 C36,3 38,6 38,10 C42,8 46,9 46,13 C60,14 80,13 95,13 C108,13 110,13 114,17 C117,22 117,30 115,36 C112,44 102,52 86,55 C80,57 60,57 45,54 C35,52 28,49 24,45 C18,40 12,34 9,29 C7.5,27 7.5,25.5 8,24 Z" fill="url(#body)" filter="url(#soft)"/>
<clipPath id="mc17"><path d="M8,24 C10,20 16,17 22,16 C26,12 28,6 32,4 C36,3 38,6 38,10 C42,8 46,9 46,13 C60,14 80,13 95,13 C108,13 110,13 114,17 C117,22 117,30 115,36 C112,44 102,52 86,55 C80,57 60,57 45,54 C35,52 28,49 24,45 C18,40 12,34 9,29 C7.5,27 7.5,25.5 8,24 Z"/></clipPath><g clip-path="url(#mc17)">
<ellipse cx="24" cy="26" rx="15" ry="12" fill="#8a8a8a" opacity="0.5" filter="url(#b25)"/>
<ellipse cx="36" cy="9" rx="8" ry="5" fill="#777" opacity="0.45" filter="url(#b15)"/>
<ellipse cx="30" cy="46" rx="9" ry="6" fill="#808080" opacity="0.45" filter="url(#b25)"/>
<path d="M8,24 C10,20 16,17 22,16 C26,12 28,6 32,4 C36,3 38,6 38,10 C42,8 46,9 46,13 C60,14 80,13 95,13 C108,13 110,13 114,17 C117,22 117,30 115,36 C112,44 102,52 86,55 C80,57 60,57 45,54 C35,52 28,49 24,45 C18,40 12,34 9,29 C7.5,27 7.5,25.5 8,24 Z" fill="#000" filter="url(#fur)" opacity="0.14"/>
</g>
<rect x="34" y="41" width="8" height="3" fill="#f8f8f8" stroke="#444" stroke-width="0.7" transform="rotate(-20 38 42)"/>
<path d="M105.0,16.0 C105.0,8.0 106.0,4.0 108.0,1.0 L113.0,0.0 C112.0,6.0 114.0,11.0 115.5,17.0 Z" fill="#6a40ee" opacity="0.95"/>
<path d="M99.0,15.0 C99.0,10.0 100.0,7.0 102.0,5.0 L105.0,6.0 L105.0,15.0 Z" fill="#7038e6" opacity="0.81"/>
<path d="M74.0,23.0 C74.0,16.0 80.0,13.0 88.0,13.0 L113.0,13.0 L115.0,17.0 L115.0,25.6 C112.0,34.6 103.0,37.6 92.0,37.6 C80.0,35.6 74.0,27.6 74.0,23.0 Z" fill="#7a38e2"/>
<ellipse cx="95.5" cy="21.5" rx="17.5" ry="7.6" fill="#2e42f2" filter="url(#b25)"/>
<ellipse cx="98.5" cy="20.0" rx="13.5" ry="4" fill="#2cbcef" filter="url(#b15)"/>
<ellipse cx="104.0" cy="18.5" rx="8" ry="3.2" fill="#3cec74" filter="url(#b15)"/>
<ellipse cx="109.0" cy="18.0" rx="4" ry="2.4" fill="#d8f030" filter="url(#soft)"/>
<ellipse cx="109.0" cy="18.0" rx="3.8" ry="2.3" fill="#ff1800" filter="url(#soft)"/>
</g>
</g>
<g transform="translate(0,278.50) scale(1.0038,1.0018)">
<rect x="0" y="0" width="157" height="2" fill="#050505"/><rect x="0" y="50" width="40" height="6" fill="#0a0a0a"/>
<rect x="0" y="2" width="45" height="2.5" fill="#242424"/>
<rect x="0" y="49" width="28" height="2.5" fill="#202020"/>
<rect x="120" y="3" width="39" height="26" fill="#1d1d1d"/>
<rect x="0" y="25" width="13" height="5" fill="#9a9a9a" filter="url(#soft)"/>
<path d="M114,36.0 C130,36.0 143,35.0 158,33.3" fill="none" stroke="#a4a4a4" stroke-width="4.6"/>
<g transform="translate(0,0.0)">
<path d="M8,24 C10,20 16,17 22,16 C26,12 28,6 32,4 C36,3 38,6 38,10 C42,8 46,9 46,13 C60,14 80,13 95,13 C108,13 112,13 116,17 C119,22 119,30 117,36 C114,44 104,52 88,55 C80,57 60,57 45,54 C35,52 28,49 24,45 C18,40 12,34 9,29 C7.5,27 7.5,25.5 8,24 Z" fill="url(#body)" filter="url(#soft)"/>
<clipPath id="mc18"><path d="M8,24 C10,20 16,17 22,16 C26,12 28,6 32,4 C36,3 38,6 38,10 C42,8 46,9 46,13 C60,14 80,13 95,13 C108,13 112,13 116,17 C119,22 119,30 117,36 C114,44 104,52 88,55 C80,57 60,57 45,54 C35,52 28,49 24,45 C18,40 12,34 9,29 C7.5,27 7.5,25.5 8,24 Z"/></clipPath><g clip-path="url(#mc18)">
<ellipse cx="24" cy="26" rx="15" ry="12" fill="#8a8a8a" opacity="0.5" filter="url(#b25)"/>
<ellipse cx="36" cy="9" rx="8" ry="5" fill="#777" opacity="0.45" filter="url(#b15)"/>
<ellipse cx="30" cy="46" rx="9" ry="6" fill="#808080" opacity="0.45" filter="url(#b25)"/>
<path d="M8,24 C10,20 16,17 22,16 C26,12 28,6 32,4 C36,3 38,6 38,10 C42,8 46,9 46,13 C60,14 80,13 95,13 C108,13 112,13 116,17 C119,22 119,30 117,36 C114,44 104,52 88,55 C80,57 60,57 45,54 C35,52 28,49 24,45 C18,40 12,34 9,29 C7.5,27 7.5,25.5 8,24 Z" fill="#000" filter="url(#fur)" opacity="0.14"/>
</g>
<rect x="34" y="41" width="8" height="3" fill="#f8f8f8" stroke="#444" stroke-width="0.7" transform="rotate(-20 38 42)"/>
<path d="M107.0,16.0 C107.0,8.0 108.0,4.0 110.0,1.0 L115.0,0.0 C114.0,6.0 116.0,11.0 117.5,17.0 Z" fill="#6a40ee" opacity="0.6"/>
<path d="M101.0,15.0 C101.0,10.0 102.0,7.0 104.0,5.0 L107.0,6.0 L107.0,15.0 Z" fill="#7038e6" opacity="0.51"/>
<path d="M86,19 C86,15 92,13 101,13 L115,13 L117,17 L117,22 C112,26 104,26 96,26 C90,26 86,23 86,19 Z" fill="#7a38e2"/>
</g>
</g>
</svg>
<rect x="504.1" y="1413.9" width="157.3" height="334.6" fill="#0e0e0e"/>
<svg x="504.1" y="1413.9" width="157.3" height="334.6" viewBox="0 0 157.3 334.6" overflow="hidden">
<g transform="translate(0,0.00) scale(1.0019,1.0030)">
<rect x="0" y="0" width="157" height="2" fill="#050505"/><rect x="0" y="50" width="40" height="6" fill="#0a0a0a"/>
<rect x="0" y="2" width="45" height="2.5" fill="#242424"/>
<rect x="0" y="49" width="28" height="2.5" fill="#202020"/>
<rect x="118" y="3" width="41" height="26" fill="#1d1d1d"/>
<rect x="0" y="25" width="13" height="5" fill="#9a9a9a" filter="url(#soft)"/>
<path d="M112,37.5 C128,37.5 141,36.5 158,35.8" fill="none" stroke="#a4a4a4" stroke-width="4.6"/>
<g transform="translate(0,0.0)">
<path d="M8,24 C10,20 16,17 22,16 C26,12 28,6 32,4 C36,3 38,6 38,10 C42,8 46,9 46,13 C60,14 80,13 95,13 C108,13 110,13 114,17 C117,22 117,30 115,36 C112,44 102,52 86,55 C80,57 60,57 45,54 C35,52 28,49 24,45 C18,40 12,34 9,29 C7.5,27 7.5,25.5 8,24 Z" fill="url(#body)" filter="url(#soft)"/>
<clipPath id="mc19"><path d="M8,24 C10,20 16,17 22,16 C26,12 28,6 32,4 C36,3 38,6 38,10 C42,8 46,9 46,13 C60,14 80,13 95,13 C108,13 110,13 114,17 C117,22 117,30 115,36 C112,44 102,52 86,55 C80,57 60,57 45,54 C35,52 28,49 24,45 C18,40 12,34 9,29 C7.5,27 7.5,25.5 8,24 Z"/></clipPath><g clip-path="url(#mc19)">
<ellipse cx="24" cy="26" rx="15" ry="12" fill="#8a8a8a" opacity="0.5" filter="url(#b25)"/>
<ellipse cx="36" cy="9" rx="8" ry="5" fill="#777" opacity="0.45" filter="url(#b15)"/>
<ellipse cx="30" cy="46" rx="9" ry="6" fill="#808080" opacity="0.45" filter="url(#b25)"/>
<path d="M8,24 C10,20 16,17 22,16 C26,12 28,6 32,4 C36,3 38,6 38,10 C42,8 46,9 46,13 C60,14 80,13 95,13 C108,13 110,13 114,17 C117,22 117,30 115,36 C112,44 102,52 86,55 C80,57 60,57 45,54 C35,52 28,49 24,45 C18,40 12,34 9,29 C7.5,27 7.5,25.5 8,24 Z" fill="#000" filter="url(#fur)" opacity="0.14"/>
</g>
<rect x="34" y="41" width="8" height="3" fill="#f8f8f8" stroke="#444" stroke-width="0.7" transform="rotate(-20 38 42)"/>
<path d="M105.0,16.0 C105.0,8.0 106.0,4.0 108.0,1.0 L113.0,0.0 C112.0,6.0 114.0,11.0 115.5,17.0 Z" fill="#6a40ee" opacity="0.95"/>
<path d="M99.0,15.0 C99.0,10.0 100.0,7.0 102.0,5.0 L105.0,6.0 L105.0,15.0 Z" fill="#7038e6" opacity="0.81"/>
<path d="M74.0,23.0 C74.0,16.0 80.0,13.0 88.0,13.0 L113.0,13.0 L115.0,17.0 L115.0,30.0 C112.0,39.0 103.0,42.0 92.0,42.0 C80.0,40.0 74.0,32.0 74.0,23.0 Z" fill="#7a38e2"/>
<ellipse cx="95.5" cy="23.0" rx="17.5" ry="9.0" fill="#2e42f2" filter="url(#b25)"/>
<ellipse cx="98.5" cy="20.0" rx="13.5" ry="4" fill="#2cbcef" filter="url(#b15)"/>
<ellipse cx="104.0" cy="18.5" rx="8" ry="3.2" fill="#3cec74" filter="url(#b15)"/>
<ellipse cx="109.0" cy="18.0" rx="4" ry="2.4" fill="#d8f030" filter="url(#soft)"/>
<ellipse cx="109.0" cy="18.0" rx="3.8" ry="2.3" fill="#ff1800" filter="url(#soft)"/>
</g>
</g>
<g transform="translate(0,55.77) scale(1.0019,1.0030)">
<rect x="0" y="0" width="157" height="2" fill="#050505"/><rect x="0" y="50" width="40" height="6" fill="#0a0a0a"/>
<rect x="0" y="2" width="45" height="2.5" fill="#242424"/>
<rect x="0" y="49" width="28" height="2.5" fill="#202020"/>
<rect x="124" y="3" width="35" height="26" fill="#1d1d1d"/>
<rect x="0" y="25" width="13" height="5" fill="#9a9a9a" filter="url(#soft)"/>
<path d="M118,38.2 C134,38.2 147,37.2 158,35.7" fill="none" stroke="#a4a4a4" stroke-width="4.6"/>
<g transform="translate(0,0.0)">
<path d="M8,24 C10,20 16,17 22,16 C26,12 28,6 32,4 C36,3 38,6 38,10 C42,8 46,9 46,13 C60,14 80,13 95,13 C108,13 116,13 120,17 C123,22 123,30 121,36 C118,44 108,52 92,55 C80,57 60,57 45,54 C35,52 28,49 24,45 C18,40 12,34 9,29 C7.5,27 7.5,25.5 8,24 Z" fill="url(#body)" filter="url(#soft)"/>
<clipPath id="mc20"><path d="M8,24 C10,20 16,17 22,16 C26,12 28,6 32,4 C36,3 38,6 38,10 C42,8 46,9 46,13 C60,14 80,13 95,13 C108,13 116,13 120,17 C123,22 123,30 121,36 C118,44 108,52 92,55 C80,57 60,57 45,54 C35,52 28,49 24,45 C18,40 12,34 9,29 C7.5,27 7.5,25.5 8,24 Z"/></clipPath><g clip-path="url(#mc20)">
<ellipse cx="24" cy="26" rx="15" ry="12" fill="#8a8a8a" opacity="0.5" filter="url(#b25)"/>
<ellipse cx="36" cy="9" rx="8" ry="5" fill="#777" opacity="0.45" filter="url(#b15)"/>
<ellipse cx="30" cy="46" rx="9" ry="6" fill="#808080" opacity="0.45" filter="url(#b25)"/>
<path d="M8,24 C10,20 16,17 22,16 C26,12 28,6 32,4 C36,3 38,6 38,10 C42,8 46,9 46,13 C60,14 80,13 95,13 C108,13 116,13 120,17 C123,22 123,30 121,36 C118,44 108,52 92,55 C80,57 60,57 45,54 C35,52 28,49 24,45 C18,40 12,34 9,29 C7.5,27 7.5,25.5 8,24 Z" fill="#000" filter="url(#fur)" opacity="0.14"/>
</g>
<rect x="34" y="41" width="8" height="3" fill="#f8f8f8" stroke="#444" stroke-width="0.7" transform="rotate(-20 38 42)"/>
<path d="M111.0,16.0 C111.0,8.0 112.0,4.0 114.0,1.0 L119.0,0.0 C118.0,6.0 120.0,11.0 121.5,17.0 Z" fill="#6a40ee" opacity="0.95"/>
<path d="M105.0,15.0 C105.0,10.0 106.0,7.0 108.0,5.0 L111.0,6.0 L111.0,15.0 Z" fill="#7038e6" opacity="0.81"/>
<path d="M80.0,23.0 C80.0,16.0 86.0,13.0 94.0,13.0 L119.0,13.0 L121.0,17.0 L121.0,27.1 C118.0,36.1 109.0,39.1 98.0,39.1 C86.0,37.1 80.0,29.1 80.0,23.0 Z" fill="#7a38e2"/>
<ellipse cx="101.5" cy="22.0" rx="17.5" ry="8.1" fill="#2e42f2" filter="url(#b25)"/>
<ellipse cx="104.5" cy="20.0" rx="13.5" ry="4" fill="#2cbcef" filter="url(#b15)"/>
<ellipse cx="110.0" cy="18.5" rx="8" ry="3.2" fill="#3cec74" filter="url(#b15)"/>
<ellipse cx="115.0" cy="18.0" rx="4" ry="2.4" fill="#d8f030" filter="url(#soft)"/>
</g>
</g>
<g transform="translate(0,111.53) scale(1.0019,1.0030)">
<rect x="0" y="0" width="157" height="2" fill="#050505"/><rect x="0" y="50" width="40" height="6" fill="#0a0a0a"/>
<rect x="0" y="2" width="45" height="2.5" fill="#242424"/>
<rect x="0" y="49" width="28" height="2.5" fill="#202020"/>
<rect x="122" y="3" width="37" height="26" fill="#1d1d1d"/>
<rect x="0" y="25" width="13" height="5" fill="#9a9a9a" filter="url(#soft)"/>
<path d="M116,36.0 C132,36.0 145,35.0 158,33.5" fill="none" stroke="#a4a4a4" stroke-width="4.6"/>
<g transform="translate(0,0.0)">
<path d="M8,24 C10,20 16,17 22,16 C26,12 28,6 32,4 C36,3 38,6 38,10 C42,8 46,9 46,13 C60,14 80,13 95,13 C108,13 114,13 118,17 C121,22 121,30 119,36 C116,44 106,52 90,55 C80,57 60,57 45,54 C35,52 28,49 24,45 C18,40 12,34 9,29 C7.5,27 7.5,25.5 8,24 Z" fill="url(#body)" filter="url(#soft)"/>
<clipPath id="mc21"><path d="M8,24 C10,20 16,17 22,16 C26,12 28,6 32,4 C36,3 38,6 38,10 C42,8 46,9 46,13 C60,14 80,13 95,13 C108,13 114,13 118,17 C121,22 121,30 119,36 C116,44 106,52 90,55 C80,57 60,57 45,54 C35,52 28,49 24,45 C18,40 12,34 9,29 C7.5,27 7.5,25.5 8,24 Z"/></clipPath><g clip-path="url(#mc21)">
<ellipse cx="24" cy="26" rx="15" ry="12" fill="#8a8a8a" opacity="0.5" filter="url(#b25)"/>
<ellipse cx="36" cy="9" rx="8" ry="5" fill="#777" opacity="0.45" filter="url(#b15)"/>
<ellipse cx="30" cy="46" rx="9" ry="6" fill="#808080" opacity="0.45" filter="url(#b25)"/>
<path d="M8,24 C10,20 16,17 22,16 C26,12 28,6 32,4 C36,3 38,6 38,10 C42,8 46,9 46,13 C60,14 80,13 95,13 C108,13 114,13 118,17 C121,22 121,30 119,36 C116,44 106,52 90,55 C80,57 60,57 45,54 C35,52 28,49 24,45 C18,40 12,34 9,29 C7.5,27 7.5,25.5 8,24 Z" fill="#000" filter="url(#fur)" opacity="0.14"/>
</g>
<rect x="34" y="41" width="8" height="3" fill="#f8f8f8" stroke="#444" stroke-width="0.7" transform="rotate(-20 38 42)"/>
<path d="M109.0,16.0 C109.0,8.0 110.0,4.0 112.0,1.0 L117.0,0.0 C116.0,6.0 118.0,11.0 119.5,17.0 Z" fill="#6a40ee" opacity="0.95"/>
<path d="M103.0,15.0 C103.0,10.0 104.0,7.0 106.0,5.0 L109.0,6.0 L109.0,15.0 Z" fill="#7038e6" opacity="0.81"/>
<path d="M78.0,23.0 C78.0,16.0 84.0,13.0 92.0,13.0 L117.0,13.0 L119.0,17.0 L119.0,30.0 C116.0,39.0 107.0,42.0 96.0,42.0 C84.0,40.0 78.0,32.0 78.0,23.0 Z" fill="#7a38e2"/>
<ellipse cx="99.5" cy="23.0" rx="17.5" ry="9.0" fill="#2e42f2" filter="url(#b25)"/>
<ellipse cx="102.5" cy="20.0" rx="13.5" ry="4" fill="#2cbcef" filter="url(#b15)"/>
<ellipse cx="108.0" cy="18.5" rx="8" ry="3.2" fill="#3cec74" filter="url(#b15)"/>
<ellipse cx="113.0" cy="18.0" rx="4" ry="2.4" fill="#d8f030" filter="url(#soft)"/>
<ellipse cx="113.0" cy="18.0" rx="3.8" ry="2.3" fill="#ff1800" filter="url(#soft)"/>
</g>
</g>
<g transform="translate(0,167.30) scale(1.0019,1.0030)">
<rect x="0" y="0" width="157" height="2" fill="#050505"/><rect x="0" y="50" width="40" height="6" fill="#0a0a0a"/>
<rect x="0" y="2" width="45" height="2.5" fill="#242424"/>
<rect x="0" y="49" width="28" height="2.5" fill="#202020"/>
<rect x="122" y="3" width="37" height="26" fill="#1d1d1d"/>
<rect x="0" y="25" width="13" height="5" fill="#9a9a9a" filter="url(#soft)"/>
<path d="M116,38.4 C132,38.4 145,37.4 158,31.5" fill="none" stroke="#a4a4a4" stroke-width="4.6"/>
<g transform="translate(0,0.0)">
<path d="M8,24 C10,20 16,17 22,16 C26,12 28,6 32,4 C36,3 38,6 38,10 C42,8 46,9 46,13 C60,14 80,13 95,13 C108,13 114,13 118,17 C121,22 121,30 119,36 C116,44 106,52 90,55 C80,57 60,57 45,54 C35,52 28,49 24,45 C18,40 12,34 9,29 C7.5,27 7.5,25.5 8,24 Z" fill="url(#body)" filter="url(#soft)"/>
<clipPath id="mc22"><path d="M8,24 C10,20 16,17 22,16 C26,12 28,6 32,4 C36,3 38,6 38,10 C42,8 46,9 46,13 C60,14 80,13 95,13 C108,13 114,13 118,17 C121,22 121,30 119,36 C116,44 106,52 90,55 C80,57 60,57 45,54 C35,52 28,49 24,45 C18,40 12,34 9,29 C7.5,27 7.5,25.5 8,24 Z"/></clipPath><g clip-path="url(#mc22)">
<ellipse cx="24" cy="26" rx="15" ry="12" fill="#8a8a8a" opacity="0.5" filter="url(#b25)"/>
<ellipse cx="36" cy="9" rx="8" ry="5" fill="#777" opacity="0.45" filter="url(#b15)"/>
<ellipse cx="30" cy="46" rx="9" ry="6" fill="#808080" opacity="0.45" filter="url(#b25)"/>
<path d="M8,24 C10,20 16,17 22,16 C26,12 28,6 32,4 C36,3 38,6 38,10 C42,8 46,9 46,13 C60,14 80,13 95,13 C108,13 114,13 118,17 C121,22 121,30 119,36 C116,44 106,52 90,55 C80,57 60,57 45,54 C35,52 28,49 24,45 C18,40 12,34 9,29 C7.5,27 7.5,25.5 8,24 Z" fill="#000" filter="url(#fur)" opacity="0.14"/>
</g>
<rect x="34" y="41" width="8" height="3" fill="#f8f8f8" stroke="#444" stroke-width="0.7" transform="rotate(-20 38 42)"/>
<path d="M109.0,16.0 C109.0,8.0 110.0,4.0 112.0,1.0 L117.0,0.0 C116.0,6.0 118.0,11.0 119.5,17.0 Z" fill="#6a40ee" opacity="0.95"/>
<path d="M103.0,15.0 C103.0,10.0 104.0,7.0 106.0,5.0 L109.0,6.0 L109.0,15.0 Z" fill="#7038e6" opacity="0.81"/>
<path d="M78.0,23.0 C78.0,16.0 84.0,13.0 92.0,13.0 L117.0,13.0 L119.0,17.0 L119.0,30.0 C116.0,39.0 107.0,42.0 96.0,42.0 C84.0,40.0 78.0,32.0 78.0,23.0 Z" fill="#7a38e2"/>
<ellipse cx="99.5" cy="23.0" rx="17.5" ry="9.0" fill="#2e42f2" filter="url(#b25)"/>
<ellipse cx="102.5" cy="20.0" rx="13.5" ry="4" fill="#2cbcef" filter="url(#b15)"/>
<ellipse cx="108.0" cy="18.5" rx="8" ry="3.2" fill="#3cec74" filter="url(#b15)"/>
<ellipse cx="113.0" cy="18.0" rx="4" ry="2.4" fill="#d8f030" filter="url(#soft)"/>
<ellipse cx="113.0" cy="18.0" rx="3.8" ry="2.3" fill="#ff1800" filter="url(#soft)"/>
</g>
</g>
<g transform="translate(0,223.07) scale(1.0019,1.0030)">
<rect x="0" y="0" width="157" height="2" fill="#050505"/><rect x="0" y="50" width="40" height="6" fill="#0a0a0a"/>
<rect x="0" y="2" width="45" height="2.5" fill="#242424"/>
<rect x="0" y="49" width="28" height="2.5" fill="#202020"/>
<rect x="117" y="3" width="42" height="26" fill="#1d1d1d"/>
<rect x="0" y="25" width="13" height="5" fill="#9a9a9a" filter="url(#soft)"/>
<path d="M111,38.3 C127,38.3 140,37.3 158,37.9" fill="none" stroke="#a4a4a4" stroke-width="4.6"/>
<g transform="translate(0,0.0)">
<path d="M8,24 C10,20 16,17 22,16 C26,12 28,6 32,4 C36,3 38,6 38,10 C42,8 46,9 46,13 C60,14 80,13 95,13 C108,13 109,13 113,17 C116,22 116,30 114,36 C111,44 101,52 85,55 C80,57 60,57 45,54 C35,52 28,49 24,45 C18,40 12,34 9,29 C7.5,27 7.5,25.5 8,24 Z" fill="url(#body)" filter="url(#soft)"/>
<clipPath id="mc23"><path d="M8,24 C10,20 16,17 22,16 C26,12 28,6 32,4 C36,3 38,6 38,10 C42,8 46,9 46,13 C60,14 80,13 95,13 C108,13 109,13 113,17 C116,22 116,30 114,36 C111,44 101,52 85,55 C80,57 60,57 45,54 C35,52 28,49 24,45 C18,40 12,34 9,29 C7.5,27 7.5,25.5 8,24 Z"/></clipPath><g clip-path="url(#mc23)">
<ellipse cx="24" cy="26" rx="15" ry="12" fill="#8a8a8a" opacity="0.5" filter="url(#b25)"/>
<ellipse cx="36" cy="9" rx="8" ry="5" fill="#777" opacity="0.45" filter="url(#b15)"/>
<ellipse cx="30" cy="46" rx="9" ry="6" fill="#808080" opacity="0.45" filter="url(#b25)"/>
<path d="M8,24 C10,20 16,17 22,16 C26,12 28,6 32,4 C36,3 38,6 38,10 C42,8 46,9 46,13 C60,14 80,13 95,13 C108,13 109,13 113,17 C116,22 116,30 114,36 C111,44 101,52 85,55 C80,57 60,57 45,54 C35,52 28,49 24,45 C18,40 12,34 9,29 C7.5,27 7.5,25.5 8,24 Z" fill="#000" filter="url(#fur)" opacity="0.14"/>
</g>
<rect x="34" y="41" width="8" height="3" fill="#f8f8f8" stroke="#444" stroke-width="0.7" transform="rotate(-20 38 42)"/>
<path d="M104.0,16.0 C104.0,8.0 105.0,4.0 107.0,1.0 L112.0,0.0 C111.0,6.0 113.0,11.0 114.5,17.0 Z" fill="#6a40ee" opacity="0.95"/>
<path d="M98.0,15.0 C98.0,10.0 99.0,7.0 101.0,5.0 L104.0,6.0 L104.0,15.0 Z" fill="#7038e6" opacity="0.81"/>
<path d="M73.0,23.0 C73.0,16.0 79.0,13.0 87.0,13.0 L112.0,13.0 L114.0,17.0 L114.0,30.0 C111.0,39.0 102.0,42.0 91.0,42.0 C79.0,40.0 73.0,32.0 73.0,23.0 Z" fill="#7a38e2"/>
<ellipse cx="94.5" cy="23.0" rx="17.5" ry="9.0" fill="#2e42f2" filter="url(#b25)"/>
<ellipse cx="97.5" cy="20.0" rx="13.5" ry="4" fill="#2cbcef" filter="url(#b15)"/>
<ellipse cx="103.0" cy="18.5" rx="8" ry="3.2" fill="#3cec74" filter="url(#b15)"/>
<ellipse cx="108.0" cy="18.0" rx="4" ry="2.4" fill="#d8f030" filter="url(#soft)"/>
</g>
</g>
<g transform="translate(0,278.83) scale(1.0019,1.0030)">
<rect x="0" y="0" width="157" height="2" fill="#050505"/><rect x="0" y="50" width="40" height="6" fill="#0a0a0a"/>
<rect x="0" y="2" width="45" height="2.5" fill="#242424"/>
<rect x="0" y="49" width="28" height="2.5" fill="#202020"/>
<rect x="122" y="3" width="37" height="26" fill="#1d1d1d"/>
<rect x="0" y="25" width="13" height="5" fill="#9a9a9a" filter="url(#soft)"/>
<path d="M116,38.6 C132,38.6 145,37.6 158,37.4" fill="none" stroke="#a4a4a4" stroke-width="4.6"/>
<g transform="translate(0,1.0)">
<path d="M8,24 C10,20 16,17 22,16 C26,12 28,6 32,4 C36,3 38,6 38,10 C42,8 46,9 46,13 C60,14 80,13 95,13 C108,13 114,13 118,17 C121,22 121,30 119,36 C116,44 106,52 90,55 C80,57 60,57 45,54 C35,52 28,49 24,45 C18,40 12,34 9,29 C7.5,27 7.5,25.5 8,24 Z" fill="url(#body)" filter="url(#soft)"/>
<clipPath id="mc24"><path d="M8,24 C10,20 16,17 22,16 C26,12 28,6 32,4 C36,3 38,6 38,10 C42,8 46,9 46,13 C60,14 80,13 95,13 C108,13 114,13 118,17 C121,22 121,30 119,36 C116,44 106,52 90,55 C80,57 60,57 45,54 C35,52 28,49 24,45 C18,40 12,34 9,29 C7.5,27 7.5,25.5 8,24 Z"/></clipPath><g clip-path="url(#mc24)">
<ellipse cx="24" cy="26" rx="15" ry="12" fill="#8a8a8a" opacity="0.5" filter="url(#b25)"/>
<ellipse cx="36" cy="9" rx="8" ry="5" fill="#777" opacity="0.45" filter="url(#b15)"/>
<ellipse cx="30" cy="46" rx="9" ry="6" fill="#808080" opacity="0.45" filter="url(#b25)"/>
<path d="M8,24 C10,20 16,17 22,16 C26,12 28,6 32,4 C36,3 38,6 38,10 C42,8 46,9 46,13 C60,14 80,13 95,13 C108,13 114,13 118,17 C121,22 121,30 119,36 C116,44 106,52 90,55 C80,57 60,57 45,54 C35,52 28,49 24,45 C18,40 12,34 9,29 C7.5,27 7.5,25.5 8,24 Z" fill="#000" filter="url(#fur)" opacity="0.14"/>
</g>
<rect x="34" y="41" width="8" height="3" fill="#f8f8f8" stroke="#444" stroke-width="0.7" transform="rotate(-20 38 42)"/>
<path d="M109.0,16.0 C109.0,8.0 110.0,4.0 112.0,1.0 L117.0,0.0 C116.0,6.0 118.0,11.0 119.5,17.0 Z" fill="#6a40ee" opacity="0.95"/>
<path d="M103.0,15.0 C103.0,10.0 104.0,7.0 106.0,5.0 L109.0,6.0 L109.0,15.0 Z" fill="#7038e6" opacity="0.81"/>
<path d="M78.0,23.0 C78.0,16.0 84.0,13.0 92.0,13.0 L117.0,13.0 L119.0,17.0 L119.0,30.0 C116.0,39.0 107.0,42.0 96.0,42.0 C84.0,40.0 78.0,32.0 78.0,23.0 Z" fill="#7a38e2"/>
<ellipse cx="99.5" cy="23.0" rx="17.5" ry="9.0" fill="#2e42f2" filter="url(#b25)"/>
<ellipse cx="102.5" cy="20.0" rx="13.5" ry="4" fill="#2cbcef" filter="url(#b15)"/>
<ellipse cx="108.0" cy="18.5" rx="8" ry="3.2" fill="#3cec74" filter="url(#b15)"/>
<ellipse cx="113.0" cy="18.0" rx="4" ry="2.4" fill="#d8f030" filter="url(#soft)"/>
<ellipse cx="113.0" cy="18.0" rx="3.8" ry="2.3" fill="#ff1800" filter="url(#soft)"/>
</g>
</g>
</svg>
<rect x="670.2" y="1413.9" width="156.6" height="334.6" fill="#0e0e0e"/>
<svg x="670.2" y="1413.9" width="156.6" height="334.6" viewBox="0 0 156.6 334.6" overflow="hidden">
<g transform="translate(0,0.00) scale(0.9975,1.0030)">
<rect x="0" y="0" width="157" height="2" fill="#050505"/><rect x="0" y="50" width="40" height="6" fill="#0a0a0a"/>
<rect x="0" y="2" width="45" height="2.5" fill="#242424"/>
<rect x="0" y="49" width="28" height="2.5" fill="#202020"/>
<rect x="120" y="3" width="39" height="26" fill="#1d1d1d"/>
<rect x="0" y="25" width="13" height="5" fill="#9a9a9a" filter="url(#soft)"/>
<path d="M114,36.6 C130,36.6 143,35.6 158,36.0" fill="none" stroke="#a4a4a4" stroke-width="4.6"/>
<g transform="translate(0,0.0)">
<path d="M8,24 C10,20 16,17 22,16 C26,12 28,6 32,4 C36,3 38,6 38,10 C42,8 46,9 46,13 C60,14 80,13 95,13 C108,13 112,13 116,17 C119,22 119,30 117,36 C114,44 104,52 88,55 C80,57 60,57 45,54 C35,52 28,49 24,45 C18,40 12,34 9,29 C7.5,27 7.5,25.5 8,24 Z" fill="url(#body)" filter="url(#soft)"/>
<clipPath id="mc25"><path d="M8,24 C10,20 16,17 22,16 C26,12 28,6 32,4 C36,3 38,6 38,10 C42,8 46,9 46,13 C60,14 80,13 95,13 C108,13 112,13 116,17 C119,22 119,30 117,36 C114,44 104,52 88,55 C80,57 60,57 45,54 C35,52 28,49 24,45 C18,40 12,34 9,29 C7.5,27 7.5,25.5 8,24 Z"/></clipPath><g clip-path="url(#mc25)">
<ellipse cx="24" cy="26" rx="15" ry="12" fill="#8a8a8a" opacity="0.5" filter="url(#b25)"/>
<ellipse cx="36" cy="9" rx="8" ry="5" fill="#777" opacity="0.45" filter="url(#b15)"/>
<ellipse cx="30" cy="46" rx="9" ry="6" fill="#808080" opacity="0.45" filter="url(#b25)"/>
<path d="M8,24 C10,20 16,17 22,16 C26,12 28,6 32,4 C36,3 38,6 38,10 C42,8 46,9 46,13 C60,14 80,13 95,13 C108,13 112,13 116,17 C119,22 119,30 117,36 C114,44 104,52 88,55 C80,57 60,57 45,54 C35,52 28,49 24,45 C18,40 12,34 9,29 C7.5,27 7.5,25.5 8,24 Z" fill="#000" filter="url(#fur)" opacity="0.14"/>
</g>
<rect x="34" y="41" width="8" height="3" fill="#f8f8f8" stroke="#444" stroke-width="0.7" transform="rotate(-20 38 42)"/>
<path d="M107.0,16.0 C107.0,8.0 108.0,4.0 110.0,1.0 L115.0,0.0 C114.0,6.0 116.0,11.0 117.5,17.0 Z" fill="#6a40ee" opacity="0.95"/>
<path d="M101.0,15.0 C101.0,10.0 102.0,7.0 104.0,5.0 L107.0,6.0 L107.0,15.0 Z" fill="#7038e6" opacity="0.81"/>
<path d="M76.0,23.0 C76.0,16.0 82.0,13.0 90.0,13.0 L115.0,13.0 L117.0,17.0 L117.0,30.0 C114.0,39.0 105.0,42.0 94.0,42.0 C82.0,40.0 76.0,32.0 76.0,23.0 Z" fill="#7a38e2"/>
<ellipse cx="97.5" cy="23.0" rx="17.5" ry="9.0" fill="#2e42f2" filter="url(#b25)"/>
<ellipse cx="100.5" cy="20.0" rx="13.5" ry="4" fill="#2cbcef" filter="url(#b15)"/>
<ellipse cx="106.0" cy="18.5" rx="8" ry="3.2" fill="#3cec74" filter="url(#b15)"/>
<ellipse cx="111.0" cy="18.0" rx="4" ry="2.4" fill="#d8f030" filter="url(#soft)"/>
<ellipse cx="111.0" cy="18.0" rx="3.8" ry="2.3" fill="#ff1800" filter="url(#soft)"/>
</g>
</g>
<g transform="translate(0,55.77) scale(0.9975,1.0030)">
<rect x="0" y="0" width="157" height="2" fill="#050505"/><rect x="0" y="50" width="40" height="6" fill="#0a0a0a"/>
<rect x="0" y="2" width="45" height="2.5" fill="#242424"/>
<rect x="0" y="49" width="28" height="2.5" fill="#202020"/>
<rect x="120" y="3" width="39" height="26" fill="#1d1d1d"/>
<rect x="0" y="25" width="13" height="5" fill="#9a9a9a" filter="url(#soft)"/>
<path d="M114,38.7 C130,38.7 143,37.7 158,32.4" fill="none" stroke="#a4a4a4" stroke-width="4.6"/>
<g transform="translate(0,1.0)">
<path d="M8,24 C10,20 16,17 22,16 C26,12 28,6 32,4 C36,3 38,6 38,10 C42,8 46,9 46,13 C60,14 80,13 95,13 C108,13 112,13 116,17 C119,22 119,30 117,36 C114,44 104,52 88,55 C80,57 60,57 45,54 C35,52 28,49 24,45 C18,40 12,34 9,29 C7.5,27 7.5,25.5 8,24 Z" fill="url(#body)" filter="url(#soft)"/>
<clipPath id="mc26"><path d="M8,24 C10,20 16,17 22,16 C26,12 28,6 32,4 C36,3 38,6 38,10 C42,8 46,9 46,13 C60,14 80,13 95,13 C108,13 112,13 116,17 C119,22 119,30 117,36 C114,44 104,52 88,55 C80,57 60,57 45,54 C35,52 28,49 24,45 C18,40 12,34 9,29 C7.5,27 7.5,25.5 8,24 Z"/></clipPath><g clip-path="url(#mc26)">
<ellipse cx="24" cy="26" rx="15" ry="12" fill="#8a8a8a" opacity="0.5" filter="url(#b25)"/>
<ellipse cx="36" cy="9" rx="8" ry="5" fill="#777" opacity="0.45" filter="url(#b15)"/>
<ellipse cx="30" cy="46" rx="9" ry="6" fill="#808080" opacity="0.45" filter="url(#b25)"/>
<path d="M8,24 C10,20 16,17 22,16 C26,12 28,6 32,4 C36,3 38,6 38,10 C42,8 46,9 46,13 C60,14 80,13 95,13 C108,13 112,13 116,17 C119,22 119,30 117,36 C114,44 104,52 88,55 C80,57 60,57 45,54 C35,52 28,49 24,45 C18,40 12,34 9,29 C7.5,27 7.5,25.5 8,24 Z" fill="#000" filter="url(#fur)" opacity="0.14"/>
</g>
<rect x="34" y="41" width="8" height="3" fill="#f8f8f8" stroke="#444" stroke-width="0.7" transform="rotate(-20 38 42)"/>
<path d="M107.0,16.0 C107.0,8.0 108.0,4.0 110.0,1.0 L115.0,0.0 C114.0,6.0 116.0,11.0 117.5,17.0 Z" fill="#6a40ee" opacity="0.95"/>
<path d="M101.0,15.0 C101.0,10.0 102.0,7.0 104.0,5.0 L107.0,6.0 L107.0,15.0 Z" fill="#7038e6" opacity="0.81"/>
<path d="M76.0,23.0 C76.0,16.0 82.0,13.0 90.0,13.0 L115.0,13.0 L117.0,17.0 L117.0,35.8 C114.0,44.8 105.0,47.8 94.0,47.8 C82.0,45.8 76.0,37.8 76.0,23.0 Z" fill="#7a38e2"/>
<ellipse cx="97.5" cy="25.0" rx="17.5" ry="10.8" fill="#2e42f2" filter="url(#b25)"/>
<ellipse cx="100.5" cy="20.0" rx="13.5" ry="4" fill="#2cbcef" filter="url(#b15)"/>
<ellipse cx="106.0" cy="18.5" rx="8" ry="3.2" fill="#3cec74" filter="url(#b15)"/>
<ellipse cx="111.0" cy="18.0" rx="4" ry="2.4" fill="#d8f030" filter="url(#soft)"/>
</g>
</g>
<g transform="translate(0,111.53) scale(0.9975,1.0030)">
<rect x="0" y="0" width="157" height="2" fill="#050505"/><rect x="0" y="50" width="40" height="6" fill="#0a0a0a"/>
<rect x="0" y="2" width="45" height="2.5" fill="#242424"/>
<rect x="0" y="49" width="28" height="2.5" fill="#202020"/>
<rect x="120" y="3" width="39" height="26" fill="#1d1d1d"/>
<rect x="0" y="25" width="13" height="5" fill="#9a9a9a" filter="url(#soft)"/>
<path d="M114,37.4 C130,37.4 143,36.4 158,35.1" fill="none" stroke="#a4a4a4" stroke-width="4.6"/>
<g transform="translate(0,0.0)">
<path d="M8,24 C10,20 16,17 22,16 C26,12 28,6 32,4 C36,3 38,6 38,10 C42,8 46,9 46,13 C60,14 80,13 95,13 C108,13 112,13 116,17 C119,22 119,30 117,36 C114,44 104,52 88,55 C80,57 60,57 45,54 C35,52 28,49 24,45 C18,40 12,34 9,29 C7.5,27 7.5,25.5 8,24 Z" fill="url(#body)" filter="url(#soft)"/>
<clipPath id="mc27"><path d="M8,24 C10,20 16,17 22,16 C26,12 28,6 32,4 C36,3 38,6 38,10 C42,8 46,9 46,13 C60,14 80,13 95,13 C108,13 112,13 116,17 C119,22 119,30 117,36 C114,44 104,52 88,55 C80,57 60,57 45,54 C35,52 28,49 24,45 C18,40 12,34 9,29 C7.5,27 7.5,25.5 8,24 Z"/></clipPath><g clip-path="url(#mc27)">
<ellipse cx="24" cy="26" rx="15" ry="12" fill="#8a8a8a" opacity="0.5" filter="url(#b25)"/>
<ellipse cx="36" cy="9" rx="8" ry="5" fill="#777" opacity="0.45" filter="url(#b15)"/>
<ellipse cx="30" cy="46" rx="9" ry="6" fill="#808080" opacity="0.45" filter="url(#b25)"/>
<path d="M8,24 C10,20 16,17 22,16 C26,12 28,6 32,4 C36,3 38,6 38,10 C42,8 46,9 46,13 C60,14 80,13 95,13 C108,13 112,13 116,17 C119,22 119,30 117,36 C114,44 104,52 88,55 C80,57 60,57 45,54 C35,52 28,49 24,45 C18,40 12,34 9,29 C7.5,27 7.5,25.5 8,24 Z" fill="#000" filter="url(#fur)" opacity="0.14"/>
</g>
<rect x="34" y="41" width="8" height="3" fill="#f8f8f8" stroke="#444" stroke-width="0.7" transform="rotate(-20 38 42)"/>
<path d="M107.0,16.0 C107.0,8.0 108.0,4.0 110.0,1.0 L115.0,0.0 C114.0,6.0 116.0,11.0 117.5,17.0 Z" fill="#6a40ee" opacity="0.95"/>
<path d="M101.0,15.0 C101.0,10.0 102.0,7.0 104.0,5.0 L107.0,6.0 L107.0,15.0 Z" fill="#7038e6" opacity="0.81"/>
<path d="M76.0,23.0 C76.0,16.0 82.0,13.0 90.0,13.0 L115.0,13.0 L117.0,17.0 L117.0,30.0 C114.0,39.0 105.0,42.0 94.0,42.0 C82.0,40.0 76.0,32.0 76.0,23.0 Z" fill="#7a38e2"/>
<ellipse cx="97.5" cy="23.0" rx="17.5" ry="9.0" fill="#2e42f2" filter="url(#b25)"/>
<ellipse cx="100.5" cy="20.0" rx="13.5" ry="4" fill="#2cbcef" filter="url(#b15)"/>
<ellipse cx="106.0" cy="18.5" rx="8" ry="3.2" fill="#3cec74" filter="url(#b15)"/>
<ellipse cx="111.0" cy="18.0" rx="4" ry="2.4" fill="#d8f030" filter="url(#soft)"/>
<ellipse cx="103.0" cy="19.0" rx="13" ry="4.5" fill="#40f060" filter="url(#b15)"/>
<ellipse cx="109.0" cy="18.5" rx="7" ry="3.2" fill="#f0f020" filter="url(#soft)"/>
<ellipse cx="111.0" cy="18.0" rx="5.5" ry="2.8" fill="#ff1000" filter="url(#soft)"/>
</g>
</g>
<g transform="translate(0,167.30) scale(0.9975,1.0030)">
<rect x="0" y="0" width="157" height="2" fill="#050505"/><rect x="0" y="50" width="40" height="6" fill="#0a0a0a"/>
<rect x="0" y="2" width="45" height="2.5" fill="#242424"/>
<rect x="0" y="49" width="28" height="2.5" fill="#202020"/>
<rect x="120" y="3" width="39" height="26" fill="#1d1d1d"/>
<rect x="0" y="25" width="13" height="5" fill="#9a9a9a" filter="url(#soft)"/>
<path d="M114,35.8 C130,35.8 143,34.8 158,28.9" fill="none" stroke="#a4a4a4" stroke-width="4.6"/>
<g transform="translate(0,0.0)">
<path d="M8,24 C10,20 16,17 22,16 C26,12 28,6 32,4 C36,3 38,6 38,10 C42,8 46,9 46,13 C60,14 80,13 95,13 C108,13 112,13 116,17 C119,22 119,30 117,36 C114,44 104,52 88,55 C80,57 60,57 45,54 C35,52 28,49 24,45 C18,40 12,34 9,29 C7.5,27 7.5,25.5 8,24 Z" fill="url(#body)" filter="url(#soft)"/>
<clipPath id="mc28"><path d="M8,24 C10,20 16,17 22,16 C26,12 28,6 32,4 C36,3 38,6 38,10 C42,8 46,9 46,13 C60,14 80,13 95,13 C108,13 112,13 116,17 C119,22 119,30 117,36 C114,44 104,52 88,55 C80,57 60,57 45,54 C35,52 28,49 24,45 C18,40 12,34 9,29 C7.5,27 7.5,25.5 8,24 Z"/></clipPath><g clip-path="url(#mc28)">
<ellipse cx="24" cy="26" rx="15" ry="12" fill="#8a8a8a" opacity="0.5" filter="url(#b25)"/>
<ellipse cx="36" cy="9" rx="8" ry="5" fill="#777" opacity="0.45" filter="url(#b15)"/>
<ellipse cx="30" cy="46" rx="9" ry="6" fill="#808080" opacity="0.45" filter="url(#b25)"/>
<path d="M8,24 C10,20 16,17 22,16 C26,12 28,6 32,4 C36,3 38,6 38,10 C42,8 46,9 46,13 C60,14 80,13 95,13 C108,13 112,13 116,17 C119,22 119,30 117,36 C114,44 104,52 88,55 C80,57 60,57 45,54 C35,52 28,49 24,45 C18,40 12,34 9,29 C7.5,27 7.5,25.5 8,24 Z" fill="#000" filter="url(#fur)" opacity="0.14"/>
</g>
<rect x="34" y="41" width="8" height="3" fill="#f8f8f8" stroke="#444" stroke-width="0.7" transform="rotate(-20 38 42)"/>
<path d="M107.0,16.0 C107.0,8.0 108.0,4.0 110.0,1.0 L115.0,0.0 C114.0,6.0 116.0,11.0 117.5,17.0 Z" fill="#6a40ee" opacity="0.95"/>
<path d="M101.0,15.0 C101.0,10.0 102.0,7.0 104.0,5.0 L107.0,6.0 L107.0,15.0 Z" fill="#7038e6" opacity="0.81"/>
<path d="M76.0,23.0 C76.0,16.0 82.0,13.0 90.0,13.0 L115.0,13.0 L117.0,17.0 L117.0,30.0 C114.0,39.0 105.0,42.0 94.0,42.0 C82.0,40.0 76.0,32.0 76.0,23.0 Z" fill="#7a38e2"/>
<ellipse cx="97.5" cy="23.0" rx="17.5" ry="9.0" fill="#2e42f2" filter="url(#b25)"/>
<ellipse cx="100.5" cy="20.0" rx="13.5" ry="4" fill="#2cbcef" filter="url(#b15)"/>
<ellipse cx="106.0" cy="18.5" rx="8" ry="3.2" fill="#3cec74" filter="url(#b15)"/>
<ellipse cx="111.0" cy="18.0" rx="4" ry="2.4" fill="#d8f030" filter="url(#soft)"/>
</g>
</g>
<g transform="translate(0,223.07) scale(0.9975,1.0030)">
<rect x="0" y="0" width="157" height="2" fill="#050505"/><rect x="0" y="50" width="40" height="6" fill="#0a0a0a"/>
<rect x="0" y="2" width="45" height="2.5" fill="#242424"/>
<rect x="0" y="49" width="28" height="2.5" fill="#202020"/>
<rect x="122" y="3" width="37" height="26" fill="#1d1d1d"/>
<rect x="0" y="25" width="13" height="5" fill="#9a9a9a" filter="url(#soft)"/>
<path d="M116,37.1 C132,37.1 145,36.1 158,31.9" fill="none" stroke="#a4a4a4" stroke-width="4.6"/>
<g transform="translate(0,0.0)">
<path d="M8,24 C10,20 16,17 22,16 C26,12 28,6 32,4 C36,3 38,6 38,10 C42,8 46,9 46,13 C60,14 80,13 95,13 C108,13 114,13 118,17 C121,22 121,30 119,36 C116,44 106,52 90,55 C80,57 60,57 45,54 C35,52 28,49 24,45 C18,40 12,34 9,29 C7.5,27 7.5,25.5 8,24 Z" fill="url(#body)" filter="url(#soft)"/>
<clipPath id="mc29"><path d="M8,24 C10,20 16,17 22,16 C26,12 28,6 32,4 C36,3 38,6 38,10 C42,8 46,9 46,13 C60,14 80,13 95,13 C108,13 114,13 118,17 C121,22 121,30 119,36 C116,44 106,52 90,55 C80,57 60,57 45,54 C35,52 28,49 24,45 C18,40 12,34 9,29 C7.5,27 7.5,25.5 8,24 Z"/></clipPath><g clip-path="url(#mc29)">
<ellipse cx="24" cy="26" rx="15" ry="12" fill="#8a8a8a" opacity="0.5" filter="url(#b25)"/>
<ellipse cx="36" cy="9" rx="8" ry="5" fill="#777" opacity="0.45" filter="url(#b15)"/>
<ellipse cx="30" cy="46" rx="9" ry="6" fill="#808080" opacity="0.45" filter="url(#b25)"/>
<path d="M8,24 C10,20 16,17 22,16 C26,12 28,6 32,4 C36,3 38,6 38,10 C42,8 46,9 46,13 C60,14 80,13 95,13 C108,13 114,13 118,17 C121,22 121,30 119,36 C116,44 106,52 90,55 C80,57 60,57 45,54 C35,52 28,49 24,45 C18,40 12,34 9,29 C7.5,27 7.5,25.5 8,24 Z" fill="#000" filter="url(#fur)" opacity="0.14"/>
</g>
<rect x="34" y="41" width="8" height="3" fill="#f8f8f8" stroke="#444" stroke-width="0.7" transform="rotate(-20 38 42)"/>
<path d="M109.0,16.0 C109.0,8.0 110.0,4.0 112.0,1.0 L117.0,0.0 C116.0,6.0 118.0,11.0 119.5,17.0 Z" fill="#6a40ee" opacity="0.95"/>
<path d="M103.0,15.0 C103.0,10.0 104.0,7.0 106.0,5.0 L109.0,6.0 L109.0,15.0 Z" fill="#7038e6" opacity="0.81"/>
<path d="M78.0,23.0 C78.0,16.0 84.0,13.0 92.0,13.0 L117.0,13.0 L119.0,17.0 L119.0,30.0 C116.0,39.0 107.0,42.0 96.0,42.0 C84.0,40.0 78.0,32.0 78.0,23.0 Z" fill="#7a38e2"/>
<ellipse cx="99.5" cy="23.0" rx="17.5" ry="9.0" fill="#2e42f2" filter="url(#b25)"/>
<ellipse cx="102.5" cy="20.0" rx="13.5" ry="4" fill="#2cbcef" filter="url(#b15)"/>
<ellipse cx="108.0" cy="18.5" rx="8" ry="3.2" fill="#3cec74" filter="url(#b15)"/>
<ellipse cx="113.0" cy="18.0" rx="4" ry="2.4" fill="#d8f030" filter="url(#soft)"/>
<ellipse cx="113.0" cy="18.0" rx="3.8" ry="2.3" fill="#ff1800" filter="url(#soft)"/>
</g>
</g>
<g transform="translate(0,278.83) scale(0.9975,1.0030)">
<rect x="0" y="0" width="157" height="2" fill="#050505"/><rect x="0" y="50" width="40" height="6" fill="#0a0a0a"/>
<rect x="0" y="2" width="45" height="2.5" fill="#242424"/>
<rect x="0" y="49" width="28" height="2.5" fill="#202020"/>
<rect x="120" y="3" width="39" height="26" fill="#1d1d1d"/>
<rect x="0" y="25" width="13" height="5" fill="#9a9a9a" filter="url(#soft)"/>
<path d="M114,37.1 C130,37.1 143,36.1 158,31.4" fill="none" stroke="#a4a4a4" stroke-width="4.6"/>
<g transform="translate(0,0.0)">
<path d="M8,24 C10,20 16,17 22,16 C26,12 28,6 32,4 C36,3 38,6 38,10 C42,8 46,9 46,13 C60,14 80,13 95,13 C108,13 112,13 116,17 C119,22 119,30 117,36 C114,44 104,52 88,55 C80,57 60,57 45,54 C35,52 28,49 24,45 C18,40 12,34 9,29 C7.5,27 7.5,25.5 8,24 Z" fill="url(#body)" filter="url(#soft)"/>
<clipPath id="mc30"><path d="M8,24 C10,20 16,17 22,16 C26,12 28,6 32,4 C36,3 38,6 38,10 C42,8 46,9 46,13 C60,14 80,13 95,13 C108,13 112,13 116,17 C119,22 119,30 117,36 C114,44 104,52 88,55 C80,57 60,57 45,54 C35,52 28,49 24,45 C18,40 12,34 9,29 C7.5,27 7.5,25.5 8,24 Z"/></clipPath><g clip-path="url(#mc30)">
<ellipse cx="24" cy="26" rx="15" ry="12" fill="#8a8a8a" opacity="0.5" filter="url(#b25)"/>
<ellipse cx="36" cy="9" rx="8" ry="5" fill="#777" opacity="0.45" filter="url(#b15)"/>
<ellipse cx="30" cy="46" rx="9" ry="6" fill="#808080" opacity="0.45" filter="url(#b25)"/>
<path d="M8,24 C10,20 16,17 22,16 C26,12 28,6 32,4 C36,3 38,6 38,10 C42,8 46,9 46,13 C60,14 80,13 95,13 C108,13 112,13 116,17 C119,22 119,30 117,36 C114,44 104,52 88,55 C80,57 60,57 45,54 C35,52 28,49 24,45 C18,40 12,34 9,29 C7.5,27 7.5,25.5 8,24 Z" fill="#000" filter="url(#fur)" opacity="0.14"/>
</g>
<rect x="34" y="41" width="8" height="3" fill="#f8f8f8" stroke="#444" stroke-width="0.7" transform="rotate(-20 38 42)"/>
<path d="M107.0,16.0 C107.0,8.0 108.0,4.0 110.0,1.0 L115.0,0.0 C114.0,6.0 116.0,11.0 117.5,17.0 Z" fill="#6a40ee" opacity="0.95"/>
<path d="M101.0,15.0 C101.0,10.0 102.0,7.0 104.0,5.0 L107.0,6.0 L107.0,15.0 Z" fill="#7038e6" opacity="0.81"/>
<path d="M76.0,23.0 C76.0,16.0 82.0,13.0 90.0,13.0 L115.0,13.0 L117.0,17.0 L117.0,27.1 C114.0,36.1 105.0,39.1 94.0,39.1 C82.0,37.1 76.0,29.1 76.0,23.0 Z" fill="#7a38e2"/>
<ellipse cx="97.5" cy="22.0" rx="17.5" ry="8.1" fill="#2e42f2" filter="url(#b25)"/>
<ellipse cx="100.5" cy="20.0" rx="13.5" ry="4" fill="#2cbcef" filter="url(#b15)"/>
<ellipse cx="106.0" cy="18.5" rx="8" ry="3.2" fill="#3cec74" filter="url(#b15)"/>
<ellipse cx="111.0" cy="18.0" rx="4" ry="2.4" fill="#d8f030" filter="url(#soft)"/>
<ellipse cx="111.0" cy="18.0" rx="3.8" ry="2.3" fill="#ff1800" filter="url(#soft)"/>
</g>
</g>
</svg>
<rect x="851.8" y="1451.6" width="25.1" height="267.7" fill="url(#cbar)"/>
<text x="831.5" y="1439.3" font-size="24.5" fill="#000" >2.0 × 10<tspan font-size="20" dx="1.5" dy="-7">8</tspan></text>
<text x="833.5" y="1747.7" font-size="24.5" fill="#000" >2.0 × 10<tspan font-size="20" dx="1.5" dy="-7">6</tspan></text>
<text x="0" y="0" font-size="25.8" text-anchor="middle" transform="translate(912.6,1580.3) rotate(-90)" >(photons/s/cm<tspan font-size="16" dy="-8">2</tspan><tspan dy="8">/sr)</tspan></text>
<text x="963.0" y="1321.4" font-size="57" fill="#000" >f</text>
<line x1="1160.0" y1="1407.3" x2="1160.0" y2="1760.7" stroke="#000" stroke-width="2.5" />
<line x1="1158.8" y1="1759.5" x2="1495.0" y2="1759.5" stroke="#000" stroke-width="2.5" />
<line x1="1148.5" y1="1408.9" x2="1160.0" y2="1408.9" stroke="#000" stroke-width="2.5" />
<text x="1049.5" y="1420.4" font-size="26" fill="#000" >2.5×10</text>
<text x="0" y="0" font-size="17.5" transform="translate(1129.1,1410.4) scale(1.3,1)">9</text>
<line x1="1148.5" y1="1479.0" x2="1160.0" y2="1479.0" stroke="#000" stroke-width="2.5" />
<text x="1049.5" y="1490.5" font-size="26" fill="#000" >2.0×10</text>
<text x="0" y="0" font-size="17.5" transform="translate(1129.1,1480.5) scale(1.3,1)">9</text>
<line x1="1148.5" y1="1549.1" x2="1160.0" y2="1549.1" stroke="#000" stroke-width="2.5" />
<text x="1049.5" y="1560.6" font-size="26" fill="#000" >1.5×10</text>
<text x="0" y="0" font-size="17.5" transform="translate(1129.1,1550.6) scale(1.3,1)">9</text>
<line x1="1148.5" y1="1619.2" x2="1160.0" y2="1619.2" stroke="#000" stroke-width="2.5" />
<text x="1049.5" y="1630.7" font-size="26" fill="#000" >1.0×10</text>
<text x="0" y="0" font-size="17.5" transform="translate(1129.1,1620.7) scale(1.3,1)">9</text>
<line x1="1148.5" y1="1689.3" x2="1160.0" y2="1689.3" stroke="#000" stroke-width="2.5" />
<text x="1049.5" y="1700.8" font-size="26" fill="#000" >5.0×10</text>
<text x="0" y="0" font-size="17.5" transform="translate(1129.1,1690.8) scale(1.3,1)">8</text>
<text x="0" y="0" font-size="27.5" text-anchor="middle" transform="translate(1000.5,1581.0) rotate(-90)" >Total Emission</text>
<text x="0" y="0" font-size="27.5" text-anchor="middle" transform="translate(1033.5,1581.0) rotate(-90)" >(photons/s)</text>
<line x1="1201.0" y1="1758.5" x2="1201.0" y2="1771.0" stroke="#000" stroke-width="2.5" />
<text x="0" y="0" font-size="25" text-anchor="end" transform="translate(1207.5,1791.0) rotate(-45)" >TEV</text>
<line x1="1264.0" y1="1758.5" x2="1264.0" y2="1771.0" stroke="#000" stroke-width="2.5" />
<text x="0" y="0" font-size="25" text-anchor="end" transform="translate(1270.5,1791.0) rotate(-45)" >5'M3'M</text>
<line x1="1327.0" y1="1758.5" x2="1327.0" y2="1771.0" stroke="#000" stroke-width="2.5" />
<text x="0" y="0" font-size="25" text-anchor="end" transform="translate(1333.5,1791.0) rotate(-45)" >5'M3'P</text>
<line x1="1390.0" y1="1758.5" x2="1390.0" y2="1771.0" stroke="#000" stroke-width="2.5" />
<text x="0" y="0" font-size="25" text-anchor="end" transform="translate(1396.5,1791.0) rotate(-45)" >5'P3'P</text>
<line x1="1453.0" y1="1758.5" x2="1453.0" y2="1771.0" stroke="#000" stroke-width="2.5" />
<text x="0" y="0" font-size="25" text-anchor="end" transform="translate(1459.5,1791.0) rotate(-45)" >5'P3'M</text>
<line x1="1201.2" y1="1627.0" x2="1201.2" y2="1635.0" stroke="#000" stroke-width="1.8" />
<line x1="1190.6" y1="1635.0" x2="1212.0" y2="1635.0" stroke="#000" stroke-width="1.8" />
<line x1="1179.7" y1="1627.0" x2="1222.5" y2="1627.0" stroke="#000" stroke-width="3" stroke-dasharray="11,3.3"/>
<circle cx="1197.2" cy="1608.9" r="7.6" fill="#bababa" stroke="#111" stroke-width="1.7"/>
<circle cx="1188.8" cy="1616.4" r="7.6" fill="#bababa" stroke="#111" stroke-width="1.7"/>
<circle cx="1205.0" cy="1620.2" r="7.6" fill="#bababa" stroke="#111" stroke-width="1.7"/>
<circle cx="1214.1" cy="1613.6" r="7.6" fill="#bababa" stroke="#111" stroke-width="1.7"/>
<circle cx="1197.2" cy="1655.0" r="7.6" fill="#bababa" stroke="#111" stroke-width="1.7"/>
<circle cx="1205.7" cy="1647.2" r="7.6" fill="#bababa" stroke="#111" stroke-width="1.7"/>
<line x1="1264.0" y1="1569.0" x2="1264.0" y2="1595.6" stroke="#000" stroke-width="1.8" />
<line x1="1253.5" y1="1569.0" x2="1274.5" y2="1569.0" stroke="#000" stroke-width="1.8" />
<line x1="1253.5" y1="1595.6" x2="1274.5" y2="1595.6" stroke="#000" stroke-width="1.8" />
<line x1="1243.0" y1="1582.5" x2="1285.5" y2="1582.5" stroke="#000" stroke-width="3" stroke-dasharray="11,3.3"/>
<circle cx="1264.0" cy="1525.6" r="7.6" fill="#6287f2" stroke="#111" stroke-width="1.7"/>
<circle cx="1264.0" cy="1574.2" r="7.6" fill="#6287f2" stroke="#111" stroke-width="1.7"/>
<circle cx="1251.1" cy="1584.3" r="7.6" fill="#6287f2" stroke="#111" stroke-width="1.7"/>
<circle cx="1264.0" cy="1592.8" r="7.6" fill="#6287f2" stroke="#111" stroke-width="1.7"/>
<circle cx="1276.9" cy="1591.6" r="7.6" fill="#6287f2" stroke="#111" stroke-width="1.7"/>
<circle cx="1264.0" cy="1625.1" r="7.6" fill="#6287f2" stroke="#111" stroke-width="1.7"/>
<line x1="1327.0" y1="1641.2" x2="1327.0" y2="1678.2" stroke="#000" stroke-width="1.8" />
<line x1="1316.0" y1="1641.2" x2="1337.8" y2="1641.2" stroke="#000" stroke-width="1.8" />
<line x1="1316.0" y1="1678.2" x2="1337.8" y2="1678.2" stroke="#000" stroke-width="1.8" />
<line x1="1304.8" y1="1659.5" x2="1348.0" y2="1659.5" stroke="#000" stroke-width="3" stroke-dasharray="11,3.3"/>
<circle cx="1314.2" cy="1621.6" r="7.6" fill="#f79646" stroke="#111" stroke-width="1.7"/>
<circle cx="1339.6" cy="1630.7" r="7.6" fill="#f79646" stroke="#111" stroke-width="1.7"/>
<circle cx="1327.0" cy="1636.3" r="7.6" fill="#f79646" stroke="#111" stroke-width="1.7"/>
<circle cx="1339.6" cy="1656.4" r="7.6" fill="#f79646" stroke="#111" stroke-width="1.7"/>
<circle cx="1327.0" cy="1666.5" r="7.6" fill="#f79646" stroke="#111" stroke-width="1.7"/>
<circle cx="1327.0" cy="1745.3" r="7.6" fill="#f79646" stroke="#111" stroke-width="1.7"/>
<line x1="1389.7" y1="1564.1" x2="1389.7" y2="1588.7" stroke="#000" stroke-width="1.8" />
<line x1="1379.3" y1="1564.1" x2="1400.0" y2="1564.1" stroke="#000" stroke-width="1.8" />
<line x1="1379.3" y1="1588.7" x2="1400.0" y2="1588.7" stroke="#000" stroke-width="1.8" />
<line x1="1367.6" y1="1576.4" x2="1411.4" y2="1576.4" stroke="#000" stroke-width="3" stroke-dasharray="11,3.3"/>
<circle cx="1402.5" cy="1540.9" r="7.6" fill="#e15cc3" stroke="#111" stroke-width="1.7"/>
<circle cx="1377.1" cy="1550.9" r="7.6" fill="#e15cc3" stroke="#111" stroke-width="1.7"/>
<circle cx="1402.5" cy="1561.9" r="7.6" fill="#e15cc3" stroke="#111" stroke-width="1.7"/>
<circle cx="1377.1" cy="1587.3" r="7.6" fill="#e15cc3" stroke="#111" stroke-width="1.7"/>
<circle cx="1402.5" cy="1600.0" r="7.6" fill="#e15cc3" stroke="#111" stroke-width="1.7"/>
<circle cx="1389.7" cy="1618.1" r="7.6" fill="#e15cc3" stroke="#111" stroke-width="1.7"/>
<line x1="1452.4" y1="1521.6" x2="1452.4" y2="1579.4" stroke="#000" stroke-width="1.8" />
<line x1="1441.7" y1="1521.6" x2="1463.1" y2="1521.6" stroke="#000" stroke-width="1.8" />
<line x1="1441.7" y1="1579.4" x2="1463.1" y2="1579.4" stroke="#000" stroke-width="1.8" />
<line x1="1430.4" y1="1550.6" x2="1474.4" y2="1550.6" stroke="#000" stroke-width="3" stroke-dasharray="11,3.3"/>
<circle cx="1452.4" cy="1443.6" r="7.6" fill="#00bb64" stroke="#111" stroke-width="1.7"/>
<circle cx="1452.4" cy="1501.6" r="7.6" fill="#00bb64" stroke="#111" stroke-width="1.7"/>
<circle cx="1452.4" cy="1530.1" r="7.6" fill="#00bb64" stroke="#111" stroke-width="1.7"/>
<circle cx="1452.4" cy="1607.7" r="7.6" fill="#00bb64" stroke="#111" stroke-width="1.7"/>
<circle cx="1439.9" cy="1611.3" r="7.6" fill="#00bb64" stroke="#111" stroke-width="1.7"/>
<circle cx="1465.5" cy="1609.9" r="7.6" fill="#00bb64" stroke="#111" stroke-width="1.7"/>
<path d="M1201,1511 L1201,1493.6 L1258.6,1493.6 L1258.6,1511" fill="none" stroke="#000" stroke-width="2.6"/>
<path d="M1269.4,1511 L1269.4,1493.6 L1321.4,1493.6 L1321.4,1511" fill="none" stroke="#000" stroke-width="2.6"/>
<path d="M1332,1511 L1332,1493.6 L1390,1493.6 L1390,1511" fill="none" stroke="#000" stroke-width="2.6"/>
<path d="M1201,1469 L1201,1450.4 L1390,1450.4 L1390,1467" fill="none" stroke="#000" stroke-width="2.6"/>
<path d="M1264,1430 L1264,1407.4 L1384.4,1407.4 L1384.4,1428" fill="none" stroke="#000" stroke-width="2.6"/>
<path d="M1395,1429 L1395,1407.4 L1452.4,1407.4 L1452.4,1431" fill="none" stroke="#000" stroke-width="2.6"/>
<path d="M1326.6,1377 L1326.6,1362 L1453,1362 L1453,1377" fill="none" stroke="#000" stroke-width="2.6"/>
<text x="1230.0" y="1479.0" font-size="25" text-anchor="middle" fill="#000" >ns</text>
<text x="1296.0" y="1435.6" font-size="25" text-anchor="middle" fill="#000" >ns</text>
<text x="1324.2" y="1392.4" font-size="25" text-anchor="middle" fill="#000" >ns</text>
<text x="1424.0" y="1392.4" font-size="25" text-anchor="middle" fill="#000" >ns</text>
<path d="M1295.30,1466.20L1295.30,1481.80M1288.55,1470.10L1302.05,1477.90M1302.05,1470.10L1288.55,1477.90" stroke="#000" stroke-width="3.4" fill="none"/>
<path d="M1360.80,1466.20L1360.80,1481.80M1354.05,1470.10L1367.55,1477.90M1367.55,1470.10L1354.05,1477.90" stroke="#000" stroke-width="3.4" fill="none"/>
<path d="M1381.10,1334.60L1381.10,1350.20M1374.35,1338.50L1387.85,1346.30M1387.85,1338.50L1374.35,1346.30" stroke="#000" stroke-width="3.4" fill="none"/>
<path d="M1397.90,1334.60L1397.90,1350.20M1391.15,1338.50L1404.65,1346.30M1404.65,1338.50L1391.15,1346.30" stroke="#000" stroke-width="3.4" fill="none"/>
</svg>
</body></html>
